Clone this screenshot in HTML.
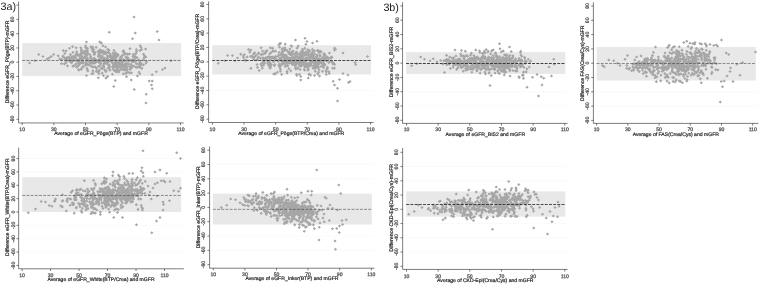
<!DOCTYPE html>
<html lang="en">
<head>
<meta charset="utf-8">
<title>Figure 3 - Bland-Altman plots</title>
<style>
html,body{margin:0;padding:0;background:#fff;}
body{width:760px;height:284px;overflow:hidden;font-family:"Liberation Sans",Arial,sans-serif;}
svg{display:block;}
text{text-rendering:geometricPrecision;}
.ax{stroke:#383838;stroke-width:0.65;fill:none;}
.band{fill:#e8e8e8;}
.grid{stroke:#f5f5f5;stroke-width:0.5;fill:none;}
.dash{stroke:#2c2c2c;stroke-dasharray:2.9 1.3;fill:none;}
.pts{fill:#a6a6a6;stroke:none;}
.tl{font-size:5.1px;fill:#505050;stroke:#505050;stroke-width:0.25;text-anchor:middle;font-family:"Liberation Sans",Arial,sans-serif;}
.tt{font-size:5.08px;fill:#2a2a2a;stroke:#2a2a2a;stroke-width:0.22;text-anchor:middle;font-family:"Liberation Sans",Arial,sans-serif;}
.lab{font-size:10.75px;fill:#1a1a1a;font-family:"Liberation Sans",Arial,sans-serif;}
</style>
</head>
<body>
<svg width="760" height="284" viewBox="0 0 760 284">
<rect x="0" y="0" width="760" height="284" fill="#ffffff"/>

<g id="panel1">
<rect class="band" x="22.2" y="43.05" width="159" height="33.05"/>
<path class="pts" d="M103.3 63.85l1.6 1.6-1.6 1.6-1.6-1.6zM75.89 62.46l1.6 1.6-1.6 1.6-1.6-1.6zM111.88 60.83l1.6 1.6-1.6 1.6-1.6-1.6zM95.7 65.74l1.6 1.6-1.6 1.6-1.6-1.6zM79.99 56.48l1.6 1.6-1.6 1.6-1.6-1.6zM81.22 61.07l1.6 1.6-1.6 1.6-1.6-1.6zM110.03 68.63l1.6 1.6-1.6 1.6-1.6-1.6zM128.84 57.85l1.6 1.6-1.6 1.6-1.6-1.6zM126.87 65.56l1.6 1.6-1.6 1.6-1.6-1.6zM116.32 70.41l1.6 1.6-1.6 1.6-1.6-1.6zM115.13 64.44l1.6 1.6-1.6 1.6-1.6-1.6zM103.88 52.36l1.6 1.6-1.6 1.6-1.6-1.6zM94.85 50.59l1.6 1.6-1.6 1.6-1.6-1.6zM126.97 68.18l1.6 1.6-1.6 1.6-1.6-1.6zM78.16 64.39l1.6 1.6-1.6 1.6-1.6-1.6zM98.23 54.7l1.6 1.6-1.6 1.6-1.6-1.6zM69.05 55.52l1.6 1.6-1.6 1.6-1.6-1.6zM65.62 58.72l1.6 1.6-1.6 1.6-1.6-1.6zM61.51 62.02l1.6 1.6-1.6 1.6-1.6-1.6zM144.17 56.23l1.6 1.6-1.6 1.6-1.6-1.6zM98.01 70.28l1.6 1.6-1.6 1.6-1.6-1.6zM118.83 65.52l1.6 1.6-1.6 1.6-1.6-1.6zM69.47 46.65l1.6 1.6-1.6 1.6-1.6-1.6zM116.11 68.6l1.6 1.6-1.6 1.6-1.6-1.6zM66.85 56.79l1.6 1.6-1.6 1.6-1.6-1.6zM125.86 52.32l1.6 1.6-1.6 1.6-1.6-1.6zM122.34 61.59l1.6 1.6-1.6 1.6-1.6-1.6zM103.88 62.26l1.6 1.6-1.6 1.6-1.6-1.6zM117.52 67.5l1.6 1.6-1.6 1.6-1.6-1.6zM137.6 65.51l1.6 1.6-1.6 1.6-1.6-1.6zM82.97 51.15l1.6 1.6-1.6 1.6-1.6-1.6zM139.07 70.57l1.6 1.6-1.6 1.6-1.6-1.6zM125.74 62.97l1.6 1.6-1.6 1.6-1.6-1.6zM79.54 58.11l1.6 1.6-1.6 1.6-1.6-1.6zM104.59 68.19l1.6 1.6-1.6 1.6-1.6-1.6zM90.81 45.18l1.6 1.6-1.6 1.6-1.6-1.6zM82.14 51.76l1.6 1.6-1.6 1.6-1.6-1.6zM139.9 49.01l1.6 1.6-1.6 1.6-1.6-1.6zM76.62 50.25l1.6 1.6-1.6 1.6-1.6-1.6zM122.78 64.97l1.6 1.6-1.6 1.6-1.6-1.6zM108.92 64.23l1.6 1.6-1.6 1.6-1.6-1.6zM87.85 69.32l1.6 1.6-1.6 1.6-1.6-1.6zM75.41 55.75l1.6 1.6-1.6 1.6-1.6-1.6zM96.76 58.78l1.6 1.6-1.6 1.6-1.6-1.6zM83.39 65.35l1.6 1.6-1.6 1.6-1.6-1.6zM133.13 52.77l1.6 1.6-1.6 1.6-1.6-1.6zM86.8 61.87l1.6 1.6-1.6 1.6-1.6-1.6zM75.77 52.98l1.6 1.6-1.6 1.6-1.6-1.6zM107.47 57.12l1.6 1.6-1.6 1.6-1.6-1.6zM86.24 57.35l1.6 1.6-1.6 1.6-1.6-1.6zM121.2 67.42l1.6 1.6-1.6 1.6-1.6-1.6zM89.6 62.44l1.6 1.6-1.6 1.6-1.6-1.6zM78.07 53.85l1.6 1.6-1.6 1.6-1.6-1.6zM116.83 65.8l1.6 1.6-1.6 1.6-1.6-1.6zM114.62 56.04l1.6 1.6-1.6 1.6-1.6-1.6zM110.68 58.08l1.6 1.6-1.6 1.6-1.6-1.6zM126.81 67.33l1.6 1.6-1.6 1.6-1.6-1.6zM71.6 61.22l1.6 1.6-1.6 1.6-1.6-1.6zM103.1 49.4l1.6 1.6-1.6 1.6-1.6-1.6zM106.18 59.83l1.6 1.6-1.6 1.6-1.6-1.6zM69.42 58.73l1.6 1.6-1.6 1.6-1.6-1.6zM67.83 58.79l1.6 1.6-1.6 1.6-1.6-1.6zM120.83 58.52l1.6 1.6-1.6 1.6-1.6-1.6zM132.04 59.77l1.6 1.6-1.6 1.6-1.6-1.6zM136.59 49.79l1.6 1.6-1.6 1.6-1.6-1.6zM108.69 49.13l1.6 1.6-1.6 1.6-1.6-1.6zM124.4 52.6l1.6 1.6-1.6 1.6-1.6-1.6zM98.47 58.28l1.6 1.6-1.6 1.6-1.6-1.6zM113.07 55.39l1.6 1.6-1.6 1.6-1.6-1.6zM81.73 54.53l1.6 1.6-1.6 1.6-1.6-1.6zM91.87 47.19l1.6 1.6-1.6 1.6-1.6-1.6zM124.85 63.45l1.6 1.6-1.6 1.6-1.6-1.6zM79.47 58.77l1.6 1.6-1.6 1.6-1.6-1.6zM139.59 63.99l1.6 1.6-1.6 1.6-1.6-1.6zM136.14 65.84l1.6 1.6-1.6 1.6-1.6-1.6zM115.05 55.25l1.6 1.6-1.6 1.6-1.6-1.6zM144.95 54.63l1.6 1.6-1.6 1.6-1.6-1.6zM92.24 58.35l1.6 1.6-1.6 1.6-1.6-1.6zM120.41 56.31l1.6 1.6-1.6 1.6-1.6-1.6zM111.26 54.72l1.6 1.6-1.6 1.6-1.6-1.6zM99.86 50.65l1.6 1.6-1.6 1.6-1.6-1.6zM98.96 60.92l1.6 1.6-1.6 1.6-1.6-1.6zM66.05 49.34l1.6 1.6-1.6 1.6-1.6-1.6zM87.53 46.79l1.6 1.6-1.6 1.6-1.6-1.6zM125.97 55.45l1.6 1.6-1.6 1.6-1.6-1.6zM109.6 66.56l1.6 1.6-1.6 1.6-1.6-1.6zM113.51 63.8l1.6 1.6-1.6 1.6-1.6-1.6zM139.7 65.79l1.6 1.6-1.6 1.6-1.6-1.6zM105.92 51.49l1.6 1.6-1.6 1.6-1.6-1.6zM122.63 59.42l1.6 1.6-1.6 1.6-1.6-1.6zM129.98 47.1l1.6 1.6-1.6 1.6-1.6-1.6zM129.77 67.77l1.6 1.6-1.6 1.6-1.6-1.6zM134.04 64.6l1.6 1.6-1.6 1.6-1.6-1.6zM86.26 52.07l1.6 1.6-1.6 1.6-1.6-1.6zM129.5 71.26l1.6 1.6-1.6 1.6-1.6-1.6zM107.48 54.19l1.6 1.6-1.6 1.6-1.6-1.6zM71.34 60.11l1.6 1.6-1.6 1.6-1.6-1.6zM118.11 53.19l1.6 1.6-1.6 1.6-1.6-1.6zM92.98 65.43l1.6 1.6-1.6 1.6-1.6-1.6zM130.32 67.57l1.6 1.6-1.6 1.6-1.6-1.6zM113.17 67.75l1.6 1.6-1.6 1.6-1.6-1.6zM94.66 56.79l1.6 1.6-1.6 1.6-1.6-1.6zM98.78 69.63l1.6 1.6-1.6 1.6-1.6-1.6zM99.75 48.28l1.6 1.6-1.6 1.6-1.6-1.6zM86.61 55.88l1.6 1.6-1.6 1.6-1.6-1.6zM114 63.8l1.6 1.6-1.6 1.6-1.6-1.6zM71.05 59.3l1.6 1.6-1.6 1.6-1.6-1.6zM77.72 58.22l1.6 1.6-1.6 1.6-1.6-1.6zM111.19 54.27l1.6 1.6-1.6 1.6-1.6-1.6zM75.82 62.75l1.6 1.6-1.6 1.6-1.6-1.6zM109.32 63.44l1.6 1.6-1.6 1.6-1.6-1.6zM120.44 57.32l1.6 1.6-1.6 1.6-1.6-1.6zM84.62 52.4l1.6 1.6-1.6 1.6-1.6-1.6zM96.75 67.12l1.6 1.6-1.6 1.6-1.6-1.6zM85.22 49.91l1.6 1.6-1.6 1.6-1.6-1.6zM78.84 68.43l1.6 1.6-1.6 1.6-1.6-1.6zM100.98 56.66l1.6 1.6-1.6 1.6-1.6-1.6zM128.63 58.14l1.6 1.6-1.6 1.6-1.6-1.6zM82.77 65.07l1.6 1.6-1.6 1.6-1.6-1.6zM82.78 61.41l1.6 1.6-1.6 1.6-1.6-1.6zM116.61 52.11l1.6 1.6-1.6 1.6-1.6-1.6zM58.13 54.22l1.6 1.6-1.6 1.6-1.6-1.6zM87.61 62.82l1.6 1.6-1.6 1.6-1.6-1.6zM103.93 60.08l1.6 1.6-1.6 1.6-1.6-1.6zM69.19 55.85l1.6 1.6-1.6 1.6-1.6-1.6zM140.83 62.19l1.6 1.6-1.6 1.6-1.6-1.6zM80.18 61.5l1.6 1.6-1.6 1.6-1.6-1.6zM124.74 58.97l1.6 1.6-1.6 1.6-1.6-1.6zM96.65 59.54l1.6 1.6-1.6 1.6-1.6-1.6zM70.69 60.45l1.6 1.6-1.6 1.6-1.6-1.6zM114.82 65.66l1.6 1.6-1.6 1.6-1.6-1.6zM123.27 72.26l1.6 1.6-1.6 1.6-1.6-1.6zM105.85 57.95l1.6 1.6-1.6 1.6-1.6-1.6zM105.9 70.04l1.6 1.6-1.6 1.6-1.6-1.6zM122.34 62.94l1.6 1.6-1.6 1.6-1.6-1.6zM127.68 52.85l1.6 1.6-1.6 1.6-1.6-1.6zM62.98 54.47l1.6 1.6-1.6 1.6-1.6-1.6zM143.47 52.38l1.6 1.6-1.6 1.6-1.6-1.6zM80.74 54.17l1.6 1.6-1.6 1.6-1.6-1.6zM135.49 59.76l1.6 1.6-1.6 1.6-1.6-1.6zM97.06 59.08l1.6 1.6-1.6 1.6-1.6-1.6zM101.37 41.45l1.6 1.6-1.6 1.6-1.6-1.6zM82.84 56.6l1.6 1.6-1.6 1.6-1.6-1.6zM129.54 52.33l1.6 1.6-1.6 1.6-1.6-1.6zM137.08 56.19l1.6 1.6-1.6 1.6-1.6-1.6zM132.54 58.92l1.6 1.6-1.6 1.6-1.6-1.6zM118.18 61.23l1.6 1.6-1.6 1.6-1.6-1.6zM119.36 68.99l1.6 1.6-1.6 1.6-1.6-1.6zM131.74 58.63l1.6 1.6-1.6 1.6-1.6-1.6zM123.68 58.16l1.6 1.6-1.6 1.6-1.6-1.6zM76.45 59.53l1.6 1.6-1.6 1.6-1.6-1.6zM91.84 72.14l1.6 1.6-1.6 1.6-1.6-1.6zM104.82 56.75l1.6 1.6-1.6 1.6-1.6-1.6zM116.44 60.25l1.6 1.6-1.6 1.6-1.6-1.6zM120.65 65.4l1.6 1.6-1.6 1.6-1.6-1.6zM85.64 49.83l1.6 1.6-1.6 1.6-1.6-1.6zM81.97 56.47l1.6 1.6-1.6 1.6-1.6-1.6zM108.48 58.77l1.6 1.6-1.6 1.6-1.6-1.6zM115.85 60.94l1.6 1.6-1.6 1.6-1.6-1.6zM133.72 60.03l1.6 1.6-1.6 1.6-1.6-1.6zM80.58 57.53l1.6 1.6-1.6 1.6-1.6-1.6zM114.5 61.7l1.6 1.6-1.6 1.6-1.6-1.6zM100.74 48.84l1.6 1.6-1.6 1.6-1.6-1.6zM106.47 60.42l1.6 1.6-1.6 1.6-1.6-1.6zM109.28 64.54l1.6 1.6-1.6 1.6-1.6-1.6zM73.18 58.32l1.6 1.6-1.6 1.6-1.6-1.6zM107.96 54.98l1.6 1.6-1.6 1.6-1.6-1.6zM125.4 61.95l1.6 1.6-1.6 1.6-1.6-1.6zM119.89 63.51l1.6 1.6-1.6 1.6-1.6-1.6zM108.18 66.58l1.6 1.6-1.6 1.6-1.6-1.6zM96.89 59.63l1.6 1.6-1.6 1.6-1.6-1.6zM59.82 57.23l1.6 1.6-1.6 1.6-1.6-1.6zM102.26 66.71l1.6 1.6-1.6 1.6-1.6-1.6zM64.73 51.78l1.6 1.6-1.6 1.6-1.6-1.6zM112.48 72.64l1.6 1.6-1.6 1.6-1.6-1.6zM118.4 62.5l1.6 1.6-1.6 1.6-1.6-1.6zM91.4 64.83l1.6 1.6-1.6 1.6-1.6-1.6zM88.31 58.05l1.6 1.6-1.6 1.6-1.6-1.6zM108.36 60.2l1.6 1.6-1.6 1.6-1.6-1.6zM127.58 70.29l1.6 1.6-1.6 1.6-1.6-1.6zM141.59 66.54l1.6 1.6-1.6 1.6-1.6-1.6zM66.98 55.78l1.6 1.6-1.6 1.6-1.6-1.6zM99.14 68.79l1.6 1.6-1.6 1.6-1.6-1.6zM98.75 50.16l1.6 1.6-1.6 1.6-1.6-1.6zM100.67 61.95l1.6 1.6-1.6 1.6-1.6-1.6zM64.3 62.32l1.6 1.6-1.6 1.6-1.6-1.6zM128.76 59.28l1.6 1.6-1.6 1.6-1.6-1.6zM134.42 57.08l1.6 1.6-1.6 1.6-1.6-1.6zM87.34 68.04l1.6 1.6-1.6 1.6-1.6-1.6zM101.82 66.84l1.6 1.6-1.6 1.6-1.6-1.6zM141.91 66.79l1.6 1.6-1.6 1.6-1.6-1.6zM115.15 53.85l1.6 1.6-1.6 1.6-1.6-1.6zM94.42 52.47l1.6 1.6-1.6 1.6-1.6-1.6zM81.63 50.47l1.6 1.6-1.6 1.6-1.6-1.6zM113.18 65.05l1.6 1.6-1.6 1.6-1.6-1.6zM120.46 56.1l1.6 1.6-1.6 1.6-1.6-1.6zM103.11 63.95l1.6 1.6-1.6 1.6-1.6-1.6zM53.58 52.88l1.6 1.6-1.6 1.6-1.6-1.6zM88.56 58.53l1.6 1.6-1.6 1.6-1.6-1.6zM109.92 53.84l1.6 1.6-1.6 1.6-1.6-1.6zM108.23 50.83l1.6 1.6-1.6 1.6-1.6-1.6zM130.84 58.47l1.6 1.6-1.6 1.6-1.6-1.6zM120 65.42l1.6 1.6-1.6 1.6-1.6-1.6zM67.53 64.3l1.6 1.6-1.6 1.6-1.6-1.6zM72.97 64.61l1.6 1.6-1.6 1.6-1.6-1.6zM103.58 50.06l1.6 1.6-1.6 1.6-1.6-1.6zM126.53 75.09l1.6 1.6-1.6 1.6-1.6-1.6zM138.94 58.45l1.6 1.6-1.6 1.6-1.6-1.6zM51.16 55.01l1.6 1.6-1.6 1.6-1.6-1.6zM107.61 74.84l1.6 1.6-1.6 1.6-1.6-1.6zM141.69 47.92l1.6 1.6-1.6 1.6-1.6-1.6zM94.89 52.24l1.6 1.6-1.6 1.6-1.6-1.6zM83.43 61.05l1.6 1.6-1.6 1.6-1.6-1.6zM132.17 64.18l1.6 1.6-1.6 1.6-1.6-1.6zM132.87 58.42l1.6 1.6-1.6 1.6-1.6-1.6zM126.87 56.96l1.6 1.6-1.6 1.6-1.6-1.6zM85.65 61.07l1.6 1.6-1.6 1.6-1.6-1.6zM123.43 49.07l1.6 1.6-1.6 1.6-1.6-1.6zM97.91 59.7l1.6 1.6-1.6 1.6-1.6-1.6zM70.17 59.99l1.6 1.6-1.6 1.6-1.6-1.6zM73.23 55.69l1.6 1.6-1.6 1.6-1.6-1.6zM139.79 72.13l1.6 1.6-1.6 1.6-1.6-1.6zM125.43 68.2l1.6 1.6-1.6 1.6-1.6-1.6zM85.54 50.31l1.6 1.6-1.6 1.6-1.6-1.6zM115.95 53.64l1.6 1.6-1.6 1.6-1.6-1.6zM124.46 51.06l1.6 1.6-1.6 1.6-1.6-1.6zM67.54 56.91l1.6 1.6-1.6 1.6-1.6-1.6zM113.69 52.11l1.6 1.6-1.6 1.6-1.6-1.6zM63.23 48.99l1.6 1.6-1.6 1.6-1.6-1.6zM122.4 53.8l1.6 1.6-1.6 1.6-1.6-1.6zM80.35 54.2l1.6 1.6-1.6 1.6-1.6-1.6zM121.62 56.57l1.6 1.6-1.6 1.6-1.6-1.6zM71.91 55.32l1.6 1.6-1.6 1.6-1.6-1.6zM87.11 53.41l1.6 1.6-1.6 1.6-1.6-1.6zM106.76 62.04l1.6 1.6-1.6 1.6-1.6-1.6zM113.76 56.86l1.6 1.6-1.6 1.6-1.6-1.6zM94.4 58.43l1.6 1.6-1.6 1.6-1.6-1.6zM125.74 71.73l1.6 1.6-1.6 1.6-1.6-1.6zM85.17 63.31l1.6 1.6-1.6 1.6-1.6-1.6zM116.01 68.77l1.6 1.6-1.6 1.6-1.6-1.6zM67.04 58.65l1.6 1.6-1.6 1.6-1.6-1.6zM94.96 65.14l1.6 1.6-1.6 1.6-1.6-1.6zM144.34 54.21l1.6 1.6-1.6 1.6-1.6-1.6zM106.29 61.31l1.6 1.6-1.6 1.6-1.6-1.6zM129.58 64.99l1.6 1.6-1.6 1.6-1.6-1.6zM83.94 56.11l1.6 1.6-1.6 1.6-1.6-1.6zM114.69 69.29l1.6 1.6-1.6 1.6-1.6-1.6zM115.35 56.87l1.6 1.6-1.6 1.6-1.6-1.6zM126.73 71.34l1.6 1.6-1.6 1.6-1.6-1.6zM120.6 55.56l1.6 1.6-1.6 1.6-1.6-1.6zM128.44 62.28l1.6 1.6-1.6 1.6-1.6-1.6zM80.22 52.84l1.6 1.6-1.6 1.6-1.6-1.6zM85.17 54.59l1.6 1.6-1.6 1.6-1.6-1.6zM145.85 55.42l1.6 1.6-1.6 1.6-1.6-1.6zM90.3 60.11l1.6 1.6-1.6 1.6-1.6-1.6zM112.28 65.14l1.6 1.6-1.6 1.6-1.6-1.6zM120.41 62.25l1.6 1.6-1.6 1.6-1.6-1.6zM79.78 57.49l1.6 1.6-1.6 1.6-1.6-1.6zM78.5 61.98l1.6 1.6-1.6 1.6-1.6-1.6zM107.25 59.86l1.6 1.6-1.6 1.6-1.6-1.6zM82.6 58.58l1.6 1.6-1.6 1.6-1.6-1.6zM75.73 54.4l1.6 1.6-1.6 1.6-1.6-1.6zM75.52 57.09l1.6 1.6-1.6 1.6-1.6-1.6zM110.69 59.64l1.6 1.6-1.6 1.6-1.6-1.6zM87.14 63.4l1.6 1.6-1.6 1.6-1.6-1.6zM94.03 61.54l1.6 1.6-1.6 1.6-1.6-1.6zM112.23 58.98l1.6 1.6-1.6 1.6-1.6-1.6zM111.09 54.78l1.6 1.6-1.6 1.6-1.6-1.6zM110.53 53.64l1.6 1.6-1.6 1.6-1.6-1.6zM90.84 56.66l1.6 1.6-1.6 1.6-1.6-1.6zM145.98 61.46l1.6 1.6-1.6 1.6-1.6-1.6zM121.68 59.55l1.6 1.6-1.6 1.6-1.6-1.6zM95.64 60.94l1.6 1.6-1.6 1.6-1.6-1.6zM98.45 59.49l1.6 1.6-1.6 1.6-1.6-1.6zM126.69 62.44l1.6 1.6-1.6 1.6-1.6-1.6zM115.19 51.32l1.6 1.6-1.6 1.6-1.6-1.6zM70.04 56.42l1.6 1.6-1.6 1.6-1.6-1.6zM146.61 59.88l1.6 1.6-1.6 1.6-1.6-1.6zM96.23 58.61l1.6 1.6-1.6 1.6-1.6-1.6zM113.81 53.74l1.6 1.6-1.6 1.6-1.6-1.6zM73.27 59.12l1.6 1.6-1.6 1.6-1.6-1.6zM138.43 62.34l1.6 1.6-1.6 1.6-1.6-1.6zM114.8 51.76l1.6 1.6-1.6 1.6-1.6-1.6zM113.41 65.8l1.6 1.6-1.6 1.6-1.6-1.6zM81.29 49.21l1.6 1.6-1.6 1.6-1.6-1.6zM100.16 63.59l1.6 1.6-1.6 1.6-1.6-1.6zM127.68 56.01l1.6 1.6-1.6 1.6-1.6-1.6zM110.93 55.58l1.6 1.6-1.6 1.6-1.6-1.6zM109.65 59.21l1.6 1.6-1.6 1.6-1.6-1.6zM112.89 56.63l1.6 1.6-1.6 1.6-1.6-1.6zM82.88 59.06l1.6 1.6-1.6 1.6-1.6-1.6zM85.5 45.86l1.6 1.6-1.6 1.6-1.6-1.6zM115.2 58.23l1.6 1.6-1.6 1.6-1.6-1.6zM118.06 63.78l1.6 1.6-1.6 1.6-1.6-1.6zM120.11 58.33l1.6 1.6-1.6 1.6-1.6-1.6zM96.14 45.76l1.6 1.6-1.6 1.6-1.6-1.6zM124.48 68.56l1.6 1.6-1.6 1.6-1.6-1.6zM98.97 71.98l1.6 1.6-1.6 1.6-1.6-1.6zM96.23 59.95l1.6 1.6-1.6 1.6-1.6-1.6zM105.79 52.09l1.6 1.6-1.6 1.6-1.6-1.6zM131.91 60.18l1.6 1.6-1.6 1.6-1.6-1.6zM93.61 47.8l1.6 1.6-1.6 1.6-1.6-1.6zM145.59 47.44l1.6 1.6-1.6 1.6-1.6-1.6zM135.96 51.81l1.6 1.6-1.6 1.6-1.6-1.6zM105.5 45.38l1.6 1.6-1.6 1.6-1.6-1.6zM80.44 57.08l1.6 1.6-1.6 1.6-1.6-1.6zM72.88 50.85l1.6 1.6-1.6 1.6-1.6-1.6zM126.33 59.06l1.6 1.6-1.6 1.6-1.6-1.6zM132.12 59.72l1.6 1.6-1.6 1.6-1.6-1.6zM102.12 71.45l1.6 1.6-1.6 1.6-1.6-1.6zM140.39 60.68l1.6 1.6-1.6 1.6-1.6-1.6zM124.01 67.09l1.6 1.6-1.6 1.6-1.6-1.6zM105.24 51.07l1.6 1.6-1.6 1.6-1.6-1.6zM135.47 55.08l1.6 1.6-1.6 1.6-1.6-1.6zM99.39 69.06l1.6 1.6-1.6 1.6-1.6-1.6zM78.49 67.96l1.6 1.6-1.6 1.6-1.6-1.6zM113.9 62.67l1.6 1.6-1.6 1.6-1.6-1.6zM92.35 59.97l1.6 1.6-1.6 1.6-1.6-1.6zM90.67 60.48l1.6 1.6-1.6 1.6-1.6-1.6zM65 56.69l1.6 1.6-1.6 1.6-1.6-1.6zM82.27 61.42l1.6 1.6-1.6 1.6-1.6-1.6zM112.92 61.6l1.6 1.6-1.6 1.6-1.6-1.6zM123.31 59.45l1.6 1.6-1.6 1.6-1.6-1.6zM90.7 54.87l1.6 1.6-1.6 1.6-1.6-1.6zM111.34 60.03l1.6 1.6-1.6 1.6-1.6-1.6zM115.58 65.09l1.6 1.6-1.6 1.6-1.6-1.6zM117.53 54.45l1.6 1.6-1.6 1.6-1.6-1.6zM118.83 58.87l1.6 1.6-1.6 1.6-1.6-1.6zM99.46 51.2l1.6 1.6-1.6 1.6-1.6-1.6zM98.55 53.06l1.6 1.6-1.6 1.6-1.6-1.6zM101.46 58.29l1.6 1.6-1.6 1.6-1.6-1.6zM79.76 61.56l1.6 1.6-1.6 1.6-1.6-1.6zM94.71 56.92l1.6 1.6-1.6 1.6-1.6-1.6zM92.75 45.41l1.6 1.6-1.6 1.6-1.6-1.6zM114.45 54.65l1.6 1.6-1.6 1.6-1.6-1.6zM113.74 54.82l1.6 1.6-1.6 1.6-1.6-1.6zM99.71 40.32l1.6 1.6-1.6 1.6-1.6-1.6zM72.53 44.95l1.6 1.6-1.6 1.6-1.6-1.6zM102.95 44.22l1.6 1.6-1.6 1.6-1.6-1.6zM73.3 54.74l1.6 1.6-1.6 1.6-1.6-1.6zM62.76 54.89l1.6 1.6-1.6 1.6-1.6-1.6zM100.96 54.75l1.6 1.6-1.6 1.6-1.6-1.6zM104.12 65.36l1.6 1.6-1.6 1.6-1.6-1.6zM124.8 65.6l1.6 1.6-1.6 1.6-1.6-1.6zM137.42 74.28l1.6 1.6-1.6 1.6-1.6-1.6zM96.28 69.75l1.6 1.6-1.6 1.6-1.6-1.6zM119.83 62.15l1.6 1.6-1.6 1.6-1.6-1.6zM101.03 66.58l1.6 1.6-1.6 1.6-1.6-1.6zM103.06 56.27l1.6 1.6-1.6 1.6-1.6-1.6zM85.6 44.21l1.6 1.6-1.6 1.6-1.6-1.6zM114.02 48.82l1.6 1.6-1.6 1.6-1.6-1.6zM99.63 57.39l1.6 1.6-1.6 1.6-1.6-1.6zM115.48 54.42l1.6 1.6-1.6 1.6-1.6-1.6zM134.25 58.15l1.6 1.6-1.6 1.6-1.6-1.6zM86.63 48.6l1.6 1.6-1.6 1.6-1.6-1.6zM140.81 61.89l1.6 1.6-1.6 1.6-1.6-1.6zM128.2 62.51l1.6 1.6-1.6 1.6-1.6-1.6zM116.26 63.03l1.6 1.6-1.6 1.6-1.6-1.6zM82.25 60.78l1.6 1.6-1.6 1.6-1.6-1.6zM102.21 54.6l1.6 1.6-1.6 1.6-1.6-1.6zM120.96 55.51l1.6 1.6-1.6 1.6-1.6-1.6zM105.86 58.49l1.6 1.6-1.6 1.6-1.6-1.6zM105.18 50.26l1.6 1.6-1.6 1.6-1.6-1.6zM116.96 70.22l1.6 1.6-1.6 1.6-1.6-1.6zM111.85 60.39l1.6 1.6-1.6 1.6-1.6-1.6zM126.53 64.67l1.6 1.6-1.6 1.6-1.6-1.6zM93.18 48.53l1.6 1.6-1.6 1.6-1.6-1.6zM89.17 63.54l1.6 1.6-1.6 1.6-1.6-1.6zM93.12 58.17l1.6 1.6-1.6 1.6-1.6-1.6zM99.94 53.62l1.6 1.6-1.6 1.6-1.6-1.6zM116.07 62.25l1.6 1.6-1.6 1.6-1.6-1.6zM132.52 58.95l1.6 1.6-1.6 1.6-1.6-1.6zM123.52 59.25l1.6 1.6-1.6 1.6-1.6-1.6zM121.09 62.25l1.6 1.6-1.6 1.6-1.6-1.6zM140.22 44.13l1.6 1.6-1.6 1.6-1.6-1.6zM78.44 60.09l1.6 1.6-1.6 1.6-1.6-1.6zM76.15 53.8l1.6 1.6-1.6 1.6-1.6-1.6zM116.02 56.08l1.6 1.6-1.6 1.6-1.6-1.6zM113.74 64.55l1.6 1.6-1.6 1.6-1.6-1.6zM86.8 58.87l1.6 1.6-1.6 1.6-1.6-1.6zM119.99 65.05l1.6 1.6-1.6 1.6-1.6-1.6zM92.64 60.84l1.6 1.6-1.6 1.6-1.6-1.6zM127.09 61.79l1.6 1.6-1.6 1.6-1.6-1.6zM110.3 55.83l1.6 1.6-1.6 1.6-1.6-1.6zM139.63 64.78l1.6 1.6-1.6 1.6-1.6-1.6zM93.16 71.63l1.6 1.6-1.6 1.6-1.6-1.6zM113.69 53.06l1.6 1.6-1.6 1.6-1.6-1.6zM104.56 61.85l1.6 1.6-1.6 1.6-1.6-1.6zM110.73 57.71l1.6 1.6-1.6 1.6-1.6-1.6zM113.48 62.99l1.6 1.6-1.6 1.6-1.6-1.6zM73.43 64.43l1.6 1.6-1.6 1.6-1.6-1.6zM89.92 53.07l1.6 1.6-1.6 1.6-1.6-1.6zM138.94 58.69l1.6 1.6-1.6 1.6-1.6-1.6zM114.79 57.25l1.6 1.6-1.6 1.6-1.6-1.6zM87.91 51.53l1.6 1.6-1.6 1.6-1.6-1.6zM109.9 52.27l1.6 1.6-1.6 1.6-1.6-1.6zM94.13 53.17l1.6 1.6-1.6 1.6-1.6-1.6zM133.75 54.09l1.6 1.6-1.6 1.6-1.6-1.6zM88.76 59.71l1.6 1.6-1.6 1.6-1.6-1.6zM115.82 58.76l1.6 1.6-1.6 1.6-1.6-1.6zM121.34 67.18l1.6 1.6-1.6 1.6-1.6-1.6zM101.52 51.08l1.6 1.6-1.6 1.6-1.6-1.6zM98.56 64.91l1.6 1.6-1.6 1.6-1.6-1.6zM140.85 62.98l1.6 1.6-1.6 1.6-1.6-1.6zM91.86 61.18l1.6 1.6-1.6 1.6-1.6-1.6zM131.4 71.23l1.6 1.6-1.6 1.6-1.6-1.6zM123.76 63.82l1.6 1.6-1.6 1.6-1.6-1.6zM141.67 62.65l1.6 1.6-1.6 1.6-1.6-1.6zM72.72 59.47l1.6 1.6-1.6 1.6-1.6-1.6zM139.99 61.54l1.6 1.6-1.6 1.6-1.6-1.6zM130.88 62.73l1.6 1.6-1.6 1.6-1.6-1.6zM84.69 55.46l1.6 1.6-1.6 1.6-1.6-1.6zM140.2 60.79l1.6 1.6-1.6 1.6-1.6-1.6zM107.77 47.77l1.6 1.6-1.6 1.6-1.6-1.6zM81.36 67.7l1.6 1.6-1.6 1.6-1.6-1.6zM131.75 66.06l1.6 1.6-1.6 1.6-1.6-1.6zM80.76 46.17l1.6 1.6-1.6 1.6-1.6-1.6zM132.91 55.12l1.6 1.6-1.6 1.6-1.6-1.6zM87.24 56.17l1.6 1.6-1.6 1.6-1.6-1.6zM66.93 56.75l1.6 1.6-1.6 1.6-1.6-1.6zM109.1 64.61l1.6 1.6-1.6 1.6-1.6-1.6zM86.02 57.3l1.6 1.6-1.6 1.6-1.6-1.6zM125.9 55.79l1.6 1.6-1.6 1.6-1.6-1.6zM107.26 62.13l1.6 1.6-1.6 1.6-1.6-1.6zM141.03 45.85l1.6 1.6-1.6 1.6-1.6-1.6zM107.33 61.5l1.6 1.6-1.6 1.6-1.6-1.6zM92.58 60.08l1.6 1.6-1.6 1.6-1.6-1.6zM97.82 50.08l1.6 1.6-1.6 1.6-1.6-1.6zM70.44 52.95l1.6 1.6-1.6 1.6-1.6-1.6zM99.07 54.55l1.6 1.6-1.6 1.6-1.6-1.6zM105.94 76.46l1.6 1.6-1.6 1.6-1.6-1.6zM136.41 48.04l1.6 1.6-1.6 1.6-1.6-1.6zM122.92 49.95l1.6 1.6-1.6 1.6-1.6-1.6zM101.84 49.11l1.6 1.6-1.6 1.6-1.6-1.6zM105.79 59.67l1.6 1.6-1.6 1.6-1.6-1.6zM79.51 54.14l1.6 1.6-1.6 1.6-1.6-1.6zM61.97 57.96l1.6 1.6-1.6 1.6-1.6-1.6zM143.43 63.22l1.6 1.6-1.6 1.6-1.6-1.6zM81.24 67.08l1.6 1.6-1.6 1.6-1.6-1.6zM107.42 55l1.6 1.6-1.6 1.6-1.6-1.6zM77.3 52.14l1.6 1.6-1.6 1.6-1.6-1.6zM103.52 73.97l1.6 1.6-1.6 1.6-1.6-1.6zM104.05 58.53l1.6 1.6-1.6 1.6-1.6-1.6zM87.6 49.21l1.6 1.6-1.6 1.6-1.6-1.6zM63.33 55.11l1.6 1.6-1.6 1.6-1.6-1.6zM81.45 51.36l1.6 1.6-1.6 1.6-1.6-1.6zM92.88 69.23l1.6 1.6-1.6 1.6-1.6-1.6zM117.95 53.72l1.6 1.6-1.6 1.6-1.6-1.6zM113.77 63.64l1.6 1.6-1.6 1.6-1.6-1.6zM86.94 66.63l1.6 1.6-1.6 1.6-1.6-1.6zM79.4 62.98l1.6 1.6-1.6 1.6-1.6-1.6zM93.85 56.72l1.6 1.6-1.6 1.6-1.6-1.6zM79.51 60.51l1.6 1.6-1.6 1.6-1.6-1.6zM76.1 46.24l1.6 1.6-1.6 1.6-1.6-1.6zM106.28 69.06l1.6 1.6-1.6 1.6-1.6-1.6zM72.04 57.77l1.6 1.6-1.6 1.6-1.6-1.6zM135.7 52.04l1.6 1.6-1.6 1.6-1.6-1.6zM94.95 61.1l1.6 1.6-1.6 1.6-1.6-1.6zM109.06 48.69l1.6 1.6-1.6 1.6-1.6-1.6zM99.23 60.37l1.6 1.6-1.6 1.6-1.6-1.6zM121.67 54.61l1.6 1.6-1.6 1.6-1.6-1.6zM112.97 51.51l1.6 1.6-1.6 1.6-1.6-1.6zM101.13 59.82l1.6 1.6-1.6 1.6-1.6-1.6zM65.95 61.22l1.6 1.6-1.6 1.6-1.6-1.6zM134.77 59.76l1.6 1.6-1.6 1.6-1.6-1.6zM118.97 60.41l1.6 1.6-1.6 1.6-1.6-1.6zM121.94 68.03l1.6 1.6-1.6 1.6-1.6-1.6zM90.45 55.47l1.6 1.6-1.6 1.6-1.6-1.6zM104.94 56.58l1.6 1.6-1.6 1.6-1.6-1.6zM73.9 64.19l1.6 1.6-1.6 1.6-1.6-1.6zM85.99 63.36l1.6 1.6-1.6 1.6-1.6-1.6zM72.81 56.03l1.6 1.6-1.6 1.6-1.6-1.6zM119 70.36l1.6 1.6-1.6 1.6-1.6-1.6zM121.71 64.33l1.6 1.6-1.6 1.6-1.6-1.6zM127.82 52.6l1.6 1.6-1.6 1.6-1.6-1.6zM111.81 57.03l1.6 1.6-1.6 1.6-1.6-1.6zM70.81 59.83l1.6 1.6-1.6 1.6-1.6-1.6zM114.92 59.16l1.6 1.6-1.6 1.6-1.6-1.6zM136.34 62.22l1.6 1.6-1.6 1.6-1.6-1.6zM84.26 49.67l1.6 1.6-1.6 1.6-1.6-1.6zM82.42 58.28l1.6 1.6-1.6 1.6-1.6-1.6zM112.61 57.61l1.6 1.6-1.6 1.6-1.6-1.6zM113.27 65.55l1.6 1.6-1.6 1.6-1.6-1.6zM92.46 61.97l1.6 1.6-1.6 1.6-1.6-1.6zM143.13 58.43l1.6 1.6-1.6 1.6-1.6-1.6zM81.52 48.03l1.6 1.6-1.6 1.6-1.6-1.6zM76.53 65.45l1.6 1.6-1.6 1.6-1.6-1.6zM92.69 49.59l1.6 1.6-1.6 1.6-1.6-1.6zM105.55 50.14l1.6 1.6-1.6 1.6-1.6-1.6zM93.64 50.87l1.6 1.6-1.6 1.6-1.6-1.6zM134 15.4l1.6 1.6-1.6 1.6-1.6-1.6zM109.25 30.65l1.6 1.6-1.6 1.6-1.6-1.6zM135.25 31.4l1.6 1.6-1.6 1.6-1.6-1.6zM157.25 29.9l1.6 1.6-1.6 1.6-1.6-1.6zM132.5 37.15l1.6 1.6-1.6 1.6-1.6-1.6zM159 38.4l1.6 1.6-1.6 1.6-1.6-1.6zM86.5 40.4l1.6 1.6-1.6 1.6-1.6-1.6zM29.5 61.4l1.6 1.6-1.6 1.6-1.6-1.6zM35 59.15l1.6 1.6-1.6 1.6-1.6-1.6zM38.75 52.9l1.6 1.6-1.6 1.6-1.6-1.6zM43 54.9l1.6 1.6-1.6 1.6-1.6-1.6zM47 57.4l1.6 1.6-1.6 1.6-1.6-1.6zM49 56.4l1.6 1.6-1.6 1.6-1.6-1.6zM171 59.15l1.6 1.6-1.6 1.6-1.6-1.6zM165 66.4l1.6 1.6-1.6 1.6-1.6-1.6zM162.5 67.9l1.6 1.6-1.6 1.6-1.6-1.6zM86.5 73.9l1.6 1.6-1.6 1.6-1.6-1.6zM98.25 76.15l1.6 1.6-1.6 1.6-1.6-1.6zM115.25 78.9l1.6 1.6-1.6 1.6-1.6-1.6zM113.75 84.9l1.6 1.6-1.6 1.6-1.6-1.6zM131.25 78.4l1.6 1.6-1.6 1.6-1.6-1.6zM134.25 87.9l1.6 1.6-1.6 1.6-1.6-1.6zM146.25 92.65l1.6 1.6-1.6 1.6-1.6-1.6zM146 101.4l1.6 1.6-1.6 1.6-1.6-1.6zM149.25 79.4l1.6 1.6-1.6 1.6-1.6-1.6zM152.25 79.4l1.6 1.6-1.6 1.6-1.6-1.6zM151.5 83.4l1.6 1.6-1.6 1.6-1.6-1.6zM152.25 87.15l1.6 1.6-1.6 1.6-1.6-1.6zM152.25 73.15l1.6 1.6-1.6 1.6-1.6-1.6zM156.25 70.15l1.6 1.6-1.6 1.6-1.6-1.6z"/>
<line class="dash" stroke-width="0.58" x1="22.2" y1="60.45" x2="181.2" y2="60.45"/>
<path class="ax" d="M18.6 1.5V122.95"/>
<path class="ax" d="M18.6 122.95H183.7"/>
<path class="ax" d="M18.6 119.28h-2.2M18.6 105.01h-2.2M18.6 90.74h-2.2M18.6 76.47h-2.2M18.6 62.2h-2.2M18.6 47.93h-2.2M18.6 33.66h-2.2M18.6 19.39h-2.2M18.6 5.12h-2.2M22.2 122.95v2.2M53.86 122.95v2.2M85.52 122.95v2.2M117.18 122.95v2.2M148.84 122.95v2.2M180.5 122.95v2.2"/>
<text class="tl" transform="translate(14.2 119.28) rotate(-90)">-80</text>
<text class="tl" transform="translate(14.2 105.01) rotate(-90)">-60</text>
<text class="tl" transform="translate(14.2 90.74) rotate(-90)">-40</text>
<text class="tl" transform="translate(14.2 76.47) rotate(-90)">-20</text>
<text class="tl" transform="translate(14.2 62.2) rotate(-90)">0</text>
<text class="tl" transform="translate(14.2 47.93) rotate(-90)">20</text>
<text class="tl" transform="translate(14.2 33.66) rotate(-90)">40</text>
<text class="tl" transform="translate(14.2 19.39) rotate(-90)">60</text>
<text class="tl" x="22.2" y="130.7">10</text>
<text class="tl" x="53.86" y="130.7">30</text>
<text class="tl" x="85.52" y="130.7">50</text>
<text class="tl" x="117.18" y="130.7">70</text>
<text class="tl" x="148.84" y="130.7">90</text>
<text class="tl" x="180.5" y="130.7">110</text>
<text class="tt" transform="translate(9 61.9) rotate(-90)">Difference eGFR_Pöge(BTP)-mGFR</text>
<text class="tt" x="101" y="135.3">Average of eGFR_Pöge(BTP) and mGFR</text>
</g>
<g id="panel2">
<path class="grid" d="M208.6 90.46H373.7"/>
<rect class="band" x="212.2" y="45.25" width="158.9" height="29.25"/>
<path class="pts" d="M282.73 62.66l1.6 1.6-1.6 1.6-1.6-1.6zM305.17 59.06l1.6 1.6-1.6 1.6-1.6-1.6zM297.19 66.9l1.6 1.6-1.6 1.6-1.6-1.6zM308.38 61.92l1.6 1.6-1.6 1.6-1.6-1.6zM262.31 66.56l1.6 1.6-1.6 1.6-1.6-1.6zM301.99 57.37l1.6 1.6-1.6 1.6-1.6-1.6zM281.1 53.03l1.6 1.6-1.6 1.6-1.6-1.6zM250.57 54.78l1.6 1.6-1.6 1.6-1.6-1.6zM324.21 51.9l1.6 1.6-1.6 1.6-1.6-1.6zM293.23 62.67l1.6 1.6-1.6 1.6-1.6-1.6zM316.82 62.2l1.6 1.6-1.6 1.6-1.6-1.6zM274.33 63.94l1.6 1.6-1.6 1.6-1.6-1.6zM279.49 45.48l1.6 1.6-1.6 1.6-1.6-1.6zM291.62 59.55l1.6 1.6-1.6 1.6-1.6-1.6zM258.57 51.95l1.6 1.6-1.6 1.6-1.6-1.6zM299.53 72.67l1.6 1.6-1.6 1.6-1.6-1.6zM295.04 56.01l1.6 1.6-1.6 1.6-1.6-1.6zM318.5 70.76l1.6 1.6-1.6 1.6-1.6-1.6zM322.87 55.69l1.6 1.6-1.6 1.6-1.6-1.6zM304.84 61.69l1.6 1.6-1.6 1.6-1.6-1.6zM315.95 58.2l1.6 1.6-1.6 1.6-1.6-1.6zM284.75 46.18l1.6 1.6-1.6 1.6-1.6-1.6zM302.94 53.64l1.6 1.6-1.6 1.6-1.6-1.6zM296.57 61.67l1.6 1.6-1.6 1.6-1.6-1.6zM317 55.39l1.6 1.6-1.6 1.6-1.6-1.6zM257.52 65.88l1.6 1.6-1.6 1.6-1.6-1.6zM258.46 55.41l1.6 1.6-1.6 1.6-1.6-1.6zM331.55 55.24l1.6 1.6-1.6 1.6-1.6-1.6zM296.38 50.39l1.6 1.6-1.6 1.6-1.6-1.6zM295.03 58.06l1.6 1.6-1.6 1.6-1.6-1.6zM263.64 52.33l1.6 1.6-1.6 1.6-1.6-1.6zM305.44 51.87l1.6 1.6-1.6 1.6-1.6-1.6zM305.68 59.43l1.6 1.6-1.6 1.6-1.6-1.6zM271.35 62.94l1.6 1.6-1.6 1.6-1.6-1.6zM314.54 65.59l1.6 1.6-1.6 1.6-1.6-1.6zM304.73 52.68l1.6 1.6-1.6 1.6-1.6-1.6zM307.68 64.56l1.6 1.6-1.6 1.6-1.6-1.6zM298.81 57.16l1.6 1.6-1.6 1.6-1.6-1.6zM325.05 63.32l1.6 1.6-1.6 1.6-1.6-1.6zM262.99 57.72l1.6 1.6-1.6 1.6-1.6-1.6zM307.49 53.17l1.6 1.6-1.6 1.6-1.6-1.6zM301.36 57.1l1.6 1.6-1.6 1.6-1.6-1.6zM305.41 56.86l1.6 1.6-1.6 1.6-1.6-1.6zM281.91 50.59l1.6 1.6-1.6 1.6-1.6-1.6zM284.19 59.24l1.6 1.6-1.6 1.6-1.6-1.6zM285.04 53.8l1.6 1.6-1.6 1.6-1.6-1.6zM314.91 52.63l1.6 1.6-1.6 1.6-1.6-1.6zM301.79 58.88l1.6 1.6-1.6 1.6-1.6-1.6zM310.57 52.55l1.6 1.6-1.6 1.6-1.6-1.6zM265.66 50.82l1.6 1.6-1.6 1.6-1.6-1.6zM261.09 52.63l1.6 1.6-1.6 1.6-1.6-1.6zM311.86 59.22l1.6 1.6-1.6 1.6-1.6-1.6zM287.06 69.82l1.6 1.6-1.6 1.6-1.6-1.6zM269.91 61.67l1.6 1.6-1.6 1.6-1.6-1.6zM284.4 60.21l1.6 1.6-1.6 1.6-1.6-1.6zM294.54 62.65l1.6 1.6-1.6 1.6-1.6-1.6zM292.1 55.93l1.6 1.6-1.6 1.6-1.6-1.6zM252.72 55.03l1.6 1.6-1.6 1.6-1.6-1.6zM289.07 58.61l1.6 1.6-1.6 1.6-1.6-1.6zM302.11 61.68l1.6 1.6-1.6 1.6-1.6-1.6zM278.88 58.41l1.6 1.6-1.6 1.6-1.6-1.6zM287.35 64.07l1.6 1.6-1.6 1.6-1.6-1.6zM257.02 62.96l1.6 1.6-1.6 1.6-1.6-1.6zM319.71 57.48l1.6 1.6-1.6 1.6-1.6-1.6zM294.62 59.67l1.6 1.6-1.6 1.6-1.6-1.6zM282.18 61.75l1.6 1.6-1.6 1.6-1.6-1.6zM316.58 61.67l1.6 1.6-1.6 1.6-1.6-1.6zM315.75 58.01l1.6 1.6-1.6 1.6-1.6-1.6zM290.81 69.24l1.6 1.6-1.6 1.6-1.6-1.6zM331.65 56.01l1.6 1.6-1.6 1.6-1.6-1.6zM294.74 62.09l1.6 1.6-1.6 1.6-1.6-1.6zM303.03 60.14l1.6 1.6-1.6 1.6-1.6-1.6zM288.9 67.11l1.6 1.6-1.6 1.6-1.6-1.6zM312.9 60.6l1.6 1.6-1.6 1.6-1.6-1.6zM299.94 59.34l1.6 1.6-1.6 1.6-1.6-1.6zM254.1 57.97l1.6 1.6-1.6 1.6-1.6-1.6zM270.63 65.36l1.6 1.6-1.6 1.6-1.6-1.6zM290.98 58.94l1.6 1.6-1.6 1.6-1.6-1.6zM287.82 58.84l1.6 1.6-1.6 1.6-1.6-1.6zM295.8 64.51l1.6 1.6-1.6 1.6-1.6-1.6zM320.11 54.58l1.6 1.6-1.6 1.6-1.6-1.6zM317.85 60.63l1.6 1.6-1.6 1.6-1.6-1.6zM279.71 56.87l1.6 1.6-1.6 1.6-1.6-1.6zM302.36 55.75l1.6 1.6-1.6 1.6-1.6-1.6zM313.95 60.12l1.6 1.6-1.6 1.6-1.6-1.6zM284.58 56.92l1.6 1.6-1.6 1.6-1.6-1.6zM278.02 59.14l1.6 1.6-1.6 1.6-1.6-1.6zM299.38 63.23l1.6 1.6-1.6 1.6-1.6-1.6zM268.8 54.88l1.6 1.6-1.6 1.6-1.6-1.6zM313.57 57.92l1.6 1.6-1.6 1.6-1.6-1.6zM261.44 53.47l1.6 1.6-1.6 1.6-1.6-1.6zM316.36 57.8l1.6 1.6-1.6 1.6-1.6-1.6zM296.32 61.96l1.6 1.6-1.6 1.6-1.6-1.6zM317.89 65.02l1.6 1.6-1.6 1.6-1.6-1.6zM274.71 58.78l1.6 1.6-1.6 1.6-1.6-1.6zM264.4 58.56l1.6 1.6-1.6 1.6-1.6-1.6zM267.38 59.55l1.6 1.6-1.6 1.6-1.6-1.6zM332.85 62.24l1.6 1.6-1.6 1.6-1.6-1.6zM288.47 57.29l1.6 1.6-1.6 1.6-1.6-1.6zM296.54 72.69l1.6 1.6-1.6 1.6-1.6-1.6zM296.83 73.87l1.6 1.6-1.6 1.6-1.6-1.6zM265.62 49.65l1.6 1.6-1.6 1.6-1.6-1.6zM268.87 64.06l1.6 1.6-1.6 1.6-1.6-1.6zM324.85 56.51l1.6 1.6-1.6 1.6-1.6-1.6zM275.74 54.86l1.6 1.6-1.6 1.6-1.6-1.6zM269.72 60.77l1.6 1.6-1.6 1.6-1.6-1.6zM323.75 59.55l1.6 1.6-1.6 1.6-1.6-1.6zM296.71 58.17l1.6 1.6-1.6 1.6-1.6-1.6zM308.42 53.4l1.6 1.6-1.6 1.6-1.6-1.6zM325.75 58.21l1.6 1.6-1.6 1.6-1.6-1.6zM313.14 53.7l1.6 1.6-1.6 1.6-1.6-1.6zM254.91 55.11l1.6 1.6-1.6 1.6-1.6-1.6zM313.45 59.08l1.6 1.6-1.6 1.6-1.6-1.6zM271.18 56.09l1.6 1.6-1.6 1.6-1.6-1.6zM321.19 50.36l1.6 1.6-1.6 1.6-1.6-1.6zM301.25 52.11l1.6 1.6-1.6 1.6-1.6-1.6zM303.43 53.76l1.6 1.6-1.6 1.6-1.6-1.6zM302.98 50.38l1.6 1.6-1.6 1.6-1.6-1.6zM266.5 56.22l1.6 1.6-1.6 1.6-1.6-1.6zM284.48 61.17l1.6 1.6-1.6 1.6-1.6-1.6zM315.75 65.64l1.6 1.6-1.6 1.6-1.6-1.6zM294.62 57.81l1.6 1.6-1.6 1.6-1.6-1.6zM302.41 57.87l1.6 1.6-1.6 1.6-1.6-1.6zM314.43 65.12l1.6 1.6-1.6 1.6-1.6-1.6zM246 58.7l1.6 1.6-1.6 1.6-1.6-1.6zM292.83 55.44l1.6 1.6-1.6 1.6-1.6-1.6zM316.52 55.68l1.6 1.6-1.6 1.6-1.6-1.6zM275.15 58.13l1.6 1.6-1.6 1.6-1.6-1.6zM270.77 51.29l1.6 1.6-1.6 1.6-1.6-1.6zM252.94 56.35l1.6 1.6-1.6 1.6-1.6-1.6zM310.13 57.1l1.6 1.6-1.6 1.6-1.6-1.6zM293.58 57.11l1.6 1.6-1.6 1.6-1.6-1.6zM293.13 60.78l1.6 1.6-1.6 1.6-1.6-1.6zM302.14 62.38l1.6 1.6-1.6 1.6-1.6-1.6zM307.52 48.26l1.6 1.6-1.6 1.6-1.6-1.6zM279.72 42.03l1.6 1.6-1.6 1.6-1.6-1.6zM279.13 64.13l1.6 1.6-1.6 1.6-1.6-1.6zM278.09 54.75l1.6 1.6-1.6 1.6-1.6-1.6zM284.27 53.8l1.6 1.6-1.6 1.6-1.6-1.6zM270.48 55.41l1.6 1.6-1.6 1.6-1.6-1.6zM307.51 65.91l1.6 1.6-1.6 1.6-1.6-1.6zM309.23 48.68l1.6 1.6-1.6 1.6-1.6-1.6zM302.21 51.28l1.6 1.6-1.6 1.6-1.6-1.6zM299.84 58.08l1.6 1.6-1.6 1.6-1.6-1.6zM318.68 62.77l1.6 1.6-1.6 1.6-1.6-1.6zM300.8 53.47l1.6 1.6-1.6 1.6-1.6-1.6zM301.79 55.05l1.6 1.6-1.6 1.6-1.6-1.6zM285.82 53.51l1.6 1.6-1.6 1.6-1.6-1.6zM267.7 61.98l1.6 1.6-1.6 1.6-1.6-1.6zM324.44 62.56l1.6 1.6-1.6 1.6-1.6-1.6zM309.84 55.66l1.6 1.6-1.6 1.6-1.6-1.6zM322.76 64.11l1.6 1.6-1.6 1.6-1.6-1.6zM294.79 62.08l1.6 1.6-1.6 1.6-1.6-1.6zM314.98 63.14l1.6 1.6-1.6 1.6-1.6-1.6zM258.66 51.37l1.6 1.6-1.6 1.6-1.6-1.6zM326.2 68.48l1.6 1.6-1.6 1.6-1.6-1.6zM326.67 59.27l1.6 1.6-1.6 1.6-1.6-1.6zM320.67 60.06l1.6 1.6-1.6 1.6-1.6-1.6zM287.54 58.14l1.6 1.6-1.6 1.6-1.6-1.6zM243.66 56.04l1.6 1.6-1.6 1.6-1.6-1.6zM303.79 57.44l1.6 1.6-1.6 1.6-1.6-1.6zM284.77 58.34l1.6 1.6-1.6 1.6-1.6-1.6zM298.88 61.35l1.6 1.6-1.6 1.6-1.6-1.6zM281.84 51.77l1.6 1.6-1.6 1.6-1.6-1.6zM308.97 54.3l1.6 1.6-1.6 1.6-1.6-1.6zM247.1 55.36l1.6 1.6-1.6 1.6-1.6-1.6zM288.75 51.74l1.6 1.6-1.6 1.6-1.6-1.6zM312.12 52.1l1.6 1.6-1.6 1.6-1.6-1.6zM270.62 56.03l1.6 1.6-1.6 1.6-1.6-1.6zM334.43 48.5l1.6 1.6-1.6 1.6-1.6-1.6zM271.8 55.75l1.6 1.6-1.6 1.6-1.6-1.6zM316.83 65.96l1.6 1.6-1.6 1.6-1.6-1.6zM283.17 59.17l1.6 1.6-1.6 1.6-1.6-1.6zM330.7 56.46l1.6 1.6-1.6 1.6-1.6-1.6zM328.84 70.24l1.6 1.6-1.6 1.6-1.6-1.6zM326.15 70.2l1.6 1.6-1.6 1.6-1.6-1.6zM305.54 54.01l1.6 1.6-1.6 1.6-1.6-1.6zM287.43 55.28l1.6 1.6-1.6 1.6-1.6-1.6zM297.09 61.84l1.6 1.6-1.6 1.6-1.6-1.6zM317.5 63.56l1.6 1.6-1.6 1.6-1.6-1.6zM285.2 54.03l1.6 1.6-1.6 1.6-1.6-1.6zM308.61 57.95l1.6 1.6-1.6 1.6-1.6-1.6zM301.04 61.43l1.6 1.6-1.6 1.6-1.6-1.6zM312.09 55.49l1.6 1.6-1.6 1.6-1.6-1.6zM312.95 66.47l1.6 1.6-1.6 1.6-1.6-1.6zM323.4 58.8l1.6 1.6-1.6 1.6-1.6-1.6zM308.43 57.66l1.6 1.6-1.6 1.6-1.6-1.6zM304.72 65.16l1.6 1.6-1.6 1.6-1.6-1.6zM286.31 55.84l1.6 1.6-1.6 1.6-1.6-1.6zM310.98 61.61l1.6 1.6-1.6 1.6-1.6-1.6zM313.04 57.84l1.6 1.6-1.6 1.6-1.6-1.6zM279.56 62.49l1.6 1.6-1.6 1.6-1.6-1.6zM272.65 46.68l1.6 1.6-1.6 1.6-1.6-1.6zM275.59 56.2l1.6 1.6-1.6 1.6-1.6-1.6zM287.56 61.66l1.6 1.6-1.6 1.6-1.6-1.6zM280.36 69.66l1.6 1.6-1.6 1.6-1.6-1.6zM302.72 49.05l1.6 1.6-1.6 1.6-1.6-1.6zM290.95 61.14l1.6 1.6-1.6 1.6-1.6-1.6zM332.69 66.6l1.6 1.6-1.6 1.6-1.6-1.6zM319.48 74.33l1.6 1.6-1.6 1.6-1.6-1.6zM263.63 56.88l1.6 1.6-1.6 1.6-1.6-1.6zM321.68 57.29l1.6 1.6-1.6 1.6-1.6-1.6zM295.68 52.33l1.6 1.6-1.6 1.6-1.6-1.6zM318.33 48.98l1.6 1.6-1.6 1.6-1.6-1.6zM254.8 51.2l1.6 1.6-1.6 1.6-1.6-1.6zM327.42 65.72l1.6 1.6-1.6 1.6-1.6-1.6zM312.38 50.56l1.6 1.6-1.6 1.6-1.6-1.6zM320.9 64.9l1.6 1.6-1.6 1.6-1.6-1.6zM283.23 52.67l1.6 1.6-1.6 1.6-1.6-1.6zM310.01 64.25l1.6 1.6-1.6 1.6-1.6-1.6zM295.06 63.07l1.6 1.6-1.6 1.6-1.6-1.6zM273.07 55.27l1.6 1.6-1.6 1.6-1.6-1.6zM329.42 51.49l1.6 1.6-1.6 1.6-1.6-1.6zM308.84 72.91l1.6 1.6-1.6 1.6-1.6-1.6zM263.72 59.58l1.6 1.6-1.6 1.6-1.6-1.6zM308.53 64.88l1.6 1.6-1.6 1.6-1.6-1.6zM301.23 64.66l1.6 1.6-1.6 1.6-1.6-1.6zM285.2 42.43l1.6 1.6-1.6 1.6-1.6-1.6zM286.18 55.46l1.6 1.6-1.6 1.6-1.6-1.6zM249.73 50.59l1.6 1.6-1.6 1.6-1.6-1.6zM311.27 55.07l1.6 1.6-1.6 1.6-1.6-1.6zM281.62 56.25l1.6 1.6-1.6 1.6-1.6-1.6zM273.41 60.07l1.6 1.6-1.6 1.6-1.6-1.6zM263.14 56.18l1.6 1.6-1.6 1.6-1.6-1.6zM309.49 49.74l1.6 1.6-1.6 1.6-1.6-1.6zM315.97 64.58l1.6 1.6-1.6 1.6-1.6-1.6zM319.02 61.24l1.6 1.6-1.6 1.6-1.6-1.6zM290.14 53.01l1.6 1.6-1.6 1.6-1.6-1.6zM312.89 57.32l1.6 1.6-1.6 1.6-1.6-1.6zM282.52 46.95l1.6 1.6-1.6 1.6-1.6-1.6zM285.57 56.41l1.6 1.6-1.6 1.6-1.6-1.6zM283.61 54.22l1.6 1.6-1.6 1.6-1.6-1.6zM329.18 60.4l1.6 1.6-1.6 1.6-1.6-1.6zM321.6 58.34l1.6 1.6-1.6 1.6-1.6-1.6zM291.41 50.87l1.6 1.6-1.6 1.6-1.6-1.6zM319.79 59.29l1.6 1.6-1.6 1.6-1.6-1.6zM313.96 61.1l1.6 1.6-1.6 1.6-1.6-1.6zM292.23 50.01l1.6 1.6-1.6 1.6-1.6-1.6zM289.91 47.47l1.6 1.6-1.6 1.6-1.6-1.6zM287.52 64.14l1.6 1.6-1.6 1.6-1.6-1.6zM285.95 57.97l1.6 1.6-1.6 1.6-1.6-1.6zM302.39 47.75l1.6 1.6-1.6 1.6-1.6-1.6zM282.52 49.72l1.6 1.6-1.6 1.6-1.6-1.6zM297.07 46.45l1.6 1.6-1.6 1.6-1.6-1.6zM324.83 54.14l1.6 1.6-1.6 1.6-1.6-1.6zM250.91 66.73l1.6 1.6-1.6 1.6-1.6-1.6zM307.29 58.28l1.6 1.6-1.6 1.6-1.6-1.6zM265.49 56.34l1.6 1.6-1.6 1.6-1.6-1.6zM264.05 57.87l1.6 1.6-1.6 1.6-1.6-1.6zM305.44 62.98l1.6 1.6-1.6 1.6-1.6-1.6zM272.23 56.58l1.6 1.6-1.6 1.6-1.6-1.6zM323.95 63.42l1.6 1.6-1.6 1.6-1.6-1.6zM268.97 55.89l1.6 1.6-1.6 1.6-1.6-1.6zM305.85 42.73l1.6 1.6-1.6 1.6-1.6-1.6zM304.76 46.7l1.6 1.6-1.6 1.6-1.6-1.6zM280.47 67.7l1.6 1.6-1.6 1.6-1.6-1.6zM313.01 54.11l1.6 1.6-1.6 1.6-1.6-1.6zM274.74 62.94l1.6 1.6-1.6 1.6-1.6-1.6zM286.97 55.02l1.6 1.6-1.6 1.6-1.6-1.6zM318.79 59.17l1.6 1.6-1.6 1.6-1.6-1.6zM283.6 59.39l1.6 1.6-1.6 1.6-1.6-1.6zM312.23 59.68l1.6 1.6-1.6 1.6-1.6-1.6zM279.65 65.55l1.6 1.6-1.6 1.6-1.6-1.6zM334.63 62.74l1.6 1.6-1.6 1.6-1.6-1.6zM314.9 64.36l1.6 1.6-1.6 1.6-1.6-1.6zM292.75 55.38l1.6 1.6-1.6 1.6-1.6-1.6zM320.1 53.48l1.6 1.6-1.6 1.6-1.6-1.6zM294.2 56.79l1.6 1.6-1.6 1.6-1.6-1.6zM296.03 51.03l1.6 1.6-1.6 1.6-1.6-1.6zM317.42 49.01l1.6 1.6-1.6 1.6-1.6-1.6zM320.02 58.71l1.6 1.6-1.6 1.6-1.6-1.6zM299.02 61.99l1.6 1.6-1.6 1.6-1.6-1.6zM295.75 60.2l1.6 1.6-1.6 1.6-1.6-1.6zM284.7 61.69l1.6 1.6-1.6 1.6-1.6-1.6zM328.82 60.99l1.6 1.6-1.6 1.6-1.6-1.6zM273.86 49.63l1.6 1.6-1.6 1.6-1.6-1.6zM263.57 63.49l1.6 1.6-1.6 1.6-1.6-1.6zM282.52 59.38l1.6 1.6-1.6 1.6-1.6-1.6zM286.79 61.11l1.6 1.6-1.6 1.6-1.6-1.6zM316.63 62.49l1.6 1.6-1.6 1.6-1.6-1.6zM282.76 62.12l1.6 1.6-1.6 1.6-1.6-1.6zM310.45 60.51l1.6 1.6-1.6 1.6-1.6-1.6zM297.77 57.06l1.6 1.6-1.6 1.6-1.6-1.6zM312.42 47.83l1.6 1.6-1.6 1.6-1.6-1.6zM307.74 51.01l1.6 1.6-1.6 1.6-1.6-1.6zM282.55 50.1l1.6 1.6-1.6 1.6-1.6-1.6zM294.33 57.12l1.6 1.6-1.6 1.6-1.6-1.6zM318.97 50.94l1.6 1.6-1.6 1.6-1.6-1.6zM324.85 53.04l1.6 1.6-1.6 1.6-1.6-1.6zM309.83 62.17l1.6 1.6-1.6 1.6-1.6-1.6zM293.96 52.46l1.6 1.6-1.6 1.6-1.6-1.6zM275.5 49.56l1.6 1.6-1.6 1.6-1.6-1.6zM295.39 58.12l1.6 1.6-1.6 1.6-1.6-1.6zM315.27 69.75l1.6 1.6-1.6 1.6-1.6-1.6zM317.54 56.56l1.6 1.6-1.6 1.6-1.6-1.6zM294.08 61.47l1.6 1.6-1.6 1.6-1.6-1.6zM307.39 56.13l1.6 1.6-1.6 1.6-1.6-1.6zM331.76 56.08l1.6 1.6-1.6 1.6-1.6-1.6zM321.77 61.9l1.6 1.6-1.6 1.6-1.6-1.6zM323.63 65.95l1.6 1.6-1.6 1.6-1.6-1.6zM297.45 54.51l1.6 1.6-1.6 1.6-1.6-1.6zM332.43 60.53l1.6 1.6-1.6 1.6-1.6-1.6zM297.94 66.52l1.6 1.6-1.6 1.6-1.6-1.6zM285.74 57.73l1.6 1.6-1.6 1.6-1.6-1.6zM299.26 57.65l1.6 1.6-1.6 1.6-1.6-1.6zM298.82 61l1.6 1.6-1.6 1.6-1.6-1.6zM287.86 64.06l1.6 1.6-1.6 1.6-1.6-1.6zM306.36 65.06l1.6 1.6-1.6 1.6-1.6-1.6zM284.77 47.38l1.6 1.6-1.6 1.6-1.6-1.6zM296.66 59.18l1.6 1.6-1.6 1.6-1.6-1.6zM316.76 63.36l1.6 1.6-1.6 1.6-1.6-1.6zM304.68 52.34l1.6 1.6-1.6 1.6-1.6-1.6zM257.6 58.09l1.6 1.6-1.6 1.6-1.6-1.6zM313.61 55.86l1.6 1.6-1.6 1.6-1.6-1.6zM269.64 52.14l1.6 1.6-1.6 1.6-1.6-1.6zM305.57 50.49l1.6 1.6-1.6 1.6-1.6-1.6zM284.11 49.19l1.6 1.6-1.6 1.6-1.6-1.6zM298.01 58.83l1.6 1.6-1.6 1.6-1.6-1.6zM281.72 59.52l1.6 1.6-1.6 1.6-1.6-1.6zM305.8 50.44l1.6 1.6-1.6 1.6-1.6-1.6zM270.38 46.19l1.6 1.6-1.6 1.6-1.6-1.6zM317.15 58.21l1.6 1.6-1.6 1.6-1.6-1.6zM300.86 60.13l1.6 1.6-1.6 1.6-1.6-1.6zM290.52 59.52l1.6 1.6-1.6 1.6-1.6-1.6zM295.06 63.45l1.6 1.6-1.6 1.6-1.6-1.6zM300.05 68.02l1.6 1.6-1.6 1.6-1.6-1.6zM297.17 51.79l1.6 1.6-1.6 1.6-1.6-1.6zM299.71 63.72l1.6 1.6-1.6 1.6-1.6-1.6zM291.75 61.81l1.6 1.6-1.6 1.6-1.6-1.6zM334.43 66.53l1.6 1.6-1.6 1.6-1.6-1.6zM297.02 57.85l1.6 1.6-1.6 1.6-1.6-1.6zM267.39 55.66l1.6 1.6-1.6 1.6-1.6-1.6zM313.48 64.26l1.6 1.6-1.6 1.6-1.6-1.6zM287.99 59.42l1.6 1.6-1.6 1.6-1.6-1.6zM300.16 55.66l1.6 1.6-1.6 1.6-1.6-1.6zM291.94 54.11l1.6 1.6-1.6 1.6-1.6-1.6zM280.43 53.43l1.6 1.6-1.6 1.6-1.6-1.6zM295.83 67.34l1.6 1.6-1.6 1.6-1.6-1.6zM313.09 58.54l1.6 1.6-1.6 1.6-1.6-1.6zM278.92 42.95l1.6 1.6-1.6 1.6-1.6-1.6zM314.05 49.92l1.6 1.6-1.6 1.6-1.6-1.6zM323.79 53.2l1.6 1.6-1.6 1.6-1.6-1.6zM312.81 51.07l1.6 1.6-1.6 1.6-1.6-1.6zM300.62 56.45l1.6 1.6-1.6 1.6-1.6-1.6zM307.04 65.58l1.6 1.6-1.6 1.6-1.6-1.6zM282.24 55.42l1.6 1.6-1.6 1.6-1.6-1.6zM323.08 58.19l1.6 1.6-1.6 1.6-1.6-1.6zM262.58 49.46l1.6 1.6-1.6 1.6-1.6-1.6zM291.2 57.79l1.6 1.6-1.6 1.6-1.6-1.6zM281.62 72.75l1.6 1.6-1.6 1.6-1.6-1.6zM302.36 54.41l1.6 1.6-1.6 1.6-1.6-1.6zM298.9 59.96l1.6 1.6-1.6 1.6-1.6-1.6zM306.52 56.95l1.6 1.6-1.6 1.6-1.6-1.6zM304.84 51.45l1.6 1.6-1.6 1.6-1.6-1.6zM285.87 63.97l1.6 1.6-1.6 1.6-1.6-1.6zM328.51 57.19l1.6 1.6-1.6 1.6-1.6-1.6zM262.53 61.09l1.6 1.6-1.6 1.6-1.6-1.6zM297.74 55.91l1.6 1.6-1.6 1.6-1.6-1.6zM307.33 63.07l1.6 1.6-1.6 1.6-1.6-1.6zM290.5 57.44l1.6 1.6-1.6 1.6-1.6-1.6zM283.54 55.79l1.6 1.6-1.6 1.6-1.6-1.6zM269.06 63.97l1.6 1.6-1.6 1.6-1.6-1.6zM316.17 55.51l1.6 1.6-1.6 1.6-1.6-1.6zM278.76 63.71l1.6 1.6-1.6 1.6-1.6-1.6zM264.67 61.36l1.6 1.6-1.6 1.6-1.6-1.6zM320.59 59.75l1.6 1.6-1.6 1.6-1.6-1.6zM279.02 50.81l1.6 1.6-1.6 1.6-1.6-1.6zM245.06 58.51l1.6 1.6-1.6 1.6-1.6-1.6zM295.42 58.09l1.6 1.6-1.6 1.6-1.6-1.6zM260.42 56.64l1.6 1.6-1.6 1.6-1.6-1.6zM244.33 52.89l1.6 1.6-1.6 1.6-1.6-1.6zM272.86 56.48l1.6 1.6-1.6 1.6-1.6-1.6zM295.41 54.57l1.6 1.6-1.6 1.6-1.6-1.6zM316.48 58.29l1.6 1.6-1.6 1.6-1.6-1.6zM314.44 49.33l1.6 1.6-1.6 1.6-1.6-1.6zM253.38 52.3l1.6 1.6-1.6 1.6-1.6-1.6zM248.51 47.92l1.6 1.6-1.6 1.6-1.6-1.6zM240.71 52.61l1.6 1.6-1.6 1.6-1.6-1.6zM264.19 58.26l1.6 1.6-1.6 1.6-1.6-1.6zM300.24 54.55l1.6 1.6-1.6 1.6-1.6-1.6zM311.09 59.94l1.6 1.6-1.6 1.6-1.6-1.6zM311.42 63.61l1.6 1.6-1.6 1.6-1.6-1.6zM291.12 52.52l1.6 1.6-1.6 1.6-1.6-1.6zM333.55 61.48l1.6 1.6-1.6 1.6-1.6-1.6zM295.79 54.5l1.6 1.6-1.6 1.6-1.6-1.6zM301.02 50.2l1.6 1.6-1.6 1.6-1.6-1.6zM327.39 67.06l1.6 1.6-1.6 1.6-1.6-1.6zM269.95 66.53l1.6 1.6-1.6 1.6-1.6-1.6zM295.39 66.68l1.6 1.6-1.6 1.6-1.6-1.6zM302.85 59.82l1.6 1.6-1.6 1.6-1.6-1.6zM298.18 44.44l1.6 1.6-1.6 1.6-1.6-1.6zM313.32 57.21l1.6 1.6-1.6 1.6-1.6-1.6zM259.23 68.89l1.6 1.6-1.6 1.6-1.6-1.6zM308.42 67.86l1.6 1.6-1.6 1.6-1.6-1.6zM291.78 44.67l1.6 1.6-1.6 1.6-1.6-1.6zM269.2 61.54l1.6 1.6-1.6 1.6-1.6-1.6zM267.14 49.08l1.6 1.6-1.6 1.6-1.6-1.6zM280.56 41.81l1.6 1.6-1.6 1.6-1.6-1.6zM314.52 67.11l1.6 1.6-1.6 1.6-1.6-1.6zM268.54 59.6l1.6 1.6-1.6 1.6-1.6-1.6zM285.72 59.02l1.6 1.6-1.6 1.6-1.6-1.6zM266.25 56.82l1.6 1.6-1.6 1.6-1.6-1.6zM318.37 66.15l1.6 1.6-1.6 1.6-1.6-1.6zM281.01 57.86l1.6 1.6-1.6 1.6-1.6-1.6zM258.21 55.53l1.6 1.6-1.6 1.6-1.6-1.6zM265.28 51.73l1.6 1.6-1.6 1.6-1.6-1.6zM300.18 57.24l1.6 1.6-1.6 1.6-1.6-1.6zM281.06 59.01l1.6 1.6-1.6 1.6-1.6-1.6zM270.12 62.81l1.6 1.6-1.6 1.6-1.6-1.6zM260.82 62.42l1.6 1.6-1.6 1.6-1.6-1.6zM314.26 55.97l1.6 1.6-1.6 1.6-1.6-1.6zM278.55 53.55l1.6 1.6-1.6 1.6-1.6-1.6zM316.17 59.73l1.6 1.6-1.6 1.6-1.6-1.6zM302.45 55.98l1.6 1.6-1.6 1.6-1.6-1.6zM287.12 49.09l1.6 1.6-1.6 1.6-1.6-1.6zM312.16 52.95l1.6 1.6-1.6 1.6-1.6-1.6zM323.47 61.26l1.6 1.6-1.6 1.6-1.6-1.6zM252.13 54.67l1.6 1.6-1.6 1.6-1.6-1.6zM306.82 62.11l1.6 1.6-1.6 1.6-1.6-1.6zM304.67 68.52l1.6 1.6-1.6 1.6-1.6-1.6zM288.85 59.26l1.6 1.6-1.6 1.6-1.6-1.6zM291.09 44.23l1.6 1.6-1.6 1.6-1.6-1.6zM256.37 53.4l1.6 1.6-1.6 1.6-1.6-1.6zM280.64 64.04l1.6 1.6-1.6 1.6-1.6-1.6zM292.14 56.68l1.6 1.6-1.6 1.6-1.6-1.6zM319.94 60.55l1.6 1.6-1.6 1.6-1.6-1.6zM313.21 56.26l1.6 1.6-1.6 1.6-1.6-1.6zM314.54 64.86l1.6 1.6-1.6 1.6-1.6-1.6zM309.55 63.48l1.6 1.6-1.6 1.6-1.6-1.6zM295.48 64.72l1.6 1.6-1.6 1.6-1.6-1.6zM276.6 58.34l1.6 1.6-1.6 1.6-1.6-1.6zM314.82 64.95l1.6 1.6-1.6 1.6-1.6-1.6zM287.11 71.5l1.6 1.6-1.6 1.6-1.6-1.6zM293.14 49.54l1.6 1.6-1.6 1.6-1.6-1.6zM278.12 59.79l1.6 1.6-1.6 1.6-1.6-1.6zM289.66 61.6l1.6 1.6-1.6 1.6-1.6-1.6zM272.58 49.48l1.6 1.6-1.6 1.6-1.6-1.6zM326.09 56.34l1.6 1.6-1.6 1.6-1.6-1.6zM297.09 61.5l1.6 1.6-1.6 1.6-1.6-1.6zM277.38 70.65l1.6 1.6-1.6 1.6-1.6-1.6zM310.38 54.85l1.6 1.6-1.6 1.6-1.6-1.6zM311.56 52.54l1.6 1.6-1.6 1.6-1.6-1.6zM280.69 56.91l1.6 1.6-1.6 1.6-1.6-1.6zM257.14 57.67l1.6 1.6-1.6 1.6-1.6-1.6zM310.62 73.44l1.6 1.6-1.6 1.6-1.6-1.6zM284.4 59.38l1.6 1.6-1.6 1.6-1.6-1.6zM316.71 61.22l1.6 1.6-1.6 1.6-1.6-1.6zM270.22 57.74l1.6 1.6-1.6 1.6-1.6-1.6zM310.55 54.94l1.6 1.6-1.6 1.6-1.6-1.6zM315.88 58.61l1.6 1.6-1.6 1.6-1.6-1.6zM331.57 60.17l1.6 1.6-1.6 1.6-1.6-1.6zM309.46 72.44l1.6 1.6-1.6 1.6-1.6-1.6zM307.83 68.66l1.6 1.6-1.6 1.6-1.6-1.6zM295.92 60.81l1.6 1.6-1.6 1.6-1.6-1.6zM281.92 55.88l1.6 1.6-1.6 1.6-1.6-1.6zM267.5 58.66l1.6 1.6-1.6 1.6-1.6-1.6zM303.94 53.73l1.6 1.6-1.6 1.6-1.6-1.6zM285.27 64.9l1.6 1.6-1.6 1.6-1.6-1.6zM299.24 52.37l1.6 1.6-1.6 1.6-1.6-1.6zM292.61 63.06l1.6 1.6-1.6 1.6-1.6-1.6zM304.28 67.55l1.6 1.6-1.6 1.6-1.6-1.6zM274.02 56.46l1.6 1.6-1.6 1.6-1.6-1.6zM285.96 48.3l1.6 1.6-1.6 1.6-1.6-1.6zM314.35 65.75l1.6 1.6-1.6 1.6-1.6-1.6zM250.8 48.44l1.6 1.6-1.6 1.6-1.6-1.6zM328.36 56.19l1.6 1.6-1.6 1.6-1.6-1.6zM299.67 64.4l1.6 1.6-1.6 1.6-1.6-1.6zM288.6 50.65l1.6 1.6-1.6 1.6-1.6-1.6zM289.94 56.4l1.6 1.6-1.6 1.6-1.6-1.6zM300.41 55.88l1.6 1.6-1.6 1.6-1.6-1.6zM281.9 47.74l1.6 1.6-1.6 1.6-1.6-1.6zM286.98 55.49l1.6 1.6-1.6 1.6-1.6-1.6zM334.64 46.62l1.6 1.6-1.6 1.6-1.6-1.6zM322.53 69.69l1.6 1.6-1.6 1.6-1.6-1.6zM261.15 46.18l1.6 1.6-1.6 1.6-1.6-1.6zM275.33 72.38l1.6 1.6-1.6 1.6-1.6-1.6zM302.43 61.27l1.6 1.6-1.6 1.6-1.6-1.6zM303.79 63.37l1.6 1.6-1.6 1.6-1.6-1.6zM261.6 64.24l1.6 1.6-1.6 1.6-1.6-1.6zM320.49 49.73l1.6 1.6-1.6 1.6-1.6-1.6zM291.94 51.99l1.6 1.6-1.6 1.6-1.6-1.6zM319.02 68.31l1.6 1.6-1.6 1.6-1.6-1.6zM306.34 64.5l1.6 1.6-1.6 1.6-1.6-1.6zM289.44 59.83l1.6 1.6-1.6 1.6-1.6-1.6zM323.92 61.76l1.6 1.6-1.6 1.6-1.6-1.6zM317.21 53.61l1.6 1.6-1.6 1.6-1.6-1.6zM308.38 52.78l1.6 1.6-1.6 1.6-1.6-1.6zM327.17 55.46l1.6 1.6-1.6 1.6-1.6-1.6zM325.24 53.69l1.6 1.6-1.6 1.6-1.6-1.6zM289.36 50.46l1.6 1.6-1.6 1.6-1.6-1.6zM218.25 61.65l1.6 1.6-1.6 1.6-1.6-1.6zM227.5 53.9l1.6 1.6-1.6 1.6-1.6-1.6zM232.5 53.9l1.6 1.6-1.6 1.6-1.6-1.6zM225 59.15l1.6 1.6-1.6 1.6-1.6-1.6zM235 59.15l1.6 1.6-1.6 1.6-1.6-1.6zM237.5 56.4l1.6 1.6-1.6 1.6-1.6-1.6zM243.25 54.4l1.6 1.6-1.6 1.6-1.6-1.6zM343 51.4l1.6 1.6-1.6 1.6-1.6-1.6zM367.5 54.9l1.6 1.6-1.6 1.6-1.6-1.6zM355 60.9l1.6 1.6-1.6 1.6-1.6-1.6zM355.75 62.9l1.6 1.6-1.6 1.6-1.6-1.6zM335.5 47.65l1.6 1.6-1.6 1.6-1.6-1.6zM295.5 38.4l1.6 1.6-1.6 1.6-1.6-1.6zM305 36.65l1.6 1.6-1.6 1.6-1.6-1.6zM307 39.9l1.6 1.6-1.6 1.6-1.6-1.6zM317 39.65l1.6 1.6-1.6 1.6-1.6-1.6zM312.5 41.4l1.6 1.6-1.6 1.6-1.6-1.6zM275 71.9l1.6 1.6-1.6 1.6-1.6-1.6zM273.75 72.4l1.6 1.6-1.6 1.6-1.6-1.6zM300.75 74.9l1.6 1.6-1.6 1.6-1.6-1.6zM300.75 78.4l1.6 1.6-1.6 1.6-1.6-1.6zM308.25 76.4l1.6 1.6-1.6 1.6-1.6-1.6zM314.5 73.9l1.6 1.6-1.6 1.6-1.6-1.6zM317.5 72.4l1.6 1.6-1.6 1.6-1.6-1.6zM326.25 72.9l1.6 1.6-1.6 1.6-1.6-1.6zM329.25 71.9l1.6 1.6-1.6 1.6-1.6-1.6zM333.25 79.65l1.6 1.6-1.6 1.6-1.6-1.6zM334.5 83.4l1.6 1.6-1.6 1.6-1.6-1.6zM337.5 86.65l1.6 1.6-1.6 1.6-1.6-1.6zM337.5 99.4l1.6 1.6-1.6 1.6-1.6-1.6zM339.5 77.9l1.6 1.6-1.6 1.6-1.6-1.6zM343 71.9l1.6 1.6-1.6 1.6-1.6-1.6zM348 73.4l1.6 1.6-1.6 1.6-1.6-1.6zM348.5 80.9l1.6 1.6-1.6 1.6-1.6-1.6zM350 79.9l1.6 1.6-1.6 1.6-1.6-1.6z"/>
<line class="dash" stroke-width="0.85" x1="212.2" y1="60.5" x2="371.1" y2="60.5"/>
<path class="ax" d="M208.6 1.3V122.5"/>
<path class="ax" d="M208.6 122.5H373.7"/>
<path class="ax" d="M208.6 119.12h-2.2M208.6 104.79h-2.2M208.6 90.46h-2.2M208.6 76.13h-2.2M208.6 61.8h-2.2M208.6 47.47h-2.2M208.6 33.14h-2.2M208.6 18.81h-2.2M208.6 4.48h-2.2M212.4 122.5v2.2M244.03 122.5v2.2M275.66 122.5v2.2M307.29 122.5v2.2M338.92 122.5v2.2M370.55 122.5v2.2"/>
<text class="tl" transform="translate(204.1 119.12) rotate(-90)">-80</text>
<text class="tl" transform="translate(204.1 104.79) rotate(-90)">-60</text>
<text class="tl" transform="translate(204.1 90.46) rotate(-90)">-40</text>
<text class="tl" transform="translate(204.1 76.13) rotate(-90)">-20</text>
<text class="tl" transform="translate(204.1 61.8) rotate(-90)">0</text>
<text class="tl" transform="translate(204.1 47.47) rotate(-90)">20</text>
<text class="tl" transform="translate(204.1 33.14) rotate(-90)">40</text>
<text class="tl" transform="translate(204.1 18.81) rotate(-90)">60</text>
<text class="tl" transform="translate(204.1 4.48) rotate(-90)">80</text>
<text class="tl" x="212.4" y="130.7">10</text>
<text class="tl" x="244.03" y="130.7">30</text>
<text class="tl" x="275.66" y="130.7">50</text>
<text class="tl" x="307.29" y="130.7">70</text>
<text class="tl" x="338.92" y="130.7">90</text>
<text class="tl" x="370.55" y="130.7">110</text>
<text class="tt" transform="translate(198.5 61.4) rotate(-90)">Difference eGFR_Pöge(BTP/Crea)-mGFR</text>
<text class="tt" x="291.2" y="135.3">Average of eGFR_Pöge(BTP/Crea) and mGFR</text>
</g>
<g id="panel3">
<path class="grid" d="M402.55 77.4H567.6M402.55 91.7H567.6M402.55 106H567.6"/>
<rect class="band" x="406.1" y="52.1" width="159.2" height="21.9"/>
<path class="pts" d="M463.73 61.82l1.6 1.6-1.6 1.6-1.6-1.6zM500.36 65.07l1.6 1.6-1.6 1.6-1.6-1.6zM454.61 62.99l1.6 1.6-1.6 1.6-1.6-1.6zM489.96 62.36l1.6 1.6-1.6 1.6-1.6-1.6zM475.59 57.02l1.6 1.6-1.6 1.6-1.6-1.6zM510.52 59.36l1.6 1.6-1.6 1.6-1.6-1.6zM512.86 60.16l1.6 1.6-1.6 1.6-1.6-1.6zM491.41 62.79l1.6 1.6-1.6 1.6-1.6-1.6zM482.38 62.9l1.6 1.6-1.6 1.6-1.6-1.6zM501.23 69.24l1.6 1.6-1.6 1.6-1.6-1.6zM440.64 58.91l1.6 1.6-1.6 1.6-1.6-1.6zM496.69 58.53l1.6 1.6-1.6 1.6-1.6-1.6zM509.23 57.5l1.6 1.6-1.6 1.6-1.6-1.6zM509.38 57.48l1.6 1.6-1.6 1.6-1.6-1.6zM500.64 57.13l1.6 1.6-1.6 1.6-1.6-1.6zM497.09 60.2l1.6 1.6-1.6 1.6-1.6-1.6zM465.87 64.31l1.6 1.6-1.6 1.6-1.6-1.6zM486.59 61.91l1.6 1.6-1.6 1.6-1.6-1.6zM469.6 61.11l1.6 1.6-1.6 1.6-1.6-1.6zM486.63 68.08l1.6 1.6-1.6 1.6-1.6-1.6zM496.96 58.18l1.6 1.6-1.6 1.6-1.6-1.6zM481.67 62.4l1.6 1.6-1.6 1.6-1.6-1.6zM456.68 67.72l1.6 1.6-1.6 1.6-1.6-1.6zM504.46 53.19l1.6 1.6-1.6 1.6-1.6-1.6zM496.15 64.84l1.6 1.6-1.6 1.6-1.6-1.6zM466.75 66.91l1.6 1.6-1.6 1.6-1.6-1.6zM448.23 57.89l1.6 1.6-1.6 1.6-1.6-1.6zM477.23 69.15l1.6 1.6-1.6 1.6-1.6-1.6zM480.11 61.37l1.6 1.6-1.6 1.6-1.6-1.6zM477.24 60.94l1.6 1.6-1.6 1.6-1.6-1.6zM451.96 60.38l1.6 1.6-1.6 1.6-1.6-1.6zM489.47 59.01l1.6 1.6-1.6 1.6-1.6-1.6zM482.33 60.32l1.6 1.6-1.6 1.6-1.6-1.6zM464.09 64.07l1.6 1.6-1.6 1.6-1.6-1.6zM503.77 58.99l1.6 1.6-1.6 1.6-1.6-1.6zM455.34 60.59l1.6 1.6-1.6 1.6-1.6-1.6zM495.12 67.3l1.6 1.6-1.6 1.6-1.6-1.6zM519.25 76.02l1.6 1.6-1.6 1.6-1.6-1.6zM486.82 58.36l1.6 1.6-1.6 1.6-1.6-1.6zM459.92 57.57l1.6 1.6-1.6 1.6-1.6-1.6zM507.52 57.87l1.6 1.6-1.6 1.6-1.6-1.6zM480.65 59.73l1.6 1.6-1.6 1.6-1.6-1.6zM464.89 54.74l1.6 1.6-1.6 1.6-1.6-1.6zM481.45 64.1l1.6 1.6-1.6 1.6-1.6-1.6zM498.73 63.58l1.6 1.6-1.6 1.6-1.6-1.6zM501.15 62.82l1.6 1.6-1.6 1.6-1.6-1.6zM460.54 64.31l1.6 1.6-1.6 1.6-1.6-1.6zM453.94 61.09l1.6 1.6-1.6 1.6-1.6-1.6zM500.3 59.58l1.6 1.6-1.6 1.6-1.6-1.6zM503.23 67.46l1.6 1.6-1.6 1.6-1.6-1.6zM516.93 66.44l1.6 1.6-1.6 1.6-1.6-1.6zM481.35 59.85l1.6 1.6-1.6 1.6-1.6-1.6zM506.82 57.03l1.6 1.6-1.6 1.6-1.6-1.6zM445.4 58.72l1.6 1.6-1.6 1.6-1.6-1.6zM510.59 63.72l1.6 1.6-1.6 1.6-1.6-1.6zM465.29 49.55l1.6 1.6-1.6 1.6-1.6-1.6zM493.2 48.3l1.6 1.6-1.6 1.6-1.6-1.6zM525.5 60.73l1.6 1.6-1.6 1.6-1.6-1.6zM466.49 64.33l1.6 1.6-1.6 1.6-1.6-1.6zM500.51 59.99l1.6 1.6-1.6 1.6-1.6-1.6zM509.16 55.52l1.6 1.6-1.6 1.6-1.6-1.6zM520.56 62.46l1.6 1.6-1.6 1.6-1.6-1.6zM471.64 56.49l1.6 1.6-1.6 1.6-1.6-1.6zM467.78 59.14l1.6 1.6-1.6 1.6-1.6-1.6zM478.38 62.36l1.6 1.6-1.6 1.6-1.6-1.6zM499.54 54.9l1.6 1.6-1.6 1.6-1.6-1.6zM518.66 58.51l1.6 1.6-1.6 1.6-1.6-1.6zM478.54 64.66l1.6 1.6-1.6 1.6-1.6-1.6zM479.9 57.88l1.6 1.6-1.6 1.6-1.6-1.6zM478.7 56.77l1.6 1.6-1.6 1.6-1.6-1.6zM503.27 57.95l1.6 1.6-1.6 1.6-1.6-1.6zM485.45 72.37l1.6 1.6-1.6 1.6-1.6-1.6zM503.77 63.37l1.6 1.6-1.6 1.6-1.6-1.6zM464.48 59.6l1.6 1.6-1.6 1.6-1.6-1.6zM515.62 57.34l1.6 1.6-1.6 1.6-1.6-1.6zM481.5 57.67l1.6 1.6-1.6 1.6-1.6-1.6zM512.97 55.71l1.6 1.6-1.6 1.6-1.6-1.6zM530.59 59.42l1.6 1.6-1.6 1.6-1.6-1.6zM499.13 58.2l1.6 1.6-1.6 1.6-1.6-1.6zM493.24 57.17l1.6 1.6-1.6 1.6-1.6-1.6zM493.16 53.98l1.6 1.6-1.6 1.6-1.6-1.6zM506.71 53.29l1.6 1.6-1.6 1.6-1.6-1.6zM502.76 69.77l1.6 1.6-1.6 1.6-1.6-1.6zM486.55 59.92l1.6 1.6-1.6 1.6-1.6-1.6zM466.11 67.73l1.6 1.6-1.6 1.6-1.6-1.6zM479.48 58.7l1.6 1.6-1.6 1.6-1.6-1.6zM464.73 61.45l1.6 1.6-1.6 1.6-1.6-1.6zM450.97 60.01l1.6 1.6-1.6 1.6-1.6-1.6zM506.62 54.18l1.6 1.6-1.6 1.6-1.6-1.6zM513.34 59.78l1.6 1.6-1.6 1.6-1.6-1.6zM446.5 59.76l1.6 1.6-1.6 1.6-1.6-1.6zM522.54 63.26l1.6 1.6-1.6 1.6-1.6-1.6zM481.44 63.48l1.6 1.6-1.6 1.6-1.6-1.6zM516.42 65.15l1.6 1.6-1.6 1.6-1.6-1.6zM459.58 62.06l1.6 1.6-1.6 1.6-1.6-1.6zM477.16 56.86l1.6 1.6-1.6 1.6-1.6-1.6zM502.75 63.97l1.6 1.6-1.6 1.6-1.6-1.6zM509.72 53.7l1.6 1.6-1.6 1.6-1.6-1.6zM489.37 68.25l1.6 1.6-1.6 1.6-1.6-1.6zM472.5 63.79l1.6 1.6-1.6 1.6-1.6-1.6zM493.45 67.3l1.6 1.6-1.6 1.6-1.6-1.6zM511.16 58.13l1.6 1.6-1.6 1.6-1.6-1.6zM503.38 69.68l1.6 1.6-1.6 1.6-1.6-1.6zM508.24 61.6l1.6 1.6-1.6 1.6-1.6-1.6zM499.91 61.63l1.6 1.6-1.6 1.6-1.6-1.6zM492.39 62.2l1.6 1.6-1.6 1.6-1.6-1.6zM453.7 59.41l1.6 1.6-1.6 1.6-1.6-1.6zM483.43 56.28l1.6 1.6-1.6 1.6-1.6-1.6zM511.92 65.42l1.6 1.6-1.6 1.6-1.6-1.6zM475.92 62.93l1.6 1.6-1.6 1.6-1.6-1.6zM457.75 63.44l1.6 1.6-1.6 1.6-1.6-1.6zM502.78 58.5l1.6 1.6-1.6 1.6-1.6-1.6zM463.47 64.62l1.6 1.6-1.6 1.6-1.6-1.6zM491.13 56.1l1.6 1.6-1.6 1.6-1.6-1.6zM454.39 60.47l1.6 1.6-1.6 1.6-1.6-1.6zM496.19 55.03l1.6 1.6-1.6 1.6-1.6-1.6zM518.77 63.29l1.6 1.6-1.6 1.6-1.6-1.6zM510.42 62.51l1.6 1.6-1.6 1.6-1.6-1.6zM502.27 68.56l1.6 1.6-1.6 1.6-1.6-1.6zM501.23 64.74l1.6 1.6-1.6 1.6-1.6-1.6zM494.82 67.94l1.6 1.6-1.6 1.6-1.6-1.6zM510.04 61.45l1.6 1.6-1.6 1.6-1.6-1.6zM503.83 67.46l1.6 1.6-1.6 1.6-1.6-1.6zM467.39 63.62l1.6 1.6-1.6 1.6-1.6-1.6zM510.66 61.55l1.6 1.6-1.6 1.6-1.6-1.6zM491.15 58.84l1.6 1.6-1.6 1.6-1.6-1.6zM505.15 67.18l1.6 1.6-1.6 1.6-1.6-1.6zM503.92 61.27l1.6 1.6-1.6 1.6-1.6-1.6zM499.78 63.88l1.6 1.6-1.6 1.6-1.6-1.6zM505.53 69.93l1.6 1.6-1.6 1.6-1.6-1.6zM491.7 57.88l1.6 1.6-1.6 1.6-1.6-1.6zM461.08 54.38l1.6 1.6-1.6 1.6-1.6-1.6zM524.83 56.46l1.6 1.6-1.6 1.6-1.6-1.6zM497.71 63.48l1.6 1.6-1.6 1.6-1.6-1.6zM473.2 58.36l1.6 1.6-1.6 1.6-1.6-1.6zM449.77 55.5l1.6 1.6-1.6 1.6-1.6-1.6zM476.33 56.04l1.6 1.6-1.6 1.6-1.6-1.6zM475.78 48.48l1.6 1.6-1.6 1.6-1.6-1.6zM484.3 49.56l1.6 1.6-1.6 1.6-1.6-1.6zM454.81 60.42l1.6 1.6-1.6 1.6-1.6-1.6zM472.67 61.16l1.6 1.6-1.6 1.6-1.6-1.6zM472.83 67.68l1.6 1.6-1.6 1.6-1.6-1.6zM458.07 65.96l1.6 1.6-1.6 1.6-1.6-1.6zM501.55 63.76l1.6 1.6-1.6 1.6-1.6-1.6zM475.42 63.49l1.6 1.6-1.6 1.6-1.6-1.6zM497.67 69.33l1.6 1.6-1.6 1.6-1.6-1.6zM489.25 70.97l1.6 1.6-1.6 1.6-1.6-1.6zM477.26 55.42l1.6 1.6-1.6 1.6-1.6-1.6zM523.28 73.57l1.6 1.6-1.6 1.6-1.6-1.6zM467.99 64.82l1.6 1.6-1.6 1.6-1.6-1.6zM497.18 61.37l1.6 1.6-1.6 1.6-1.6-1.6zM488.22 66.3l1.6 1.6-1.6 1.6-1.6-1.6zM521.65 64.6l1.6 1.6-1.6 1.6-1.6-1.6zM503.47 61.94l1.6 1.6-1.6 1.6-1.6-1.6zM488.63 55.41l1.6 1.6-1.6 1.6-1.6-1.6zM484.1 63.61l1.6 1.6-1.6 1.6-1.6-1.6zM481.89 60.56l1.6 1.6-1.6 1.6-1.6-1.6zM494.45 59.31l1.6 1.6-1.6 1.6-1.6-1.6zM488.55 62.25l1.6 1.6-1.6 1.6-1.6-1.6zM514.91 65.15l1.6 1.6-1.6 1.6-1.6-1.6zM476.8 57.73l1.6 1.6-1.6 1.6-1.6-1.6zM452.97 59.23l1.6 1.6-1.6 1.6-1.6-1.6zM500.65 64.54l1.6 1.6-1.6 1.6-1.6-1.6zM458.94 59.52l1.6 1.6-1.6 1.6-1.6-1.6zM474.21 65.97l1.6 1.6-1.6 1.6-1.6-1.6zM476.02 61.16l1.6 1.6-1.6 1.6-1.6-1.6zM501.33 50.24l1.6 1.6-1.6 1.6-1.6-1.6zM512.53 55.79l1.6 1.6-1.6 1.6-1.6-1.6zM512.1 56.94l1.6 1.6-1.6 1.6-1.6-1.6zM463.81 56.52l1.6 1.6-1.6 1.6-1.6-1.6zM468.29 58.05l1.6 1.6-1.6 1.6-1.6-1.6zM507.13 65.91l1.6 1.6-1.6 1.6-1.6-1.6zM487.6 60.76l1.6 1.6-1.6 1.6-1.6-1.6zM469.7 60.45l1.6 1.6-1.6 1.6-1.6-1.6zM491.06 67.48l1.6 1.6-1.6 1.6-1.6-1.6zM499.55 63.82l1.6 1.6-1.6 1.6-1.6-1.6zM471.14 64.12l1.6 1.6-1.6 1.6-1.6-1.6zM482.44 51.82l1.6 1.6-1.6 1.6-1.6-1.6zM447.09 59.61l1.6 1.6-1.6 1.6-1.6-1.6zM497.18 62.52l1.6 1.6-1.6 1.6-1.6-1.6zM472.75 63.89l1.6 1.6-1.6 1.6-1.6-1.6zM495.48 51.13l1.6 1.6-1.6 1.6-1.6-1.6zM468.05 59.64l1.6 1.6-1.6 1.6-1.6-1.6zM523.52 70.5l1.6 1.6-1.6 1.6-1.6-1.6zM493.85 61.37l1.6 1.6-1.6 1.6-1.6-1.6zM471.4 51.58l1.6 1.6-1.6 1.6-1.6-1.6zM491.61 49.33l1.6 1.6-1.6 1.6-1.6-1.6zM470.38 53.55l1.6 1.6-1.6 1.6-1.6-1.6zM498.46 62.08l1.6 1.6-1.6 1.6-1.6-1.6zM483.47 51.63l1.6 1.6-1.6 1.6-1.6-1.6zM481.06 59.79l1.6 1.6-1.6 1.6-1.6-1.6zM470.49 59.49l1.6 1.6-1.6 1.6-1.6-1.6zM446.91 59.46l1.6 1.6-1.6 1.6-1.6-1.6zM466.25 59.42l1.6 1.6-1.6 1.6-1.6-1.6zM493.23 65l1.6 1.6-1.6 1.6-1.6-1.6zM455.94 54.48l1.6 1.6-1.6 1.6-1.6-1.6zM501.25 64.36l1.6 1.6-1.6 1.6-1.6-1.6zM458.47 57.2l1.6 1.6-1.6 1.6-1.6-1.6zM482.95 60.08l1.6 1.6-1.6 1.6-1.6-1.6zM506.5 62.81l1.6 1.6-1.6 1.6-1.6-1.6zM475.77 64.82l1.6 1.6-1.6 1.6-1.6-1.6zM483.14 61.66l1.6 1.6-1.6 1.6-1.6-1.6zM496.42 53.78l1.6 1.6-1.6 1.6-1.6-1.6zM457.13 61.65l1.6 1.6-1.6 1.6-1.6-1.6zM505.78 70.56l1.6 1.6-1.6 1.6-1.6-1.6zM472.64 66.89l1.6 1.6-1.6 1.6-1.6-1.6zM508.59 65.08l1.6 1.6-1.6 1.6-1.6-1.6zM453.41 63.67l1.6 1.6-1.6 1.6-1.6-1.6zM497.99 65.76l1.6 1.6-1.6 1.6-1.6-1.6zM499.54 71.77l1.6 1.6-1.6 1.6-1.6-1.6zM463.38 69.54l1.6 1.6-1.6 1.6-1.6-1.6zM477.68 55.72l1.6 1.6-1.6 1.6-1.6-1.6zM506.47 55.89l1.6 1.6-1.6 1.6-1.6-1.6zM506.27 59.79l1.6 1.6-1.6 1.6-1.6-1.6zM506.18 59.11l1.6 1.6-1.6 1.6-1.6-1.6zM504.05 62.26l1.6 1.6-1.6 1.6-1.6-1.6zM453.23 57.05l1.6 1.6-1.6 1.6-1.6-1.6zM460.38 64.31l1.6 1.6-1.6 1.6-1.6-1.6zM476.46 63.99l1.6 1.6-1.6 1.6-1.6-1.6zM468.46 57.98l1.6 1.6-1.6 1.6-1.6-1.6zM512.7 60.15l1.6 1.6-1.6 1.6-1.6-1.6zM507.31 59.34l1.6 1.6-1.6 1.6-1.6-1.6zM472.82 62.22l1.6 1.6-1.6 1.6-1.6-1.6zM459.57 61.44l1.6 1.6-1.6 1.6-1.6-1.6zM487.81 63.19l1.6 1.6-1.6 1.6-1.6-1.6zM455.3 58.81l1.6 1.6-1.6 1.6-1.6-1.6zM480.85 56.89l1.6 1.6-1.6 1.6-1.6-1.6zM520.61 59.89l1.6 1.6-1.6 1.6-1.6-1.6zM521 53.55l1.6 1.6-1.6 1.6-1.6-1.6zM491.87 59.47l1.6 1.6-1.6 1.6-1.6-1.6zM509.78 69.24l1.6 1.6-1.6 1.6-1.6-1.6zM516.96 69.48l1.6 1.6-1.6 1.6-1.6-1.6zM446.55 53.68l1.6 1.6-1.6 1.6-1.6-1.6zM514.28 59l1.6 1.6-1.6 1.6-1.6-1.6zM484.14 66.4l1.6 1.6-1.6 1.6-1.6-1.6zM504.68 63.94l1.6 1.6-1.6 1.6-1.6-1.6zM480.6 60.52l1.6 1.6-1.6 1.6-1.6-1.6zM467.34 61.32l1.6 1.6-1.6 1.6-1.6-1.6zM481.76 67.34l1.6 1.6-1.6 1.6-1.6-1.6zM506.98 60.43l1.6 1.6-1.6 1.6-1.6-1.6zM498.36 68.66l1.6 1.6-1.6 1.6-1.6-1.6zM481.06 58.24l1.6 1.6-1.6 1.6-1.6-1.6zM487.9 61.95l1.6 1.6-1.6 1.6-1.6-1.6zM459.84 63l1.6 1.6-1.6 1.6-1.6-1.6zM453.7 56.29l1.6 1.6-1.6 1.6-1.6-1.6zM476.03 65.65l1.6 1.6-1.6 1.6-1.6-1.6zM485.24 55.47l1.6 1.6-1.6 1.6-1.6-1.6zM483.08 63.02l1.6 1.6-1.6 1.6-1.6-1.6zM501.6 62.65l1.6 1.6-1.6 1.6-1.6-1.6zM505.09 61.28l1.6 1.6-1.6 1.6-1.6-1.6zM512.72 64.02l1.6 1.6-1.6 1.6-1.6-1.6zM501.47 62.05l1.6 1.6-1.6 1.6-1.6-1.6zM478.2 65.83l1.6 1.6-1.6 1.6-1.6-1.6zM488.19 49.73l1.6 1.6-1.6 1.6-1.6-1.6zM449.15 62.77l1.6 1.6-1.6 1.6-1.6-1.6zM451.7 61.02l1.6 1.6-1.6 1.6-1.6-1.6zM502.64 62.42l1.6 1.6-1.6 1.6-1.6-1.6zM521.52 58.8l1.6 1.6-1.6 1.6-1.6-1.6zM471.32 67.17l1.6 1.6-1.6 1.6-1.6-1.6zM479.87 50.8l1.6 1.6-1.6 1.6-1.6-1.6zM509.59 65.09l1.6 1.6-1.6 1.6-1.6-1.6zM492.15 63.76l1.6 1.6-1.6 1.6-1.6-1.6zM457.61 60.8l1.6 1.6-1.6 1.6-1.6-1.6zM491.67 61.21l1.6 1.6-1.6 1.6-1.6-1.6zM485.24 67.07l1.6 1.6-1.6 1.6-1.6-1.6zM500.45 61.7l1.6 1.6-1.6 1.6-1.6-1.6zM510.12 59.43l1.6 1.6-1.6 1.6-1.6-1.6zM520.18 65.32l1.6 1.6-1.6 1.6-1.6-1.6zM475.76 60.12l1.6 1.6-1.6 1.6-1.6-1.6zM486.43 58.09l1.6 1.6-1.6 1.6-1.6-1.6zM493.09 64.13l1.6 1.6-1.6 1.6-1.6-1.6zM491.9 64.44l1.6 1.6-1.6 1.6-1.6-1.6zM481.81 55.56l1.6 1.6-1.6 1.6-1.6-1.6zM514.97 63.74l1.6 1.6-1.6 1.6-1.6-1.6zM458.11 63.45l1.6 1.6-1.6 1.6-1.6-1.6zM503.31 49.31l1.6 1.6-1.6 1.6-1.6-1.6zM449.01 61.59l1.6 1.6-1.6 1.6-1.6-1.6zM468.26 67.78l1.6 1.6-1.6 1.6-1.6-1.6zM449.27 58.99l1.6 1.6-1.6 1.6-1.6-1.6zM526.18 70.34l1.6 1.6-1.6 1.6-1.6-1.6zM480.59 61.51l1.6 1.6-1.6 1.6-1.6-1.6zM501.8 59.58l1.6 1.6-1.6 1.6-1.6-1.6zM503.61 68.2l1.6 1.6-1.6 1.6-1.6-1.6zM470.22 65.84l1.6 1.6-1.6 1.6-1.6-1.6zM464.82 59.42l1.6 1.6-1.6 1.6-1.6-1.6zM480.59 61.46l1.6 1.6-1.6 1.6-1.6-1.6zM486.14 60.33l1.6 1.6-1.6 1.6-1.6-1.6zM463.71 63.49l1.6 1.6-1.6 1.6-1.6-1.6zM505.24 53.41l1.6 1.6-1.6 1.6-1.6-1.6zM510.63 63.37l1.6 1.6-1.6 1.6-1.6-1.6zM460.35 61.47l1.6 1.6-1.6 1.6-1.6-1.6zM508.92 58.23l1.6 1.6-1.6 1.6-1.6-1.6zM524.49 55.73l1.6 1.6-1.6 1.6-1.6-1.6zM491.27 59.55l1.6 1.6-1.6 1.6-1.6-1.6zM471.64 66.74l1.6 1.6-1.6 1.6-1.6-1.6zM491.1 62.66l1.6 1.6-1.6 1.6-1.6-1.6zM486.76 61.62l1.6 1.6-1.6 1.6-1.6-1.6zM458.65 62.47l1.6 1.6-1.6 1.6-1.6-1.6zM490.61 52.25l1.6 1.6-1.6 1.6-1.6-1.6zM449.95 60.97l1.6 1.6-1.6 1.6-1.6-1.6zM501.82 61.49l1.6 1.6-1.6 1.6-1.6-1.6zM507.27 59.19l1.6 1.6-1.6 1.6-1.6-1.6zM480.06 66.95l1.6 1.6-1.6 1.6-1.6-1.6zM505.36 57.36l1.6 1.6-1.6 1.6-1.6-1.6zM471.87 70.66l1.6 1.6-1.6 1.6-1.6-1.6zM500.74 60.41l1.6 1.6-1.6 1.6-1.6-1.6zM508.55 66.82l1.6 1.6-1.6 1.6-1.6-1.6zM484.93 51.3l1.6 1.6-1.6 1.6-1.6-1.6zM460.4 58.58l1.6 1.6-1.6 1.6-1.6-1.6zM453.15 65.6l1.6 1.6-1.6 1.6-1.6-1.6zM443.83 59.18l1.6 1.6-1.6 1.6-1.6-1.6zM511.48 62.98l1.6 1.6-1.6 1.6-1.6-1.6zM488.96 71.67l1.6 1.6-1.6 1.6-1.6-1.6zM526.94 67.37l1.6 1.6-1.6 1.6-1.6-1.6zM494.81 64.96l1.6 1.6-1.6 1.6-1.6-1.6zM487.72 50.31l1.6 1.6-1.6 1.6-1.6-1.6zM488 61.53l1.6 1.6-1.6 1.6-1.6-1.6zM522.35 73.62l1.6 1.6-1.6 1.6-1.6-1.6zM523.43 76.87l1.6 1.6-1.6 1.6-1.6-1.6zM512.92 68.92l1.6 1.6-1.6 1.6-1.6-1.6zM495.62 63.34l1.6 1.6-1.6 1.6-1.6-1.6zM472.71 56.65l1.6 1.6-1.6 1.6-1.6-1.6zM486.81 64.42l1.6 1.6-1.6 1.6-1.6-1.6zM450.35 66.85l1.6 1.6-1.6 1.6-1.6-1.6zM458.46 58.59l1.6 1.6-1.6 1.6-1.6-1.6zM491.13 63.9l1.6 1.6-1.6 1.6-1.6-1.6zM500.01 66.96l1.6 1.6-1.6 1.6-1.6-1.6zM487.88 64.85l1.6 1.6-1.6 1.6-1.6-1.6zM477.51 64.55l1.6 1.6-1.6 1.6-1.6-1.6zM506.29 58.97l1.6 1.6-1.6 1.6-1.6-1.6zM465.62 66.93l1.6 1.6-1.6 1.6-1.6-1.6zM485.46 61.92l1.6 1.6-1.6 1.6-1.6-1.6zM469.85 57.44l1.6 1.6-1.6 1.6-1.6-1.6zM504.07 64l1.6 1.6-1.6 1.6-1.6-1.6zM466.77 63.65l1.6 1.6-1.6 1.6-1.6-1.6zM521.66 54.57l1.6 1.6-1.6 1.6-1.6-1.6zM436.91 60.32l1.6 1.6-1.6 1.6-1.6-1.6zM450.22 60.22l1.6 1.6-1.6 1.6-1.6-1.6zM498.45 60.04l1.6 1.6-1.6 1.6-1.6-1.6zM498.39 58.24l1.6 1.6-1.6 1.6-1.6-1.6zM502.01 56.53l1.6 1.6-1.6 1.6-1.6-1.6zM452.2 56.44l1.6 1.6-1.6 1.6-1.6-1.6zM473.86 53.89l1.6 1.6-1.6 1.6-1.6-1.6zM520.42 50.74l1.6 1.6-1.6 1.6-1.6-1.6zM455.88 60.08l1.6 1.6-1.6 1.6-1.6-1.6zM490.53 62.08l1.6 1.6-1.6 1.6-1.6-1.6zM522.25 59.69l1.6 1.6-1.6 1.6-1.6-1.6zM483.53 59.86l1.6 1.6-1.6 1.6-1.6-1.6zM504.15 68.04l1.6 1.6-1.6 1.6-1.6-1.6zM498.71 71.6l1.6 1.6-1.6 1.6-1.6-1.6zM510.56 57.51l1.6 1.6-1.6 1.6-1.6-1.6zM496.44 62.55l1.6 1.6-1.6 1.6-1.6-1.6zM489.09 67.68l1.6 1.6-1.6 1.6-1.6-1.6zM504.68 70.46l1.6 1.6-1.6 1.6-1.6-1.6zM492.66 62.7l1.6 1.6-1.6 1.6-1.6-1.6zM508.47 61.71l1.6 1.6-1.6 1.6-1.6-1.6zM501.53 64.07l1.6 1.6-1.6 1.6-1.6-1.6zM462.73 59.68l1.6 1.6-1.6 1.6-1.6-1.6zM504.02 64.82l1.6 1.6-1.6 1.6-1.6-1.6zM474.34 58.04l1.6 1.6-1.6 1.6-1.6-1.6zM470.76 60.7l1.6 1.6-1.6 1.6-1.6-1.6zM506.56 63.57l1.6 1.6-1.6 1.6-1.6-1.6zM526.42 59.98l1.6 1.6-1.6 1.6-1.6-1.6zM500.21 58.84l1.6 1.6-1.6 1.6-1.6-1.6zM476.79 69.26l1.6 1.6-1.6 1.6-1.6-1.6zM476.03 62.76l1.6 1.6-1.6 1.6-1.6-1.6zM504.88 65.95l1.6 1.6-1.6 1.6-1.6-1.6zM493.99 58.66l1.6 1.6-1.6 1.6-1.6-1.6zM469.18 61.3l1.6 1.6-1.6 1.6-1.6-1.6zM460.68 52.4l1.6 1.6-1.6 1.6-1.6-1.6zM492.11 64.42l1.6 1.6-1.6 1.6-1.6-1.6zM456.35 60.16l1.6 1.6-1.6 1.6-1.6-1.6zM495.04 71.43l1.6 1.6-1.6 1.6-1.6-1.6zM515.81 61.35l1.6 1.6-1.6 1.6-1.6-1.6zM483.19 56.65l1.6 1.6-1.6 1.6-1.6-1.6zM466.17 68.54l1.6 1.6-1.6 1.6-1.6-1.6zM516.05 64.02l1.6 1.6-1.6 1.6-1.6-1.6zM500.87 59.8l1.6 1.6-1.6 1.6-1.6-1.6zM515.54 69.37l1.6 1.6-1.6 1.6-1.6-1.6zM498.92 60.01l1.6 1.6-1.6 1.6-1.6-1.6zM520.61 58.61l1.6 1.6-1.6 1.6-1.6-1.6zM483.92 65.27l1.6 1.6-1.6 1.6-1.6-1.6zM494.72 60.31l1.6 1.6-1.6 1.6-1.6-1.6zM466.77 53.8l1.6 1.6-1.6 1.6-1.6-1.6zM464.24 57.31l1.6 1.6-1.6 1.6-1.6-1.6zM479.57 49.29l1.6 1.6-1.6 1.6-1.6-1.6zM458.24 61.8l1.6 1.6-1.6 1.6-1.6-1.6zM506.53 60.86l1.6 1.6-1.6 1.6-1.6-1.6zM492.25 58.75l1.6 1.6-1.6 1.6-1.6-1.6zM477.13 63.25l1.6 1.6-1.6 1.6-1.6-1.6zM493.62 56.05l1.6 1.6-1.6 1.6-1.6-1.6zM461.25 61.94l1.6 1.6-1.6 1.6-1.6-1.6zM515.9 59.89l1.6 1.6-1.6 1.6-1.6-1.6zM509.82 67.97l1.6 1.6-1.6 1.6-1.6-1.6zM497.9 55.78l1.6 1.6-1.6 1.6-1.6-1.6zM461.45 66.24l1.6 1.6-1.6 1.6-1.6-1.6zM446.71 57.72l1.6 1.6-1.6 1.6-1.6-1.6zM505.43 57.76l1.6 1.6-1.6 1.6-1.6-1.6zM474.38 59.64l1.6 1.6-1.6 1.6-1.6-1.6zM507.23 62.17l1.6 1.6-1.6 1.6-1.6-1.6zM499.7 63.62l1.6 1.6-1.6 1.6-1.6-1.6zM456.12 59.33l1.6 1.6-1.6 1.6-1.6-1.6zM470.55 66.42l1.6 1.6-1.6 1.6-1.6-1.6zM456.05 61.19l1.6 1.6-1.6 1.6-1.6-1.6zM446.93 62.13l1.6 1.6-1.6 1.6-1.6-1.6zM455.81 62.87l1.6 1.6-1.6 1.6-1.6-1.6zM512.85 54.2l1.6 1.6-1.6 1.6-1.6-1.6zM465.58 63.31l1.6 1.6-1.6 1.6-1.6-1.6zM517.27 59.77l1.6 1.6-1.6 1.6-1.6-1.6zM471.01 66.62l1.6 1.6-1.6 1.6-1.6-1.6zM452.75 60.18l1.6 1.6-1.6 1.6-1.6-1.6zM495.56 52.03l1.6 1.6-1.6 1.6-1.6-1.6zM477.07 62.93l1.6 1.6-1.6 1.6-1.6-1.6zM493.36 56.66l1.6 1.6-1.6 1.6-1.6-1.6zM513.84 60.86l1.6 1.6-1.6 1.6-1.6-1.6zM484.96 70.48l1.6 1.6-1.6 1.6-1.6-1.6zM470.72 67.58l1.6 1.6-1.6 1.6-1.6-1.6zM475.47 60.17l1.6 1.6-1.6 1.6-1.6-1.6zM496.07 58.36l1.6 1.6-1.6 1.6-1.6-1.6zM442.93 62.34l1.6 1.6-1.6 1.6-1.6-1.6zM484.71 56.99l1.6 1.6-1.6 1.6-1.6-1.6zM488.44 61.76l1.6 1.6-1.6 1.6-1.6-1.6zM482.38 65.07l1.6 1.6-1.6 1.6-1.6-1.6zM521.75 64.6l1.6 1.6-1.6 1.6-1.6-1.6zM484.72 65.54l1.6 1.6-1.6 1.6-1.6-1.6zM488.58 57.34l1.6 1.6-1.6 1.6-1.6-1.6zM525.39 61.73l1.6 1.6-1.6 1.6-1.6-1.6zM446.71 63.14l1.6 1.6-1.6 1.6-1.6-1.6zM488.61 56.34l1.6 1.6-1.6 1.6-1.6-1.6zM485.52 63l1.6 1.6-1.6 1.6-1.6-1.6zM524.04 65.72l1.6 1.6-1.6 1.6-1.6-1.6zM519.1 56.83l1.6 1.6-1.6 1.6-1.6-1.6zM517 67.22l1.6 1.6-1.6 1.6-1.6-1.6zM465.99 59.13l1.6 1.6-1.6 1.6-1.6-1.6zM450.01 59.37l1.6 1.6-1.6 1.6-1.6-1.6zM520.08 62.16l1.6 1.6-1.6 1.6-1.6-1.6zM474.33 55.81l1.6 1.6-1.6 1.6-1.6-1.6zM475.45 61.23l1.6 1.6-1.6 1.6-1.6-1.6zM497.42 57.25l1.6 1.6-1.6 1.6-1.6-1.6zM505.97 63.05l1.6 1.6-1.6 1.6-1.6-1.6zM481.33 57.14l1.6 1.6-1.6 1.6-1.6-1.6zM474.86 55.75l1.6 1.6-1.6 1.6-1.6-1.6zM495.55 62.15l1.6 1.6-1.6 1.6-1.6-1.6zM480.12 71.57l1.6 1.6-1.6 1.6-1.6-1.6zM487.47 58.85l1.6 1.6-1.6 1.6-1.6-1.6zM458.1 58.49l1.6 1.6-1.6 1.6-1.6-1.6zM507.72 64.62l1.6 1.6-1.6 1.6-1.6-1.6zM496.67 63.54l1.6 1.6-1.6 1.6-1.6-1.6zM511.27 49.98l1.6 1.6-1.6 1.6-1.6-1.6zM492.59 59.74l1.6 1.6-1.6 1.6-1.6-1.6zM494.85 67.36l1.6 1.6-1.6 1.6-1.6-1.6zM522.1 64.31l1.6 1.6-1.6 1.6-1.6-1.6zM507.76 64.03l1.6 1.6-1.6 1.6-1.6-1.6zM525.08 59.19l1.6 1.6-1.6 1.6-1.6-1.6zM505.78 66.01l1.6 1.6-1.6 1.6-1.6-1.6zM469.61 56.92l1.6 1.6-1.6 1.6-1.6-1.6zM498.42 62.77l1.6 1.6-1.6 1.6-1.6-1.6zM467.48 54.72l1.6 1.6-1.6 1.6-1.6-1.6zM460.31 60.41l1.6 1.6-1.6 1.6-1.6-1.6zM521.55 58.18l1.6 1.6-1.6 1.6-1.6-1.6zM516.32 59.87l1.6 1.6-1.6 1.6-1.6-1.6zM488.41 55.53l1.6 1.6-1.6 1.6-1.6-1.6zM480.8 68.02l1.6 1.6-1.6 1.6-1.6-1.6zM513.66 60.65l1.6 1.6-1.6 1.6-1.6-1.6zM481.57 60.25l1.6 1.6-1.6 1.6-1.6-1.6zM462.96 54.21l1.6 1.6-1.6 1.6-1.6-1.6zM472.2 57.91l1.6 1.6-1.6 1.6-1.6-1.6zM505.22 64.11l1.6 1.6-1.6 1.6-1.6-1.6zM493.45 61.45l1.6 1.6-1.6 1.6-1.6-1.6zM456.44 58.75l1.6 1.6-1.6 1.6-1.6-1.6zM502.68 55.95l1.6 1.6-1.6 1.6-1.6-1.6zM498.68 64.82l1.6 1.6-1.6 1.6-1.6-1.6zM499.72 62.81l1.6 1.6-1.6 1.6-1.6-1.6zM475.07 61.67l1.6 1.6-1.6 1.6-1.6-1.6zM461.95 65.85l1.6 1.6-1.6 1.6-1.6-1.6zM485.99 62.05l1.6 1.6-1.6 1.6-1.6-1.6zM502.71 65.92l1.6 1.6-1.6 1.6-1.6-1.6zM479.06 64.07l1.6 1.6-1.6 1.6-1.6-1.6zM507.04 63.26l1.6 1.6-1.6 1.6-1.6-1.6zM500.74 66.06l1.6 1.6-1.6 1.6-1.6-1.6zM458.34 61.11l1.6 1.6-1.6 1.6-1.6-1.6zM454 61l1.6 1.6-1.6 1.6-1.6-1.6zM459.3 60.82l1.6 1.6-1.6 1.6-1.6-1.6zM476.57 63.62l1.6 1.6-1.6 1.6-1.6-1.6zM476.84 68.02l1.6 1.6-1.6 1.6-1.6-1.6zM503.75 56.5l1.6 1.6-1.6 1.6-1.6-1.6zM449.65 59.76l1.6 1.6-1.6 1.6-1.6-1.6zM493.43 56.09l1.6 1.6-1.6 1.6-1.6-1.6zM512.61 61.46l1.6 1.6-1.6 1.6-1.6-1.6zM483.25 54.26l1.6 1.6-1.6 1.6-1.6-1.6zM411.75 64.15l1.6 1.6-1.6 1.6-1.6-1.6zM416.75 62.15l1.6 1.6-1.6 1.6-1.6-1.6zM420.75 55.4l1.6 1.6-1.6 1.6-1.6-1.6zM424.5 57.65l1.6 1.6-1.6 1.6-1.6-1.6zM430 59.15l1.6 1.6-1.6 1.6-1.6-1.6zM433.25 57.15l1.6 1.6-1.6 1.6-1.6-1.6zM499.5 42.15l1.6 1.6-1.6 1.6-1.6-1.6zM509.5 45.4l1.6 1.6-1.6 1.6-1.6-1.6zM500 47.15l1.6 1.6-1.6 1.6-1.6-1.6zM455 48.4l1.6 1.6-1.6 1.6-1.6-1.6zM461.5 48.9l1.6 1.6-1.6 1.6-1.6-1.6zM486.25 47.9l1.6 1.6-1.6 1.6-1.6-1.6zM520.75 49.65l1.6 1.6-1.6 1.6-1.6-1.6zM528.25 57.65l1.6 1.6-1.6 1.6-1.6-1.6zM530 60.15l1.6 1.6-1.6 1.6-1.6-1.6zM529.25 65.4l1.6 1.6-1.6 1.6-1.6-1.6zM553.75 57.65l1.6 1.6-1.6 1.6-1.6-1.6zM554.25 62.65l1.6 1.6-1.6 1.6-1.6-1.6zM549 65.4l1.6 1.6-1.6 1.6-1.6-1.6zM444.5 70.9l1.6 1.6-1.6 1.6-1.6-1.6zM490 83.9l1.6 1.6-1.6 1.6-1.6-1.6zM491.25 73.9l1.6 1.6-1.6 1.6-1.6-1.6zM504.25 73.4l1.6 1.6-1.6 1.6-1.6-1.6zM510 74.4l1.6 1.6-1.6 1.6-1.6-1.6zM519 75.15l1.6 1.6-1.6 1.6-1.6-1.6zM527 85.65l1.6 1.6-1.6 1.6-1.6-1.6zM532.5 75.65l1.6 1.6-1.6 1.6-1.6-1.6zM537 72.9l1.6 1.6-1.6 1.6-1.6-1.6zM541.25 75.15l1.6 1.6-1.6 1.6-1.6-1.6zM543.75 76.65l1.6 1.6-1.6 1.6-1.6-1.6zM542 83.4l1.6 1.6-1.6 1.6-1.6-1.6zM538.5 94.4l1.6 1.6-1.6 1.6-1.6-1.6zM551.5 74.4l1.6 1.6-1.6 1.6-1.6-1.6z"/>
<line class="dash" stroke-width="0.9" x1="406.1" y1="63.5" x2="565.3" y2="63.5"/>
<path class="ax" d="M402.55 2.3V123.4"/>
<path class="ax" d="M402.55 123.4H567.6"/>
<path class="ax" d="M402.55 120.3h-2.2M402.55 106h-2.2M402.55 91.7h-2.2M402.55 77.4h-2.2M402.55 63.1h-2.2M402.55 48.8h-2.2M402.55 34.5h-2.2M402.55 20.2h-2.2M402.55 5.9h-2.2M406.5 123.4v2.2M438.16 123.4v2.2M469.82 123.4v2.2M501.48 123.4v2.2M533.14 123.4v2.2M564.8 123.4v2.2"/>
<text class="tl" transform="translate(398.7 120.3) rotate(-90)">-80</text>
<text class="tl" transform="translate(398.7 106) rotate(-90)">-60</text>
<text class="tl" transform="translate(398.7 91.7) rotate(-90)">-40</text>
<text class="tl" transform="translate(398.7 77.4) rotate(-90)">-20</text>
<text class="tl" transform="translate(398.7 63.1) rotate(-90)">0</text>
<text class="tl" transform="translate(398.7 48.8) rotate(-90)">20</text>
<text class="tl" transform="translate(398.7 34.5) rotate(-90)">40</text>
<text class="tl" transform="translate(398.7 20.2) rotate(-90)">60</text>
<text class="tl" x="406.5" y="131.45">10</text>
<text class="tl" x="438.16" y="131.45">30</text>
<text class="tl" x="469.82" y="131.45">50</text>
<text class="tl" x="501.48" y="131.45">70</text>
<text class="tl" x="533.14" y="131.45">90</text>
<text class="tl" x="564.8" y="131.45">110</text>
<text class="tt" style="font-size:5.24px" transform="translate(393 61.9) rotate(-90)">Difference eGFR_BIS2-mGFR</text>
<text class="tt" x="485.3" y="136.1">Average of eGFR_BIS2 and mGFR</text>
</g>
<g id="panel4">
<path class="grid" d="M593.4 91.8H758.4M593.4 106.1H758.4"/>
<rect class="band" x="596.6" y="47" width="159.3" height="33.5"/>
<path class="pts" d="M643.14 63.64l1.6 1.6-1.6 1.6-1.6-1.6zM673.35 70.69l1.6 1.6-1.6 1.6-1.6-1.6zM665.51 58.95l1.6 1.6-1.6 1.6-1.6-1.6zM675.84 59.6l1.6 1.6-1.6 1.6-1.6-1.6zM642.63 63.63l1.6 1.6-1.6 1.6-1.6-1.6zM707.31 54.29l1.6 1.6-1.6 1.6-1.6-1.6zM676.5 57l1.6 1.6-1.6 1.6-1.6-1.6zM696.06 60.23l1.6 1.6-1.6 1.6-1.6-1.6zM678.68 50.12l1.6 1.6-1.6 1.6-1.6-1.6zM701.51 58.28l1.6 1.6-1.6 1.6-1.6-1.6zM715.06 56.19l1.6 1.6-1.6 1.6-1.6-1.6zM691.05 47.1l1.6 1.6-1.6 1.6-1.6-1.6zM657.9 63.62l1.6 1.6-1.6 1.6-1.6-1.6zM660.96 73.54l1.6 1.6-1.6 1.6-1.6-1.6zM707.71 61.63l1.6 1.6-1.6 1.6-1.6-1.6zM657.08 67.52l1.6 1.6-1.6 1.6-1.6-1.6zM687.19 78.25l1.6 1.6-1.6 1.6-1.6-1.6zM667.35 59.32l1.6 1.6-1.6 1.6-1.6-1.6zM663.62 63.06l1.6 1.6-1.6 1.6-1.6-1.6zM698.91 65.05l1.6 1.6-1.6 1.6-1.6-1.6zM685.22 58.43l1.6 1.6-1.6 1.6-1.6-1.6zM679.23 63.26l1.6 1.6-1.6 1.6-1.6-1.6zM691.79 56.37l1.6 1.6-1.6 1.6-1.6-1.6zM673.08 50.78l1.6 1.6-1.6 1.6-1.6-1.6zM673.81 76.01l1.6 1.6-1.6 1.6-1.6-1.6zM709.31 58.08l1.6 1.6-1.6 1.6-1.6-1.6zM690.39 60.2l1.6 1.6-1.6 1.6-1.6-1.6zM637.13 61.21l1.6 1.6-1.6 1.6-1.6-1.6zM638.19 68.81l1.6 1.6-1.6 1.6-1.6-1.6zM680.75 72.3l1.6 1.6-1.6 1.6-1.6-1.6zM682.48 66.48l1.6 1.6-1.6 1.6-1.6-1.6zM696.99 60.9l1.6 1.6-1.6 1.6-1.6-1.6zM705.99 67.65l1.6 1.6-1.6 1.6-1.6-1.6zM688.14 60.43l1.6 1.6-1.6 1.6-1.6-1.6zM647.16 58.13l1.6 1.6-1.6 1.6-1.6-1.6zM683.81 63.86l1.6 1.6-1.6 1.6-1.6-1.6zM703 51.29l1.6 1.6-1.6 1.6-1.6-1.6zM683.21 66.39l1.6 1.6-1.6 1.6-1.6-1.6zM700.34 77.2l1.6 1.6-1.6 1.6-1.6-1.6zM667.18 56.96l1.6 1.6-1.6 1.6-1.6-1.6zM657.32 67.86l1.6 1.6-1.6 1.6-1.6-1.6zM645.38 70.76l1.6 1.6-1.6 1.6-1.6-1.6zM697.86 74.06l1.6 1.6-1.6 1.6-1.6-1.6zM712.1 62.23l1.6 1.6-1.6 1.6-1.6-1.6zM645.2 61.5l1.6 1.6-1.6 1.6-1.6-1.6zM646.48 70.8l1.6 1.6-1.6 1.6-1.6-1.6zM680.68 66.54l1.6 1.6-1.6 1.6-1.6-1.6zM656.33 80.12l1.6 1.6-1.6 1.6-1.6-1.6zM645.14 63.12l1.6 1.6-1.6 1.6-1.6-1.6zM681.12 67.82l1.6 1.6-1.6 1.6-1.6-1.6zM683.82 59.95l1.6 1.6-1.6 1.6-1.6-1.6zM681.65 62.77l1.6 1.6-1.6 1.6-1.6-1.6zM698.44 67.28l1.6 1.6-1.6 1.6-1.6-1.6zM677.59 62.31l1.6 1.6-1.6 1.6-1.6-1.6zM688.28 60.21l1.6 1.6-1.6 1.6-1.6-1.6zM665.33 75.96l1.6 1.6-1.6 1.6-1.6-1.6zM699.3 49.95l1.6 1.6-1.6 1.6-1.6-1.6zM682.98 61.79l1.6 1.6-1.6 1.6-1.6-1.6zM665.32 61.39l1.6 1.6-1.6 1.6-1.6-1.6zM676.26 59.53l1.6 1.6-1.6 1.6-1.6-1.6zM664.56 54.81l1.6 1.6-1.6 1.6-1.6-1.6zM694.72 42.48l1.6 1.6-1.6 1.6-1.6-1.6zM654.96 65.49l1.6 1.6-1.6 1.6-1.6-1.6zM701.67 70.32l1.6 1.6-1.6 1.6-1.6-1.6zM716.29 62.12l1.6 1.6-1.6 1.6-1.6-1.6zM639.97 65.68l1.6 1.6-1.6 1.6-1.6-1.6zM656.24 62.18l1.6 1.6-1.6 1.6-1.6-1.6zM704.76 58.1l1.6 1.6-1.6 1.6-1.6-1.6zM692.76 59.29l1.6 1.6-1.6 1.6-1.6-1.6zM702.71 71.3l1.6 1.6-1.6 1.6-1.6-1.6zM682.77 52.77l1.6 1.6-1.6 1.6-1.6-1.6zM647.48 64.45l1.6 1.6-1.6 1.6-1.6-1.6zM644.25 59.64l1.6 1.6-1.6 1.6-1.6-1.6zM667.93 66.33l1.6 1.6-1.6 1.6-1.6-1.6zM641.81 62.82l1.6 1.6-1.6 1.6-1.6-1.6zM649.76 67.43l1.6 1.6-1.6 1.6-1.6-1.6zM652.43 53.94l1.6 1.6-1.6 1.6-1.6-1.6zM697.93 51.4l1.6 1.6-1.6 1.6-1.6-1.6zM661.11 66.19l1.6 1.6-1.6 1.6-1.6-1.6zM659.38 60.89l1.6 1.6-1.6 1.6-1.6-1.6zM691.47 64.62l1.6 1.6-1.6 1.6-1.6-1.6zM676.87 53.7l1.6 1.6-1.6 1.6-1.6-1.6zM695.83 58.79l1.6 1.6-1.6 1.6-1.6-1.6zM701.44 53.97l1.6 1.6-1.6 1.6-1.6-1.6zM697.56 62.3l1.6 1.6-1.6 1.6-1.6-1.6zM680.15 59.2l1.6 1.6-1.6 1.6-1.6-1.6zM629.62 66.53l1.6 1.6-1.6 1.6-1.6-1.6zM670.33 60.77l1.6 1.6-1.6 1.6-1.6-1.6zM693 56.51l1.6 1.6-1.6 1.6-1.6-1.6zM701.44 47.37l1.6 1.6-1.6 1.6-1.6-1.6zM633.8 66.25l1.6 1.6-1.6 1.6-1.6-1.6zM670 58.17l1.6 1.6-1.6 1.6-1.6-1.6zM687.53 74.8l1.6 1.6-1.6 1.6-1.6-1.6zM701.69 56.39l1.6 1.6-1.6 1.6-1.6-1.6zM668.11 54.17l1.6 1.6-1.6 1.6-1.6-1.6zM701.15 69l1.6 1.6-1.6 1.6-1.6-1.6zM706.49 53.05l1.6 1.6-1.6 1.6-1.6-1.6zM685.88 69.72l1.6 1.6-1.6 1.6-1.6-1.6zM675.53 62.63l1.6 1.6-1.6 1.6-1.6-1.6zM701.62 64.04l1.6 1.6-1.6 1.6-1.6-1.6zM687.95 60.04l1.6 1.6-1.6 1.6-1.6-1.6zM645.42 66.43l1.6 1.6-1.6 1.6-1.6-1.6zM639.21 59.88l1.6 1.6-1.6 1.6-1.6-1.6zM678.22 55.57l1.6 1.6-1.6 1.6-1.6-1.6zM691.92 56.94l1.6 1.6-1.6 1.6-1.6-1.6zM701.92 57.76l1.6 1.6-1.6 1.6-1.6-1.6zM682.55 65.41l1.6 1.6-1.6 1.6-1.6-1.6zM671.49 60.04l1.6 1.6-1.6 1.6-1.6-1.6zM645.74 57.24l1.6 1.6-1.6 1.6-1.6-1.6zM703.14 60.95l1.6 1.6-1.6 1.6-1.6-1.6zM705.03 59.29l1.6 1.6-1.6 1.6-1.6-1.6zM673.47 58.65l1.6 1.6-1.6 1.6-1.6-1.6zM687.03 68.72l1.6 1.6-1.6 1.6-1.6-1.6zM675.63 61.69l1.6 1.6-1.6 1.6-1.6-1.6zM672.46 62.13l1.6 1.6-1.6 1.6-1.6-1.6zM688.16 44.83l1.6 1.6-1.6 1.6-1.6-1.6zM658.58 57.97l1.6 1.6-1.6 1.6-1.6-1.6zM655.76 58.86l1.6 1.6-1.6 1.6-1.6-1.6zM694.69 69.92l1.6 1.6-1.6 1.6-1.6-1.6zM642.88 60.41l1.6 1.6-1.6 1.6-1.6-1.6zM666.87 67.94l1.6 1.6-1.6 1.6-1.6-1.6zM641.05 54.33l1.6 1.6-1.6 1.6-1.6-1.6zM673.09 79.85l1.6 1.6-1.6 1.6-1.6-1.6zM705.53 62.46l1.6 1.6-1.6 1.6-1.6-1.6zM663.28 66.49l1.6 1.6-1.6 1.6-1.6-1.6zM682.89 53.89l1.6 1.6-1.6 1.6-1.6-1.6zM636.89 61.75l1.6 1.6-1.6 1.6-1.6-1.6zM691.43 52.72l1.6 1.6-1.6 1.6-1.6-1.6zM714.18 61l1.6 1.6-1.6 1.6-1.6-1.6zM666.06 74.75l1.6 1.6-1.6 1.6-1.6-1.6zM685.38 69.44l1.6 1.6-1.6 1.6-1.6-1.6zM637.93 66.4l1.6 1.6-1.6 1.6-1.6-1.6zM648.68 63.79l1.6 1.6-1.6 1.6-1.6-1.6zM691.48 56.3l1.6 1.6-1.6 1.6-1.6-1.6zM673.07 63.42l1.6 1.6-1.6 1.6-1.6-1.6zM695.21 58.19l1.6 1.6-1.6 1.6-1.6-1.6zM703.53 73.16l1.6 1.6-1.6 1.6-1.6-1.6zM702.32 47.79l1.6 1.6-1.6 1.6-1.6-1.6zM685.2 64.58l1.6 1.6-1.6 1.6-1.6-1.6zM671.85 52.2l1.6 1.6-1.6 1.6-1.6-1.6zM710.2 58.92l1.6 1.6-1.6 1.6-1.6-1.6zM664.64 55.48l1.6 1.6-1.6 1.6-1.6-1.6zM676.64 49.1l1.6 1.6-1.6 1.6-1.6-1.6zM683.7 60.9l1.6 1.6-1.6 1.6-1.6-1.6zM699.04 61.17l1.6 1.6-1.6 1.6-1.6-1.6zM671.65 64.86l1.6 1.6-1.6 1.6-1.6-1.6zM692.41 71.69l1.6 1.6-1.6 1.6-1.6-1.6zM691.67 45.68l1.6 1.6-1.6 1.6-1.6-1.6zM659.04 65.91l1.6 1.6-1.6 1.6-1.6-1.6zM654.28 60.29l1.6 1.6-1.6 1.6-1.6-1.6zM650.69 63.94l1.6 1.6-1.6 1.6-1.6-1.6zM705.36 54.65l1.6 1.6-1.6 1.6-1.6-1.6zM683.58 66.8l1.6 1.6-1.6 1.6-1.6-1.6zM705.2 56.46l1.6 1.6-1.6 1.6-1.6-1.6zM689.82 64.9l1.6 1.6-1.6 1.6-1.6-1.6zM694.85 66.21l1.6 1.6-1.6 1.6-1.6-1.6zM715.73 68.05l1.6 1.6-1.6 1.6-1.6-1.6zM665.13 51.39l1.6 1.6-1.6 1.6-1.6-1.6zM647.86 67.16l1.6 1.6-1.6 1.6-1.6-1.6zM692.93 42.02l1.6 1.6-1.6 1.6-1.6-1.6zM681.84 68.98l1.6 1.6-1.6 1.6-1.6-1.6zM671.62 48.07l1.6 1.6-1.6 1.6-1.6-1.6zM671.16 63.47l1.6 1.6-1.6 1.6-1.6-1.6zM664.72 65.44l1.6 1.6-1.6 1.6-1.6-1.6zM694.34 60.53l1.6 1.6-1.6 1.6-1.6-1.6zM678.2 67.6l1.6 1.6-1.6 1.6-1.6-1.6zM695.2 64.15l1.6 1.6-1.6 1.6-1.6-1.6zM652.47 59.01l1.6 1.6-1.6 1.6-1.6-1.6zM691.37 60.99l1.6 1.6-1.6 1.6-1.6-1.6zM665.27 61.53l1.6 1.6-1.6 1.6-1.6-1.6zM682.75 57.64l1.6 1.6-1.6 1.6-1.6-1.6zM631.58 69.14l1.6 1.6-1.6 1.6-1.6-1.6zM686.8 68.57l1.6 1.6-1.6 1.6-1.6-1.6zM709.65 61.34l1.6 1.6-1.6 1.6-1.6-1.6zM656.77 61.78l1.6 1.6-1.6 1.6-1.6-1.6zM692.91 55.63l1.6 1.6-1.6 1.6-1.6-1.6zM646.99 65.28l1.6 1.6-1.6 1.6-1.6-1.6zM675.09 56.85l1.6 1.6-1.6 1.6-1.6-1.6zM674.5 44.88l1.6 1.6-1.6 1.6-1.6-1.6zM677.01 64.09l1.6 1.6-1.6 1.6-1.6-1.6zM626.75 66.73l1.6 1.6-1.6 1.6-1.6-1.6zM689.39 55.74l1.6 1.6-1.6 1.6-1.6-1.6zM648.3 62.74l1.6 1.6-1.6 1.6-1.6-1.6zM651.49 56.35l1.6 1.6-1.6 1.6-1.6-1.6zM676.1 58.17l1.6 1.6-1.6 1.6-1.6-1.6zM709.75 50.05l1.6 1.6-1.6 1.6-1.6-1.6zM667.02 68.02l1.6 1.6-1.6 1.6-1.6-1.6zM679.55 64.92l1.6 1.6-1.6 1.6-1.6-1.6zM698.78 73.68l1.6 1.6-1.6 1.6-1.6-1.6zM676.09 72.72l1.6 1.6-1.6 1.6-1.6-1.6zM678.71 69.49l1.6 1.6-1.6 1.6-1.6-1.6zM678.89 53.44l1.6 1.6-1.6 1.6-1.6-1.6zM712 70.58l1.6 1.6-1.6 1.6-1.6-1.6zM686.8 64.09l1.6 1.6-1.6 1.6-1.6-1.6zM693.01 62.14l1.6 1.6-1.6 1.6-1.6-1.6zM674.53 65.41l1.6 1.6-1.6 1.6-1.6-1.6zM685.6 59.38l1.6 1.6-1.6 1.6-1.6-1.6zM688.12 68.22l1.6 1.6-1.6 1.6-1.6-1.6zM699.06 54.62l1.6 1.6-1.6 1.6-1.6-1.6zM673.62 62.64l1.6 1.6-1.6 1.6-1.6-1.6zM689.54 64.36l1.6 1.6-1.6 1.6-1.6-1.6zM671.78 56.32l1.6 1.6-1.6 1.6-1.6-1.6zM667.33 73.48l1.6 1.6-1.6 1.6-1.6-1.6zM686.69 66.48l1.6 1.6-1.6 1.6-1.6-1.6zM685 70.21l1.6 1.6-1.6 1.6-1.6-1.6zM692.53 57.86l1.6 1.6-1.6 1.6-1.6-1.6zM670.28 71.89l1.6 1.6-1.6 1.6-1.6-1.6zM662.81 69.37l1.6 1.6-1.6 1.6-1.6-1.6zM654.83 58.47l1.6 1.6-1.6 1.6-1.6-1.6zM657.18 64.15l1.6 1.6-1.6 1.6-1.6-1.6zM644.7 61.7l1.6 1.6-1.6 1.6-1.6-1.6zM709.55 51.14l1.6 1.6-1.6 1.6-1.6-1.6zM677.65 63.9l1.6 1.6-1.6 1.6-1.6-1.6zM679.34 53.72l1.6 1.6-1.6 1.6-1.6-1.6zM678.03 50.08l1.6 1.6-1.6 1.6-1.6-1.6zM706.48 44.45l1.6 1.6-1.6 1.6-1.6-1.6zM654.17 59.62l1.6 1.6-1.6 1.6-1.6-1.6zM628.88 67.47l1.6 1.6-1.6 1.6-1.6-1.6zM674.51 62.69l1.6 1.6-1.6 1.6-1.6-1.6zM691.16 73.64l1.6 1.6-1.6 1.6-1.6-1.6zM680.04 59.4l1.6 1.6-1.6 1.6-1.6-1.6zM661.7 66.48l1.6 1.6-1.6 1.6-1.6-1.6zM711.36 65.39l1.6 1.6-1.6 1.6-1.6-1.6zM699.8 50.3l1.6 1.6-1.6 1.6-1.6-1.6zM676.41 63.47l1.6 1.6-1.6 1.6-1.6-1.6zM689.6 63.71l1.6 1.6-1.6 1.6-1.6-1.6zM686.69 79.51l1.6 1.6-1.6 1.6-1.6-1.6zM695.58 49.63l1.6 1.6-1.6 1.6-1.6-1.6zM703.24 62.71l1.6 1.6-1.6 1.6-1.6-1.6zM666.15 56.24l1.6 1.6-1.6 1.6-1.6-1.6zM690.9 51.17l1.6 1.6-1.6 1.6-1.6-1.6zM676.05 64.97l1.6 1.6-1.6 1.6-1.6-1.6zM661.84 67.11l1.6 1.6-1.6 1.6-1.6-1.6zM691.08 51.64l1.6 1.6-1.6 1.6-1.6-1.6zM696.78 54.42l1.6 1.6-1.6 1.6-1.6-1.6zM639.44 63.55l1.6 1.6-1.6 1.6-1.6-1.6zM640.22 64.76l1.6 1.6-1.6 1.6-1.6-1.6zM650.39 69.57l1.6 1.6-1.6 1.6-1.6-1.6zM702.76 72.38l1.6 1.6-1.6 1.6-1.6-1.6zM689.63 60.74l1.6 1.6-1.6 1.6-1.6-1.6zM679.3 58.46l1.6 1.6-1.6 1.6-1.6-1.6zM675.2 71.48l1.6 1.6-1.6 1.6-1.6-1.6zM684.26 55.72l1.6 1.6-1.6 1.6-1.6-1.6zM708.94 52.63l1.6 1.6-1.6 1.6-1.6-1.6zM700.87 52.24l1.6 1.6-1.6 1.6-1.6-1.6zM693.8 55.91l1.6 1.6-1.6 1.6-1.6-1.6zM680.44 54.37l1.6 1.6-1.6 1.6-1.6-1.6zM680.49 79.83l1.6 1.6-1.6 1.6-1.6-1.6zM652.56 63.66l1.6 1.6-1.6 1.6-1.6-1.6zM684.7 64.95l1.6 1.6-1.6 1.6-1.6-1.6zM679.53 51.61l1.6 1.6-1.6 1.6-1.6-1.6zM646.6 60.82l1.6 1.6-1.6 1.6-1.6-1.6zM647.42 62.83l1.6 1.6-1.6 1.6-1.6-1.6zM644.55 57.66l1.6 1.6-1.6 1.6-1.6-1.6zM693.06 67.87l1.6 1.6-1.6 1.6-1.6-1.6zM676.72 66.76l1.6 1.6-1.6 1.6-1.6-1.6zM668.41 62.38l1.6 1.6-1.6 1.6-1.6-1.6zM698.11 68.87l1.6 1.6-1.6 1.6-1.6-1.6zM690.12 61.74l1.6 1.6-1.6 1.6-1.6-1.6zM692.23 63.9l1.6 1.6-1.6 1.6-1.6-1.6zM690.28 59.36l1.6 1.6-1.6 1.6-1.6-1.6zM652.99 61.12l1.6 1.6-1.6 1.6-1.6-1.6zM679.24 66l1.6 1.6-1.6 1.6-1.6-1.6zM712.04 65.83l1.6 1.6-1.6 1.6-1.6-1.6zM667.87 56.47l1.6 1.6-1.6 1.6-1.6-1.6zM679.95 65.2l1.6 1.6-1.6 1.6-1.6-1.6zM653.45 50.78l1.6 1.6-1.6 1.6-1.6-1.6zM700.18 71.08l1.6 1.6-1.6 1.6-1.6-1.6zM700.18 53.35l1.6 1.6-1.6 1.6-1.6-1.6zM678.91 72.26l1.6 1.6-1.6 1.6-1.6-1.6zM650.99 71.06l1.6 1.6-1.6 1.6-1.6-1.6zM634.73 58.51l1.6 1.6-1.6 1.6-1.6-1.6zM691.5 67.97l1.6 1.6-1.6 1.6-1.6-1.6zM666 65.24l1.6 1.6-1.6 1.6-1.6-1.6zM694.28 60.64l1.6 1.6-1.6 1.6-1.6-1.6zM667.02 79.5l1.6 1.6-1.6 1.6-1.6-1.6zM686.94 49.85l1.6 1.6-1.6 1.6-1.6-1.6zM714.1 56.52l1.6 1.6-1.6 1.6-1.6-1.6zM642.19 66.74l1.6 1.6-1.6 1.6-1.6-1.6zM675.2 80.21l1.6 1.6-1.6 1.6-1.6-1.6zM696.18 71.29l1.6 1.6-1.6 1.6-1.6-1.6zM673.02 45.77l1.6 1.6-1.6 1.6-1.6-1.6zM669.62 57.3l1.6 1.6-1.6 1.6-1.6-1.6zM665.56 66.74l1.6 1.6-1.6 1.6-1.6-1.6zM666.89 73.43l1.6 1.6-1.6 1.6-1.6-1.6zM668.09 55.27l1.6 1.6-1.6 1.6-1.6-1.6zM679.66 61.61l1.6 1.6-1.6 1.6-1.6-1.6zM694.11 63.61l1.6 1.6-1.6 1.6-1.6-1.6zM638.8 61.24l1.6 1.6-1.6 1.6-1.6-1.6zM682.11 64.99l1.6 1.6-1.6 1.6-1.6-1.6zM697.35 70.32l1.6 1.6-1.6 1.6-1.6-1.6zM704.36 51.74l1.6 1.6-1.6 1.6-1.6-1.6zM670.51 58.86l1.6 1.6-1.6 1.6-1.6-1.6zM675.37 71.81l1.6 1.6-1.6 1.6-1.6-1.6zM672.49 66.5l1.6 1.6-1.6 1.6-1.6-1.6zM688.52 61.57l1.6 1.6-1.6 1.6-1.6-1.6zM680.54 59.25l1.6 1.6-1.6 1.6-1.6-1.6zM698.12 57.79l1.6 1.6-1.6 1.6-1.6-1.6zM674.63 63.63l1.6 1.6-1.6 1.6-1.6-1.6zM656.98 64.8l1.6 1.6-1.6 1.6-1.6-1.6zM686.93 61.99l1.6 1.6-1.6 1.6-1.6-1.6zM662.66 64.77l1.6 1.6-1.6 1.6-1.6-1.6zM687.59 54.97l1.6 1.6-1.6 1.6-1.6-1.6zM683.54 69.09l1.6 1.6-1.6 1.6-1.6-1.6zM717.88 68.37l1.6 1.6-1.6 1.6-1.6-1.6zM672.2 68.1l1.6 1.6-1.6 1.6-1.6-1.6zM689.82 51.11l1.6 1.6-1.6 1.6-1.6-1.6zM705.24 42.26l1.6 1.6-1.6 1.6-1.6-1.6zM660.4 61.59l1.6 1.6-1.6 1.6-1.6-1.6zM688.73 71.54l1.6 1.6-1.6 1.6-1.6-1.6zM670.44 57.13l1.6 1.6-1.6 1.6-1.6-1.6zM664.26 68.18l1.6 1.6-1.6 1.6-1.6-1.6zM652.82 60.88l1.6 1.6-1.6 1.6-1.6-1.6zM653.42 58.72l1.6 1.6-1.6 1.6-1.6-1.6zM637.47 62.33l1.6 1.6-1.6 1.6-1.6-1.6zM649.6 69.15l1.6 1.6-1.6 1.6-1.6-1.6zM685.91 60.12l1.6 1.6-1.6 1.6-1.6-1.6zM683.92 64.63l1.6 1.6-1.6 1.6-1.6-1.6zM668.15 63.68l1.6 1.6-1.6 1.6-1.6-1.6zM639.26 69.93l1.6 1.6-1.6 1.6-1.6-1.6zM684.92 76.91l1.6 1.6-1.6 1.6-1.6-1.6zM699.53 61.15l1.6 1.6-1.6 1.6-1.6-1.6zM669.79 51.1l1.6 1.6-1.6 1.6-1.6-1.6zM649.55 68.38l1.6 1.6-1.6 1.6-1.6-1.6zM667.91 45.61l1.6 1.6-1.6 1.6-1.6-1.6zM664.35 54.93l1.6 1.6-1.6 1.6-1.6-1.6zM698.01 74.63l1.6 1.6-1.6 1.6-1.6-1.6zM714.62 58.19l1.6 1.6-1.6 1.6-1.6-1.6zM635.71 65.45l1.6 1.6-1.6 1.6-1.6-1.6zM694.56 55.86l1.6 1.6-1.6 1.6-1.6-1.6zM694.13 72.93l1.6 1.6-1.6 1.6-1.6-1.6zM703.71 64l1.6 1.6-1.6 1.6-1.6-1.6zM680.24 58.8l1.6 1.6-1.6 1.6-1.6-1.6zM704.95 63.57l1.6 1.6-1.6 1.6-1.6-1.6zM673.57 61.15l1.6 1.6-1.6 1.6-1.6-1.6zM672.07 60.63l1.6 1.6-1.6 1.6-1.6-1.6zM658.06 59.89l1.6 1.6-1.6 1.6-1.6-1.6zM652.04 59.21l1.6 1.6-1.6 1.6-1.6-1.6zM662.33 69.77l1.6 1.6-1.6 1.6-1.6-1.6zM693.07 56.78l1.6 1.6-1.6 1.6-1.6-1.6zM707.35 57.83l1.6 1.6-1.6 1.6-1.6-1.6zM687.06 65.6l1.6 1.6-1.6 1.6-1.6-1.6zM670.72 60.46l1.6 1.6-1.6 1.6-1.6-1.6zM656.92 75.37l1.6 1.6-1.6 1.6-1.6-1.6zM633.05 68.39l1.6 1.6-1.6 1.6-1.6-1.6zM645.18 70.1l1.6 1.6-1.6 1.6-1.6-1.6zM669.31 43.73l1.6 1.6-1.6 1.6-1.6-1.6zM707.45 76.77l1.6 1.6-1.6 1.6-1.6-1.6zM658.31 55.43l1.6 1.6-1.6 1.6-1.6-1.6zM687.35 61.99l1.6 1.6-1.6 1.6-1.6-1.6zM641.45 61.45l1.6 1.6-1.6 1.6-1.6-1.6zM678.18 61.21l1.6 1.6-1.6 1.6-1.6-1.6zM633.72 68.5l1.6 1.6-1.6 1.6-1.6-1.6zM653.08 69.43l1.6 1.6-1.6 1.6-1.6-1.6zM647.4 56.78l1.6 1.6-1.6 1.6-1.6-1.6zM688.41 57.77l1.6 1.6-1.6 1.6-1.6-1.6zM694.57 52.16l1.6 1.6-1.6 1.6-1.6-1.6zM654.3 69.08l1.6 1.6-1.6 1.6-1.6-1.6zM704.33 55.32l1.6 1.6-1.6 1.6-1.6-1.6zM646.46 74.56l1.6 1.6-1.6 1.6-1.6-1.6zM692.31 60.08l1.6 1.6-1.6 1.6-1.6-1.6zM677.48 58.61l1.6 1.6-1.6 1.6-1.6-1.6zM649.94 67.34l1.6 1.6-1.6 1.6-1.6-1.6zM652.97 59.17l1.6 1.6-1.6 1.6-1.6-1.6zM632.8 65.26l1.6 1.6-1.6 1.6-1.6-1.6zM677.36 69.98l1.6 1.6-1.6 1.6-1.6-1.6zM651.83 62.91l1.6 1.6-1.6 1.6-1.6-1.6zM695.23 63.9l1.6 1.6-1.6 1.6-1.6-1.6zM677.66 67.91l1.6 1.6-1.6 1.6-1.6-1.6zM647.32 66.19l1.6 1.6-1.6 1.6-1.6-1.6zM643.98 64.38l1.6 1.6-1.6 1.6-1.6-1.6zM693.49 68.27l1.6 1.6-1.6 1.6-1.6-1.6zM658.05 66.88l1.6 1.6-1.6 1.6-1.6-1.6zM660.7 79.27l1.6 1.6-1.6 1.6-1.6-1.6zM653.81 68.85l1.6 1.6-1.6 1.6-1.6-1.6zM637.15 66.93l1.6 1.6-1.6 1.6-1.6-1.6zM686.5 68.72l1.6 1.6-1.6 1.6-1.6-1.6zM643.16 71.98l1.6 1.6-1.6 1.6-1.6-1.6zM684.32 68.03l1.6 1.6-1.6 1.6-1.6-1.6zM668.51 59.33l1.6 1.6-1.6 1.6-1.6-1.6zM688.72 66.7l1.6 1.6-1.6 1.6-1.6-1.6zM677.98 49.97l1.6 1.6-1.6 1.6-1.6-1.6zM664.13 54.56l1.6 1.6-1.6 1.6-1.6-1.6zM679.17 68.61l1.6 1.6-1.6 1.6-1.6-1.6zM693.22 61.2l1.6 1.6-1.6 1.6-1.6-1.6zM696.38 54.96l1.6 1.6-1.6 1.6-1.6-1.6zM663.52 65.63l1.6 1.6-1.6 1.6-1.6-1.6zM643.73 65.19l1.6 1.6-1.6 1.6-1.6-1.6zM674.91 50.89l1.6 1.6-1.6 1.6-1.6-1.6zM662.02 62.05l1.6 1.6-1.6 1.6-1.6-1.6zM676.25 78.32l1.6 1.6-1.6 1.6-1.6-1.6zM645.92 62.29l1.6 1.6-1.6 1.6-1.6-1.6zM696.1 51.2l1.6 1.6-1.6 1.6-1.6-1.6zM701.02 55.23l1.6 1.6-1.6 1.6-1.6-1.6zM677.8 59.64l1.6 1.6-1.6 1.6-1.6-1.6zM708.67 55.09l1.6 1.6-1.6 1.6-1.6-1.6zM684.59 65.19l1.6 1.6-1.6 1.6-1.6-1.6zM645.12 63.26l1.6 1.6-1.6 1.6-1.6-1.6zM675.62 55.54l1.6 1.6-1.6 1.6-1.6-1.6zM652.89 73.09l1.6 1.6-1.6 1.6-1.6-1.6zM705.63 64.3l1.6 1.6-1.6 1.6-1.6-1.6zM701.5 42.53l1.6 1.6-1.6 1.6-1.6-1.6zM694.28 66.53l1.6 1.6-1.6 1.6-1.6-1.6zM672.61 75.9l1.6 1.6-1.6 1.6-1.6-1.6zM687.39 60.73l1.6 1.6-1.6 1.6-1.6-1.6zM714.07 56.32l1.6 1.6-1.6 1.6-1.6-1.6zM640.14 65.46l1.6 1.6-1.6 1.6-1.6-1.6zM696.38 46.78l1.6 1.6-1.6 1.6-1.6-1.6zM665.65 61.3l1.6 1.6-1.6 1.6-1.6-1.6zM711.6 72.15l1.6 1.6-1.6 1.6-1.6-1.6zM694.59 56.35l1.6 1.6-1.6 1.6-1.6-1.6zM683.34 72.93l1.6 1.6-1.6 1.6-1.6-1.6zM707.87 53.56l1.6 1.6-1.6 1.6-1.6-1.6zM693.86 68.13l1.6 1.6-1.6 1.6-1.6-1.6zM705.57 57.56l1.6 1.6-1.6 1.6-1.6-1.6zM646.17 60.44l1.6 1.6-1.6 1.6-1.6-1.6zM666.99 57.98l1.6 1.6-1.6 1.6-1.6-1.6zM681.96 48.57l1.6 1.6-1.6 1.6-1.6-1.6zM674.49 63.22l1.6 1.6-1.6 1.6-1.6-1.6zM650.52 58.25l1.6 1.6-1.6 1.6-1.6-1.6zM655 73.79l1.6 1.6-1.6 1.6-1.6-1.6zM706.21 48.64l1.6 1.6-1.6 1.6-1.6-1.6zM676.15 51.77l1.6 1.6-1.6 1.6-1.6-1.6zM645.98 62.42l1.6 1.6-1.6 1.6-1.6-1.6zM698.54 48.49l1.6 1.6-1.6 1.6-1.6-1.6zM658.9 69.93l1.6 1.6-1.6 1.6-1.6-1.6zM666.33 65.43l1.6 1.6-1.6 1.6-1.6-1.6zM695.15 58.92l1.6 1.6-1.6 1.6-1.6-1.6zM683.84 68.03l1.6 1.6-1.6 1.6-1.6-1.6zM657.77 71.83l1.6 1.6-1.6 1.6-1.6-1.6zM642.56 68.67l1.6 1.6-1.6 1.6-1.6-1.6zM705.82 55.38l1.6 1.6-1.6 1.6-1.6-1.6zM669.23 81.29l1.6 1.6-1.6 1.6-1.6-1.6zM652.4 62.35l1.6 1.6-1.6 1.6-1.6-1.6zM682.83 56.6l1.6 1.6-1.6 1.6-1.6-1.6zM669.45 62.57l1.6 1.6-1.6 1.6-1.6-1.6zM632.99 62.6l1.6 1.6-1.6 1.6-1.6-1.6zM682.01 52l1.6 1.6-1.6 1.6-1.6-1.6zM668.57 66.28l1.6 1.6-1.6 1.6-1.6-1.6zM653.36 65.75l1.6 1.6-1.6 1.6-1.6-1.6zM636.12 63.37l1.6 1.6-1.6 1.6-1.6-1.6zM680.61 57.55l1.6 1.6-1.6 1.6-1.6-1.6zM674.01 61.04l1.6 1.6-1.6 1.6-1.6-1.6zM641.79 62.9l1.6 1.6-1.6 1.6-1.6-1.6zM669.32 65.12l1.6 1.6-1.6 1.6-1.6-1.6zM695.18 54.13l1.6 1.6-1.6 1.6-1.6-1.6zM636.53 55.41l1.6 1.6-1.6 1.6-1.6-1.6zM678.39 52.26l1.6 1.6-1.6 1.6-1.6-1.6zM686.17 57.54l1.6 1.6-1.6 1.6-1.6-1.6zM661.09 59.27l1.6 1.6-1.6 1.6-1.6-1.6zM676.25 63.16l1.6 1.6-1.6 1.6-1.6-1.6zM664.8 71.93l1.6 1.6-1.6 1.6-1.6-1.6zM668.3 75.7l1.6 1.6-1.6 1.6-1.6-1.6zM692.14 54.8l1.6 1.6-1.6 1.6-1.6-1.6zM675.92 65.48l1.6 1.6-1.6 1.6-1.6-1.6zM645.79 59.7l1.6 1.6-1.6 1.6-1.6-1.6zM681.44 64.4l1.6 1.6-1.6 1.6-1.6-1.6zM639.08 66.01l1.6 1.6-1.6 1.6-1.6-1.6zM678.73 73.37l1.6 1.6-1.6 1.6-1.6-1.6zM684.07 58.33l1.6 1.6-1.6 1.6-1.6-1.6zM684.43 64.37l1.6 1.6-1.6 1.6-1.6-1.6zM626.83 63.84l1.6 1.6-1.6 1.6-1.6-1.6zM648.01 58.19l1.6 1.6-1.6 1.6-1.6-1.6zM707.48 58.97l1.6 1.6-1.6 1.6-1.6-1.6zM710.15 60.16l1.6 1.6-1.6 1.6-1.6-1.6zM678.86 57.14l1.6 1.6-1.6 1.6-1.6-1.6zM633.86 62.19l1.6 1.6-1.6 1.6-1.6-1.6zM652.96 71.08l1.6 1.6-1.6 1.6-1.6-1.6zM697.13 64.9l1.6 1.6-1.6 1.6-1.6-1.6zM688.93 61.94l1.6 1.6-1.6 1.6-1.6-1.6zM670.05 61.4l1.6 1.6-1.6 1.6-1.6-1.6zM650.47 61.18l1.6 1.6-1.6 1.6-1.6-1.6zM695.38 65.4l1.6 1.6-1.6 1.6-1.6-1.6zM696.16 56.03l1.6 1.6-1.6 1.6-1.6-1.6zM637.17 63.66l1.6 1.6-1.6 1.6-1.6-1.6zM685.43 72.56l1.6 1.6-1.6 1.6-1.6-1.6zM698.66 49.36l1.6 1.6-1.6 1.6-1.6-1.6zM717.6 44.64l1.6 1.6-1.6 1.6-1.6-1.6zM644.14 65.87l1.6 1.6-1.6 1.6-1.6-1.6zM677.54 62.06l1.6 1.6-1.6 1.6-1.6-1.6zM704.3 53.35l1.6 1.6-1.6 1.6-1.6-1.6zM672.9 70.3l1.6 1.6-1.6 1.6-1.6-1.6zM657.82 59.47l1.6 1.6-1.6 1.6-1.6-1.6zM693.04 65.63l1.6 1.6-1.6 1.6-1.6-1.6zM672.04 69.8l1.6 1.6-1.6 1.6-1.6-1.6zM676.75 63.04l1.6 1.6-1.6 1.6-1.6-1.6zM647.2 59.9l1.6 1.6-1.6 1.6-1.6-1.6zM663.25 60.54l1.6 1.6-1.6 1.6-1.6-1.6zM686.3 52.62l1.6 1.6-1.6 1.6-1.6-1.6zM683.55 74.49l1.6 1.6-1.6 1.6-1.6-1.6zM602.5 63.9l1.6 1.6-1.6 1.6-1.6-1.6zM604.25 65.15l1.6 1.6-1.6 1.6-1.6-1.6zM608.75 58.4l1.6 1.6-1.6 1.6-1.6-1.6zM613.75 59.15l1.6 1.6-1.6 1.6-1.6-1.6zM617.5 61.65l1.6 1.6-1.6 1.6-1.6-1.6zM620 63.9l1.6 1.6-1.6 1.6-1.6-1.6zM625 57.65l1.6 1.6-1.6 1.6-1.6-1.6zM627.5 53.9l1.6 1.6-1.6 1.6-1.6-1.6zM721.5 38.4l1.6 1.6-1.6 1.6-1.6-1.6zM683.75 40.9l1.6 1.6-1.6 1.6-1.6-1.6zM686.75 39.65l1.6 1.6-1.6 1.6-1.6-1.6zM690 41.65l1.6 1.6-1.6 1.6-1.6-1.6zM695 40.9l1.6 1.6-1.6 1.6-1.6-1.6zM700 41.9l1.6 1.6-1.6 1.6-1.6-1.6zM655.5 45.4l1.6 1.6-1.6 1.6-1.6-1.6zM667.5 45.9l1.6 1.6-1.6 1.6-1.6-1.6zM679.25 45.15l1.6 1.6-1.6 1.6-1.6-1.6zM706.25 43.4l1.6 1.6-1.6 1.6-1.6-1.6zM710 42.9l1.6 1.6-1.6 1.6-1.6-1.6zM713.75 43.9l1.6 1.6-1.6 1.6-1.6-1.6zM716.25 43.4l1.6 1.6-1.6 1.6-1.6-1.6zM726.25 51.4l1.6 1.6-1.6 1.6-1.6-1.6zM728.75 52.9l1.6 1.6-1.6 1.6-1.6-1.6zM755.5 50.4l1.6 1.6-1.6 1.6-1.6-1.6zM742.5 60.9l1.6 1.6-1.6 1.6-1.6-1.6zM737 62.65l1.6 1.6-1.6 1.6-1.6-1.6zM730.5 66.4l1.6 1.6-1.6 1.6-1.6-1.6zM682.5 81.15l1.6 1.6-1.6 1.6-1.6-1.6zM679.25 79.4l1.6 1.6-1.6 1.6-1.6-1.6zM701.25 81.15l1.6 1.6-1.6 1.6-1.6-1.6zM721.25 79.9l1.6 1.6-1.6 1.6-1.6-1.6zM724.25 79.4l1.6 1.6-1.6 1.6-1.6-1.6zM722.5 85.15l1.6 1.6-1.6 1.6-1.6-1.6zM720.25 100.4l1.6 1.6-1.6 1.6-1.6-1.6zM733 79.9l1.6 1.6-1.6 1.6-1.6-1.6zM727 74.4l1.6 1.6-1.6 1.6-1.6-1.6zM740 73.65l1.6 1.6-1.6 1.6-1.6-1.6zM730 69.9l1.6 1.6-1.6 1.6-1.6-1.6zM655 76.15l1.6 1.6-1.6 1.6-1.6-1.6z"/>
<line class="dash" stroke-width="0.5" x1="596.6" y1="63.5" x2="755.9" y2="63.5"/>
<path class="ax" d="M593.4 2.3V123.4"/>
<path class="ax" d="M593.4 123.4H758.4"/>
<path class="ax" d="M593.4 120.4h-2.2M593.4 106.1h-2.2M593.4 91.8h-2.2M593.4 77.5h-2.2M593.4 63.2h-2.2M593.4 48.9h-2.2M593.4 34.6h-2.2M593.4 20.3h-2.2M593.4 6h-2.2M596.6 123.4v2.2M627.82 123.4v2.2M659.04 123.4v2.2M690.26 123.4v2.2M721.48 123.4v2.2M752.7 123.4v2.2"/>
<text class="tl" transform="translate(588.8 120.4) rotate(-90)">-80</text>
<text class="tl" transform="translate(588.8 106.1) rotate(-90)">-60</text>
<text class="tl" transform="translate(588.8 91.8) rotate(-90)">-40</text>
<text class="tl" transform="translate(588.8 77.5) rotate(-90)">-20</text>
<text class="tl" transform="translate(588.8 63.2) rotate(-90)">0</text>
<text class="tl" transform="translate(588.8 48.9) rotate(-90)">20</text>
<text class="tl" transform="translate(588.8 34.6) rotate(-90)">40</text>
<text class="tl" transform="translate(588.8 20.3) rotate(-90)">60</text>
<text class="tl" transform="translate(588.8 6) rotate(-90)">80</text>
<text class="tl" x="596.6" y="131.45">10</text>
<text class="tl" x="627.82" y="131.45">30</text>
<text class="tl" x="659.04" y="131.45">50</text>
<text class="tl" x="690.26" y="131.45">70</text>
<text class="tl" x="721.48" y="131.45">90</text>
<text class="tl" x="752.7" y="131.45">110</text>
<text class="tt" transform="translate(583.5 63.25) rotate(-90)">Difference FAS(Crea/Cys)-mGFR</text>
<text class="tt" x="675.8" y="136.1">Average of FAS(Crea/Cys) and mGFR</text>
</g>
<g id="panel5">
<path class="grid" d="M18.65 158.56H183.9M18.65 171.92H183.9M18.65 225.36H183.9M18.65 238.72H183.9M18.65 252.08H183.9"/>
<rect class="band" x="22.2" y="177.2" width="159" height="34.8"/>
<path class="pts" d="M93.99 197.06l1.6 1.6-1.6 1.6-1.6-1.6zM116.27 202.97l1.6 1.6-1.6 1.6-1.6-1.6zM101.1 189.54l1.6 1.6-1.6 1.6-1.6-1.6zM127.4 187.3l1.6 1.6-1.6 1.6-1.6-1.6zM127.14 193.98l1.6 1.6-1.6 1.6-1.6-1.6zM62.24 199.66l1.6 1.6-1.6 1.6-1.6-1.6zM123.98 196.56l1.6 1.6-1.6 1.6-1.6-1.6zM131.56 181.72l1.6 1.6-1.6 1.6-1.6-1.6zM108.6 207.4l1.6 1.6-1.6 1.6-1.6-1.6zM71.21 190.72l1.6 1.6-1.6 1.6-1.6-1.6zM136.12 178.27l1.6 1.6-1.6 1.6-1.6-1.6zM125.64 188.93l1.6 1.6-1.6 1.6-1.6-1.6zM108.95 186.56l1.6 1.6-1.6 1.6-1.6-1.6zM80.86 187.59l1.6 1.6-1.6 1.6-1.6-1.6zM75.02 196.27l1.6 1.6-1.6 1.6-1.6-1.6zM94.6 195.93l1.6 1.6-1.6 1.6-1.6-1.6zM62.32 205.28l1.6 1.6-1.6 1.6-1.6-1.6zM126.23 199.04l1.6 1.6-1.6 1.6-1.6-1.6zM119.96 183.45l1.6 1.6-1.6 1.6-1.6-1.6zM106.81 201.06l1.6 1.6-1.6 1.6-1.6-1.6zM131.41 188l1.6 1.6-1.6 1.6-1.6-1.6zM94.85 195.89l1.6 1.6-1.6 1.6-1.6-1.6zM118.43 192.63l1.6 1.6-1.6 1.6-1.6-1.6zM104.98 200.45l1.6 1.6-1.6 1.6-1.6-1.6zM125.33 193.51l1.6 1.6-1.6 1.6-1.6-1.6zM113.15 192.12l1.6 1.6-1.6 1.6-1.6-1.6zM110.14 182.45l1.6 1.6-1.6 1.6-1.6-1.6zM122.85 197.08l1.6 1.6-1.6 1.6-1.6-1.6zM140.65 178.37l1.6 1.6-1.6 1.6-1.6-1.6zM115.87 195.79l1.6 1.6-1.6 1.6-1.6-1.6zM104.25 196.74l1.6 1.6-1.6 1.6-1.6-1.6zM97.42 199.98l1.6 1.6-1.6 1.6-1.6-1.6zM107.22 199.98l1.6 1.6-1.6 1.6-1.6-1.6zM62.71 198.89l1.6 1.6-1.6 1.6-1.6-1.6zM124.9 195.79l1.6 1.6-1.6 1.6-1.6-1.6zM93.58 178.83l1.6 1.6-1.6 1.6-1.6-1.6zM91.13 201.76l1.6 1.6-1.6 1.6-1.6-1.6zM128.46 197.32l1.6 1.6-1.6 1.6-1.6-1.6zM113.5 196.86l1.6 1.6-1.6 1.6-1.6-1.6zM108.27 201.57l1.6 1.6-1.6 1.6-1.6-1.6zM124.87 183.19l1.6 1.6-1.6 1.6-1.6-1.6zM91.45 195.68l1.6 1.6-1.6 1.6-1.6-1.6zM54.55 199.87l1.6 1.6-1.6 1.6-1.6-1.6zM128.24 182.12l1.6 1.6-1.6 1.6-1.6-1.6zM134.49 192.05l1.6 1.6-1.6 1.6-1.6-1.6zM74.6 197.13l1.6 1.6-1.6 1.6-1.6-1.6zM104.32 176.25l1.6 1.6-1.6 1.6-1.6-1.6zM123.87 194.22l1.6 1.6-1.6 1.6-1.6-1.6zM124.99 194.26l1.6 1.6-1.6 1.6-1.6-1.6zM135.76 183.28l1.6 1.6-1.6 1.6-1.6-1.6zM81.25 192.87l1.6 1.6-1.6 1.6-1.6-1.6zM113.09 181.11l1.6 1.6-1.6 1.6-1.6-1.6zM126.97 188.63l1.6 1.6-1.6 1.6-1.6-1.6zM109.33 196.66l1.6 1.6-1.6 1.6-1.6-1.6zM113.53 197.15l1.6 1.6-1.6 1.6-1.6-1.6zM113.72 188.56l1.6 1.6-1.6 1.6-1.6-1.6zM112.85 188.11l1.6 1.6-1.6 1.6-1.6-1.6zM116.77 181.66l1.6 1.6-1.6 1.6-1.6-1.6zM122.47 194.7l1.6 1.6-1.6 1.6-1.6-1.6zM101.01 193.54l1.6 1.6-1.6 1.6-1.6-1.6zM104.79 187.62l1.6 1.6-1.6 1.6-1.6-1.6zM96.94 199.08l1.6 1.6-1.6 1.6-1.6-1.6zM114.94 194.97l1.6 1.6-1.6 1.6-1.6-1.6zM95.37 211.58l1.6 1.6-1.6 1.6-1.6-1.6zM83.93 199.46l1.6 1.6-1.6 1.6-1.6-1.6zM82.39 206.66l1.6 1.6-1.6 1.6-1.6-1.6zM77.97 191.27l1.6 1.6-1.6 1.6-1.6-1.6zM132.83 197.67l1.6 1.6-1.6 1.6-1.6-1.6zM76.27 188.56l1.6 1.6-1.6 1.6-1.6-1.6zM122.39 200.94l1.6 1.6-1.6 1.6-1.6-1.6zM76.46 205.75l1.6 1.6-1.6 1.6-1.6-1.6zM91.67 203.59l1.6 1.6-1.6 1.6-1.6-1.6zM81.35 209.2l1.6 1.6-1.6 1.6-1.6-1.6zM137.6 191.32l1.6 1.6-1.6 1.6-1.6-1.6zM111.75 203.18l1.6 1.6-1.6 1.6-1.6-1.6zM92.55 201.42l1.6 1.6-1.6 1.6-1.6-1.6zM111.51 191.17l1.6 1.6-1.6 1.6-1.6-1.6zM98.71 193.37l1.6 1.6-1.6 1.6-1.6-1.6zM128.64 190.64l1.6 1.6-1.6 1.6-1.6-1.6zM121.26 186.11l1.6 1.6-1.6 1.6-1.6-1.6zM104.46 181.32l1.6 1.6-1.6 1.6-1.6-1.6zM102.85 190.32l1.6 1.6-1.6 1.6-1.6-1.6zM106.45 186.25l1.6 1.6-1.6 1.6-1.6-1.6zM86.73 207.48l1.6 1.6-1.6 1.6-1.6-1.6zM137.32 189.39l1.6 1.6-1.6 1.6-1.6-1.6zM132.28 191.96l1.6 1.6-1.6 1.6-1.6-1.6zM142.16 188.76l1.6 1.6-1.6 1.6-1.6-1.6zM138.53 190.33l1.6 1.6-1.6 1.6-1.6-1.6zM145.19 179.78l1.6 1.6-1.6 1.6-1.6-1.6zM72.64 203.03l1.6 1.6-1.6 1.6-1.6-1.6zM121.97 191.12l1.6 1.6-1.6 1.6-1.6-1.6zM92.27 196.44l1.6 1.6-1.6 1.6-1.6-1.6zM135.8 187.66l1.6 1.6-1.6 1.6-1.6-1.6zM129.45 192.42l1.6 1.6-1.6 1.6-1.6-1.6zM116.81 198.77l1.6 1.6-1.6 1.6-1.6-1.6zM107.4 194.16l1.6 1.6-1.6 1.6-1.6-1.6zM117.32 192.17l1.6 1.6-1.6 1.6-1.6-1.6zM88.09 206.9l1.6 1.6-1.6 1.6-1.6-1.6zM141.47 191.54l1.6 1.6-1.6 1.6-1.6-1.6zM83.57 199.42l1.6 1.6-1.6 1.6-1.6-1.6zM122.38 201.24l1.6 1.6-1.6 1.6-1.6-1.6zM143.99 187.32l1.6 1.6-1.6 1.6-1.6-1.6zM87.22 203.66l1.6 1.6-1.6 1.6-1.6-1.6zM127.99 188.12l1.6 1.6-1.6 1.6-1.6-1.6zM124.4 189.97l1.6 1.6-1.6 1.6-1.6-1.6zM119.62 175.06l1.6 1.6-1.6 1.6-1.6-1.6zM132.61 184.34l1.6 1.6-1.6 1.6-1.6-1.6zM142.22 181.86l1.6 1.6-1.6 1.6-1.6-1.6zM130.06 195.12l1.6 1.6-1.6 1.6-1.6-1.6zM122.24 192.08l1.6 1.6-1.6 1.6-1.6-1.6zM79.69 188.34l1.6 1.6-1.6 1.6-1.6-1.6zM83.67 201.57l1.6 1.6-1.6 1.6-1.6-1.6zM135.12 188.66l1.6 1.6-1.6 1.6-1.6-1.6zM85.41 189.37l1.6 1.6-1.6 1.6-1.6-1.6zM125.89 193.74l1.6 1.6-1.6 1.6-1.6-1.6zM115.14 188.42l1.6 1.6-1.6 1.6-1.6-1.6zM100.64 196.94l1.6 1.6-1.6 1.6-1.6-1.6zM123.62 191.09l1.6 1.6-1.6 1.6-1.6-1.6zM131.47 193.36l1.6 1.6-1.6 1.6-1.6-1.6zM109.61 191.39l1.6 1.6-1.6 1.6-1.6-1.6zM118.32 187.93l1.6 1.6-1.6 1.6-1.6-1.6zM132.21 182.59l1.6 1.6-1.6 1.6-1.6-1.6zM93.48 191.24l1.6 1.6-1.6 1.6-1.6-1.6zM84.09 200.34l1.6 1.6-1.6 1.6-1.6-1.6zM114 204.76l1.6 1.6-1.6 1.6-1.6-1.6zM121.47 189.1l1.6 1.6-1.6 1.6-1.6-1.6zM102.4 194.55l1.6 1.6-1.6 1.6-1.6-1.6zM117.59 196.47l1.6 1.6-1.6 1.6-1.6-1.6zM76.19 206.34l1.6 1.6-1.6 1.6-1.6-1.6zM62.94 199.17l1.6 1.6-1.6 1.6-1.6-1.6zM84.51 204.22l1.6 1.6-1.6 1.6-1.6-1.6zM129.59 189.3l1.6 1.6-1.6 1.6-1.6-1.6zM105.22 191.89l1.6 1.6-1.6 1.6-1.6-1.6zM115.74 193.66l1.6 1.6-1.6 1.6-1.6-1.6zM135.36 189.29l1.6 1.6-1.6 1.6-1.6-1.6zM100.35 210.31l1.6 1.6-1.6 1.6-1.6-1.6zM93.8 207.22l1.6 1.6-1.6 1.6-1.6-1.6zM88.14 190.37l1.6 1.6-1.6 1.6-1.6-1.6zM112.95 189.26l1.6 1.6-1.6 1.6-1.6-1.6zM106.85 189.9l1.6 1.6-1.6 1.6-1.6-1.6zM102.63 188.13l1.6 1.6-1.6 1.6-1.6-1.6zM108.51 189.76l1.6 1.6-1.6 1.6-1.6-1.6zM113.73 190.87l1.6 1.6-1.6 1.6-1.6-1.6zM108.79 203.11l1.6 1.6-1.6 1.6-1.6-1.6zM100.51 187.4l1.6 1.6-1.6 1.6-1.6-1.6zM87.22 194.86l1.6 1.6-1.6 1.6-1.6-1.6zM118.59 193.36l1.6 1.6-1.6 1.6-1.6-1.6zM89.73 200.15l1.6 1.6-1.6 1.6-1.6-1.6zM99.24 197.75l1.6 1.6-1.6 1.6-1.6-1.6zM126.69 201.12l1.6 1.6-1.6 1.6-1.6-1.6zM70.09 203.67l1.6 1.6-1.6 1.6-1.6-1.6zM143.04 186.8l1.6 1.6-1.6 1.6-1.6-1.6zM107.14 191.01l1.6 1.6-1.6 1.6-1.6-1.6zM87.4 204.1l1.6 1.6-1.6 1.6-1.6-1.6zM100.46 189.97l1.6 1.6-1.6 1.6-1.6-1.6zM134.38 181.26l1.6 1.6-1.6 1.6-1.6-1.6zM112.77 203.02l1.6 1.6-1.6 1.6-1.6-1.6zM99.22 194.65l1.6 1.6-1.6 1.6-1.6-1.6zM112.5 195.58l1.6 1.6-1.6 1.6-1.6-1.6zM93.8 206.41l1.6 1.6-1.6 1.6-1.6-1.6zM128.42 195.81l1.6 1.6-1.6 1.6-1.6-1.6zM126.78 178.92l1.6 1.6-1.6 1.6-1.6-1.6zM141.88 206.02l1.6 1.6-1.6 1.6-1.6-1.6zM98.94 203.06l1.6 1.6-1.6 1.6-1.6-1.6zM117.1 191.97l1.6 1.6-1.6 1.6-1.6-1.6zM138.58 197.35l1.6 1.6-1.6 1.6-1.6-1.6zM103.25 192.13l1.6 1.6-1.6 1.6-1.6-1.6zM120.83 203.48l1.6 1.6-1.6 1.6-1.6-1.6zM121.09 194.92l1.6 1.6-1.6 1.6-1.6-1.6zM128 189.9l1.6 1.6-1.6 1.6-1.6-1.6zM105.56 198.22l1.6 1.6-1.6 1.6-1.6-1.6zM99.05 190.41l1.6 1.6-1.6 1.6-1.6-1.6zM112.58 192.48l1.6 1.6-1.6 1.6-1.6-1.6zM126.99 198.45l1.6 1.6-1.6 1.6-1.6-1.6zM118.69 186.05l1.6 1.6-1.6 1.6-1.6-1.6zM119.83 187.4l1.6 1.6-1.6 1.6-1.6-1.6zM74.52 194.93l1.6 1.6-1.6 1.6-1.6-1.6zM131.69 186.67l1.6 1.6-1.6 1.6-1.6-1.6zM108.59 191.49l1.6 1.6-1.6 1.6-1.6-1.6zM125.38 196l1.6 1.6-1.6 1.6-1.6-1.6zM97.75 189.93l1.6 1.6-1.6 1.6-1.6-1.6zM102.73 181.65l1.6 1.6-1.6 1.6-1.6-1.6zM104.54 199.81l1.6 1.6-1.6 1.6-1.6-1.6zM91.57 205.85l1.6 1.6-1.6 1.6-1.6-1.6zM132.15 177.86l1.6 1.6-1.6 1.6-1.6-1.6zM91.06 193.26l1.6 1.6-1.6 1.6-1.6-1.6zM101.21 198.34l1.6 1.6-1.6 1.6-1.6-1.6zM122.6 183.67l1.6 1.6-1.6 1.6-1.6-1.6zM140.8 197.43l1.6 1.6-1.6 1.6-1.6-1.6zM106.99 193.89l1.6 1.6-1.6 1.6-1.6-1.6zM120.13 198.01l1.6 1.6-1.6 1.6-1.6-1.6zM109.55 210.58l1.6 1.6-1.6 1.6-1.6-1.6zM138.02 207.84l1.6 1.6-1.6 1.6-1.6-1.6zM142.24 191.93l1.6 1.6-1.6 1.6-1.6-1.6zM130.39 185.03l1.6 1.6-1.6 1.6-1.6-1.6zM81.62 198.92l1.6 1.6-1.6 1.6-1.6-1.6zM76.45 191.49l1.6 1.6-1.6 1.6-1.6-1.6zM114.43 182.97l1.6 1.6-1.6 1.6-1.6-1.6zM110.77 188.75l1.6 1.6-1.6 1.6-1.6-1.6zM98.07 193.25l1.6 1.6-1.6 1.6-1.6-1.6zM118.89 194.58l1.6 1.6-1.6 1.6-1.6-1.6zM108.21 199.09l1.6 1.6-1.6 1.6-1.6-1.6zM110.43 195.03l1.6 1.6-1.6 1.6-1.6-1.6zM113.02 194.86l1.6 1.6-1.6 1.6-1.6-1.6zM96.65 201.92l1.6 1.6-1.6 1.6-1.6-1.6zM127.45 196.31l1.6 1.6-1.6 1.6-1.6-1.6zM100.36 212.85l1.6 1.6-1.6 1.6-1.6-1.6zM119.22 191.33l1.6 1.6-1.6 1.6-1.6-1.6zM75.83 193.87l1.6 1.6-1.6 1.6-1.6-1.6zM120.25 195.05l1.6 1.6-1.6 1.6-1.6-1.6zM99.87 189.51l1.6 1.6-1.6 1.6-1.6-1.6zM101.76 182.21l1.6 1.6-1.6 1.6-1.6-1.6zM89.11 189.69l1.6 1.6-1.6 1.6-1.6-1.6zM109.52 188.24l1.6 1.6-1.6 1.6-1.6-1.6zM136.12 193.97l1.6 1.6-1.6 1.6-1.6-1.6zM117.42 191.98l1.6 1.6-1.6 1.6-1.6-1.6zM117.16 179.31l1.6 1.6-1.6 1.6-1.6-1.6zM88.73 193.37l1.6 1.6-1.6 1.6-1.6-1.6zM101.5 194.68l1.6 1.6-1.6 1.6-1.6-1.6zM115.47 203.55l1.6 1.6-1.6 1.6-1.6-1.6zM131.09 196.16l1.6 1.6-1.6 1.6-1.6-1.6zM129.17 184.01l1.6 1.6-1.6 1.6-1.6-1.6zM133.38 194.9l1.6 1.6-1.6 1.6-1.6-1.6zM121.44 185.69l1.6 1.6-1.6 1.6-1.6-1.6zM106.19 196.41l1.6 1.6-1.6 1.6-1.6-1.6zM129.59 197.87l1.6 1.6-1.6 1.6-1.6-1.6zM126.17 195.08l1.6 1.6-1.6 1.6-1.6-1.6zM113.15 190.88l1.6 1.6-1.6 1.6-1.6-1.6zM126.55 197.5l1.6 1.6-1.6 1.6-1.6-1.6zM124.58 176.95l1.6 1.6-1.6 1.6-1.6-1.6zM105.78 200.36l1.6 1.6-1.6 1.6-1.6-1.6zM105.15 202.4l1.6 1.6-1.6 1.6-1.6-1.6zM115.27 202.29l1.6 1.6-1.6 1.6-1.6-1.6zM138.5 189.09l1.6 1.6-1.6 1.6-1.6-1.6zM99.98 186.92l1.6 1.6-1.6 1.6-1.6-1.6zM128.48 192.77l1.6 1.6-1.6 1.6-1.6-1.6zM123.73 187.29l1.6 1.6-1.6 1.6-1.6-1.6zM110.72 204.93l1.6 1.6-1.6 1.6-1.6-1.6zM127.93 180.37l1.6 1.6-1.6 1.6-1.6-1.6zM79.73 193.15l1.6 1.6-1.6 1.6-1.6-1.6zM109.21 195.18l1.6 1.6-1.6 1.6-1.6-1.6zM131.31 196.15l1.6 1.6-1.6 1.6-1.6-1.6zM144.88 191.84l1.6 1.6-1.6 1.6-1.6-1.6zM81.42 196.12l1.6 1.6-1.6 1.6-1.6-1.6zM104.23 200.62l1.6 1.6-1.6 1.6-1.6-1.6zM104.42 179.09l1.6 1.6-1.6 1.6-1.6-1.6zM102.07 204.68l1.6 1.6-1.6 1.6-1.6-1.6zM76.16 198.24l1.6 1.6-1.6 1.6-1.6-1.6zM105.59 200.1l1.6 1.6-1.6 1.6-1.6-1.6zM119.61 190.62l1.6 1.6-1.6 1.6-1.6-1.6zM93.32 187.88l1.6 1.6-1.6 1.6-1.6-1.6zM86.97 194.46l1.6 1.6-1.6 1.6-1.6-1.6zM91.24 205.14l1.6 1.6-1.6 1.6-1.6-1.6zM130.53 185.92l1.6 1.6-1.6 1.6-1.6-1.6zM94.7 197.14l1.6 1.6-1.6 1.6-1.6-1.6zM105.01 194.68l1.6 1.6-1.6 1.6-1.6-1.6zM121.23 199.13l1.6 1.6-1.6 1.6-1.6-1.6zM80.64 195.55l1.6 1.6-1.6 1.6-1.6-1.6zM93.5 194.31l1.6 1.6-1.6 1.6-1.6-1.6zM92.24 203.17l1.6 1.6-1.6 1.6-1.6-1.6zM122.18 188.58l1.6 1.6-1.6 1.6-1.6-1.6zM107.17 190.11l1.6 1.6-1.6 1.6-1.6-1.6zM87 196.9l1.6 1.6-1.6 1.6-1.6-1.6zM118.14 180.47l1.6 1.6-1.6 1.6-1.6-1.6zM84.2 200.53l1.6 1.6-1.6 1.6-1.6-1.6zM92.94 188.68l1.6 1.6-1.6 1.6-1.6-1.6zM67.19 199.93l1.6 1.6-1.6 1.6-1.6-1.6zM116.19 201.7l1.6 1.6-1.6 1.6-1.6-1.6zM101.4 188.2l1.6 1.6-1.6 1.6-1.6-1.6zM95.58 183.44l1.6 1.6-1.6 1.6-1.6-1.6zM127.52 199.45l1.6 1.6-1.6 1.6-1.6-1.6zM137.44 187.92l1.6 1.6-1.6 1.6-1.6-1.6zM90.04 201.07l1.6 1.6-1.6 1.6-1.6-1.6zM106.36 202.01l1.6 1.6-1.6 1.6-1.6-1.6zM95.21 181.93l1.6 1.6-1.6 1.6-1.6-1.6zM105.82 205.81l1.6 1.6-1.6 1.6-1.6-1.6zM86.34 199.09l1.6 1.6-1.6 1.6-1.6-1.6zM118.46 173.55l1.6 1.6-1.6 1.6-1.6-1.6zM115.57 197.09l1.6 1.6-1.6 1.6-1.6-1.6zM136.35 203.09l1.6 1.6-1.6 1.6-1.6-1.6zM106 197.93l1.6 1.6-1.6 1.6-1.6-1.6zM117.47 210.92l1.6 1.6-1.6 1.6-1.6-1.6zM111.91 198.11l1.6 1.6-1.6 1.6-1.6-1.6zM98.7 199.54l1.6 1.6-1.6 1.6-1.6-1.6zM123.31 185.55l1.6 1.6-1.6 1.6-1.6-1.6zM100.48 196.42l1.6 1.6-1.6 1.6-1.6-1.6zM75.61 192.95l1.6 1.6-1.6 1.6-1.6-1.6zM76.93 188.67l1.6 1.6-1.6 1.6-1.6-1.6zM117.97 190.15l1.6 1.6-1.6 1.6-1.6-1.6zM104.49 193.43l1.6 1.6-1.6 1.6-1.6-1.6zM113.64 188.56l1.6 1.6-1.6 1.6-1.6-1.6zM131.67 184.5l1.6 1.6-1.6 1.6-1.6-1.6zM142.6 206.71l1.6 1.6-1.6 1.6-1.6-1.6zM137.54 192.13l1.6 1.6-1.6 1.6-1.6-1.6zM126.66 200.05l1.6 1.6-1.6 1.6-1.6-1.6zM103.86 187.99l1.6 1.6-1.6 1.6-1.6-1.6zM114.96 197.06l1.6 1.6-1.6 1.6-1.6-1.6zM86.35 193.68l1.6 1.6-1.6 1.6-1.6-1.6zM69.84 197.23l1.6 1.6-1.6 1.6-1.6-1.6zM105.88 192.54l1.6 1.6-1.6 1.6-1.6-1.6zM125.89 190.55l1.6 1.6-1.6 1.6-1.6-1.6zM138.16 191.84l1.6 1.6-1.6 1.6-1.6-1.6zM89.53 197.31l1.6 1.6-1.6 1.6-1.6-1.6zM117.03 194.71l1.6 1.6-1.6 1.6-1.6-1.6zM106.81 188.08l1.6 1.6-1.6 1.6-1.6-1.6zM111.25 200.05l1.6 1.6-1.6 1.6-1.6-1.6zM133.13 193.37l1.6 1.6-1.6 1.6-1.6-1.6zM104.73 199l1.6 1.6-1.6 1.6-1.6-1.6zM116.92 201.2l1.6 1.6-1.6 1.6-1.6-1.6zM140.47 185.28l1.6 1.6-1.6 1.6-1.6-1.6zM118.51 186.97l1.6 1.6-1.6 1.6-1.6-1.6zM130.83 200.47l1.6 1.6-1.6 1.6-1.6-1.6zM96.84 208.39l1.6 1.6-1.6 1.6-1.6-1.6zM97.13 198.05l1.6 1.6-1.6 1.6-1.6-1.6zM81.89 210.69l1.6 1.6-1.6 1.6-1.6-1.6zM97.16 200.25l1.6 1.6-1.6 1.6-1.6-1.6zM124.73 181.34l1.6 1.6-1.6 1.6-1.6-1.6zM107.34 197.7l1.6 1.6-1.6 1.6-1.6-1.6zM133.13 188.18l1.6 1.6-1.6 1.6-1.6-1.6zM125.56 201.61l1.6 1.6-1.6 1.6-1.6-1.6zM132.4 183.6l1.6 1.6-1.6 1.6-1.6-1.6zM128.09 186.58l1.6 1.6-1.6 1.6-1.6-1.6zM87.61 187.51l1.6 1.6-1.6 1.6-1.6-1.6zM94.14 186.52l1.6 1.6-1.6 1.6-1.6-1.6zM121.35 184.12l1.6 1.6-1.6 1.6-1.6-1.6zM94 191.6l1.6 1.6-1.6 1.6-1.6-1.6zM137.12 189.81l1.6 1.6-1.6 1.6-1.6-1.6zM87.53 192l1.6 1.6-1.6 1.6-1.6-1.6zM72.31 201.24l1.6 1.6-1.6 1.6-1.6-1.6zM92.45 199.88l1.6 1.6-1.6 1.6-1.6-1.6zM108.18 185.21l1.6 1.6-1.6 1.6-1.6-1.6zM101.74 194.12l1.6 1.6-1.6 1.6-1.6-1.6zM84.32 179.04l1.6 1.6-1.6 1.6-1.6-1.6zM86.13 205.33l1.6 1.6-1.6 1.6-1.6-1.6zM104.92 200.29l1.6 1.6-1.6 1.6-1.6-1.6zM124.25 187.61l1.6 1.6-1.6 1.6-1.6-1.6zM107.56 201.75l1.6 1.6-1.6 1.6-1.6-1.6zM105.94 180.18l1.6 1.6-1.6 1.6-1.6-1.6zM73.8 202.03l1.6 1.6-1.6 1.6-1.6-1.6zM115.14 201.8l1.6 1.6-1.6 1.6-1.6-1.6zM108.03 197l1.6 1.6-1.6 1.6-1.6-1.6zM132.88 194.69l1.6 1.6-1.6 1.6-1.6-1.6zM118.36 207.93l1.6 1.6-1.6 1.6-1.6-1.6zM113.01 194.09l1.6 1.6-1.6 1.6-1.6-1.6zM105.07 190.51l1.6 1.6-1.6 1.6-1.6-1.6zM80.06 205l1.6 1.6-1.6 1.6-1.6-1.6zM77.12 188l1.6 1.6-1.6 1.6-1.6-1.6zM105.11 186.4l1.6 1.6-1.6 1.6-1.6-1.6zM138.48 181.78l1.6 1.6-1.6 1.6-1.6-1.6zM141.2 203.83l1.6 1.6-1.6 1.6-1.6-1.6zM108.96 193.92l1.6 1.6-1.6 1.6-1.6-1.6zM97.05 197.1l1.6 1.6-1.6 1.6-1.6-1.6zM74.22 211.54l1.6 1.6-1.6 1.6-1.6-1.6zM124.25 189.71l1.6 1.6-1.6 1.6-1.6-1.6zM126.88 192.36l1.6 1.6-1.6 1.6-1.6-1.6zM138.12 194.59l1.6 1.6-1.6 1.6-1.6-1.6zM123.86 174.77l1.6 1.6-1.6 1.6-1.6-1.6zM84.01 197.01l1.6 1.6-1.6 1.6-1.6-1.6zM121.65 197.66l1.6 1.6-1.6 1.6-1.6-1.6zM116.98 200.63l1.6 1.6-1.6 1.6-1.6-1.6zM119.58 178.01l1.6 1.6-1.6 1.6-1.6-1.6zM101.92 201.32l1.6 1.6-1.6 1.6-1.6-1.6zM131.84 179.75l1.6 1.6-1.6 1.6-1.6-1.6zM136.01 193.95l1.6 1.6-1.6 1.6-1.6-1.6zM79.3 202.91l1.6 1.6-1.6 1.6-1.6-1.6zM127.25 190.82l1.6 1.6-1.6 1.6-1.6-1.6zM91.04 212.05l1.6 1.6-1.6 1.6-1.6-1.6zM92.41 199.87l1.6 1.6-1.6 1.6-1.6-1.6zM107.27 204.01l1.6 1.6-1.6 1.6-1.6-1.6zM118.48 182.61l1.6 1.6-1.6 1.6-1.6-1.6zM110.96 190.48l1.6 1.6-1.6 1.6-1.6-1.6zM102.93 206.92l1.6 1.6-1.6 1.6-1.6-1.6zM111.9 194.69l1.6 1.6-1.6 1.6-1.6-1.6zM95.06 193.73l1.6 1.6-1.6 1.6-1.6-1.6zM84.79 202.23l1.6 1.6-1.6 1.6-1.6-1.6zM127.4 192.51l1.6 1.6-1.6 1.6-1.6-1.6zM93.34 193.1l1.6 1.6-1.6 1.6-1.6-1.6zM122.26 191.92l1.6 1.6-1.6 1.6-1.6-1.6zM83.2 189.13l1.6 1.6-1.6 1.6-1.6-1.6zM73.37 202.97l1.6 1.6-1.6 1.6-1.6-1.6zM114.79 179.29l1.6 1.6-1.6 1.6-1.6-1.6zM60.72 204.21l1.6 1.6-1.6 1.6-1.6-1.6zM107.14 191.03l1.6 1.6-1.6 1.6-1.6-1.6zM133.57 197.38l1.6 1.6-1.6 1.6-1.6-1.6zM112.62 194.08l1.6 1.6-1.6 1.6-1.6-1.6zM114.48 208.41l1.6 1.6-1.6 1.6-1.6-1.6zM107.2 189.71l1.6 1.6-1.6 1.6-1.6-1.6zM140.46 188.2l1.6 1.6-1.6 1.6-1.6-1.6zM123.46 185.91l1.6 1.6-1.6 1.6-1.6-1.6zM112.67 174.09l1.6 1.6-1.6 1.6-1.6-1.6zM126.48 191.55l1.6 1.6-1.6 1.6-1.6-1.6zM85.81 208.22l1.6 1.6-1.6 1.6-1.6-1.6zM117.72 188.73l1.6 1.6-1.6 1.6-1.6-1.6zM122.81 205.11l1.6 1.6-1.6 1.6-1.6-1.6zM123 190.53l1.6 1.6-1.6 1.6-1.6-1.6zM91.06 202.82l1.6 1.6-1.6 1.6-1.6-1.6zM108.59 198.03l1.6 1.6-1.6 1.6-1.6-1.6zM129.29 197.83l1.6 1.6-1.6 1.6-1.6-1.6zM126.47 193.05l1.6 1.6-1.6 1.6-1.6-1.6zM107.73 194.98l1.6 1.6-1.6 1.6-1.6-1.6zM131.81 194.13l1.6 1.6-1.6 1.6-1.6-1.6zM141.35 190.22l1.6 1.6-1.6 1.6-1.6-1.6zM114.54 183.34l1.6 1.6-1.6 1.6-1.6-1.6zM108.39 186.19l1.6 1.6-1.6 1.6-1.6-1.6zM75.78 195.81l1.6 1.6-1.6 1.6-1.6-1.6zM117.95 201.26l1.6 1.6-1.6 1.6-1.6-1.6zM101.82 193.38l1.6 1.6-1.6 1.6-1.6-1.6zM133.27 195.48l1.6 1.6-1.6 1.6-1.6-1.6zM108.22 195.04l1.6 1.6-1.6 1.6-1.6-1.6zM110.25 197.24l1.6 1.6-1.6 1.6-1.6-1.6zM92.28 210.48l1.6 1.6-1.6 1.6-1.6-1.6zM76.97 193.02l1.6 1.6-1.6 1.6-1.6-1.6zM126.45 190.74l1.6 1.6-1.6 1.6-1.6-1.6zM103.85 179.9l1.6 1.6-1.6 1.6-1.6-1.6zM110.19 199.41l1.6 1.6-1.6 1.6-1.6-1.6zM103.8 180.74l1.6 1.6-1.6 1.6-1.6-1.6zM135.47 188.63l1.6 1.6-1.6 1.6-1.6-1.6zM110.15 193.67l1.6 1.6-1.6 1.6-1.6-1.6zM91.3 187.21l1.6 1.6-1.6 1.6-1.6-1.6zM137.37 176.04l1.6 1.6-1.6 1.6-1.6-1.6zM82.33 198.96l1.6 1.6-1.6 1.6-1.6-1.6zM121.3 191.87l1.6 1.6-1.6 1.6-1.6-1.6zM96.13 200.37l1.6 1.6-1.6 1.6-1.6-1.6zM93.21 198.12l1.6 1.6-1.6 1.6-1.6-1.6zM82.98 202.65l1.6 1.6-1.6 1.6-1.6-1.6zM97.25 200.32l1.6 1.6-1.6 1.6-1.6-1.6zM139.46 191.52l1.6 1.6-1.6 1.6-1.6-1.6zM85.59 194.78l1.6 1.6-1.6 1.6-1.6-1.6zM67.49 196.94l1.6 1.6-1.6 1.6-1.6-1.6zM116.16 189.51l1.6 1.6-1.6 1.6-1.6-1.6zM117.34 201.1l1.6 1.6-1.6 1.6-1.6-1.6zM66.97 198.57l1.6 1.6-1.6 1.6-1.6-1.6zM138.42 190.78l1.6 1.6-1.6 1.6-1.6-1.6zM108.57 202.73l1.6 1.6-1.6 1.6-1.6-1.6zM125.65 198.6l1.6 1.6-1.6 1.6-1.6-1.6zM110.38 198.27l1.6 1.6-1.6 1.6-1.6-1.6zM115.94 194.76l1.6 1.6-1.6 1.6-1.6-1.6zM129.24 195.51l1.6 1.6-1.6 1.6-1.6-1.6zM120.23 196.43l1.6 1.6-1.6 1.6-1.6-1.6zM112.92 200.9l1.6 1.6-1.6 1.6-1.6-1.6zM104.96 181.88l1.6 1.6-1.6 1.6-1.6-1.6zM131.49 191.11l1.6 1.6-1.6 1.6-1.6-1.6zM99.63 195.82l1.6 1.6-1.6 1.6-1.6-1.6zM132.47 200.15l1.6 1.6-1.6 1.6-1.6-1.6zM81.34 202.1l1.6 1.6-1.6 1.6-1.6-1.6zM126.59 198.81l1.6 1.6-1.6 1.6-1.6-1.6zM111.28 194.07l1.6 1.6-1.6 1.6-1.6-1.6zM94.4 202.56l1.6 1.6-1.6 1.6-1.6-1.6zM105.23 203.5l1.6 1.6-1.6 1.6-1.6-1.6zM114.2 183.93l1.6 1.6-1.6 1.6-1.6-1.6zM142.37 208.35l1.6 1.6-1.6 1.6-1.6-1.6zM81.78 196.14l1.6 1.6-1.6 1.6-1.6-1.6zM137.22 183.07l1.6 1.6-1.6 1.6-1.6-1.6zM104.13 201.59l1.6 1.6-1.6 1.6-1.6-1.6zM106.19 180.45l1.6 1.6-1.6 1.6-1.6-1.6zM129.29 183.46l1.6 1.6-1.6 1.6-1.6-1.6zM112.74 183.73l1.6 1.6-1.6 1.6-1.6-1.6zM91.24 194.59l1.6 1.6-1.6 1.6-1.6-1.6zM135.76 183.89l1.6 1.6-1.6 1.6-1.6-1.6zM137.69 188.46l1.6 1.6-1.6 1.6-1.6-1.6zM124.5 190.83l1.6 1.6-1.6 1.6-1.6-1.6zM86.86 199.64l1.6 1.6-1.6 1.6-1.6-1.6zM111.46 199.83l1.6 1.6-1.6 1.6-1.6-1.6zM115.28 185.54l1.6 1.6-1.6 1.6-1.6-1.6zM116.39 207.26l1.6 1.6-1.6 1.6-1.6-1.6zM124.96 198.47l1.6 1.6-1.6 1.6-1.6-1.6zM100.33 195.05l1.6 1.6-1.6 1.6-1.6-1.6zM102.37 187.22l1.6 1.6-1.6 1.6-1.6-1.6zM132.56 189.36l1.6 1.6-1.6 1.6-1.6-1.6zM131.09 199.85l1.6 1.6-1.6 1.6-1.6-1.6zM105.59 193.71l1.6 1.6-1.6 1.6-1.6-1.6zM121.22 206.19l1.6 1.6-1.6 1.6-1.6-1.6zM126.65 183.38l1.6 1.6-1.6 1.6-1.6-1.6zM139.5 180.1l1.6 1.6-1.6 1.6-1.6-1.6zM106.66 177.37l1.6 1.6-1.6 1.6-1.6-1.6zM83.81 198.1l1.6 1.6-1.6 1.6-1.6-1.6zM70.77 197.65l1.6 1.6-1.6 1.6-1.6-1.6zM133.07 197.04l1.6 1.6-1.6 1.6-1.6-1.6zM92.36 204.27l1.6 1.6-1.6 1.6-1.6-1.6zM98.99 201.4l1.6 1.6-1.6 1.6-1.6-1.6zM110.07 191.9l1.6 1.6-1.6 1.6-1.6-1.6zM95.06 207.28l1.6 1.6-1.6 1.6-1.6-1.6zM141.24 187.22l1.6 1.6-1.6 1.6-1.6-1.6zM114.6 183.39l1.6 1.6-1.6 1.6-1.6-1.6zM122.31 191.13l1.6 1.6-1.6 1.6-1.6-1.6zM120.28 194.11l1.6 1.6-1.6 1.6-1.6-1.6zM74.73 198.21l1.6 1.6-1.6 1.6-1.6-1.6zM113.28 191.17l1.6 1.6-1.6 1.6-1.6-1.6zM78.66 201.69l1.6 1.6-1.6 1.6-1.6-1.6zM92.61 193.12l1.6 1.6-1.6 1.6-1.6-1.6zM143 149.15l1.6 1.6-1.6 1.6-1.6-1.6zM176.75 151.15l1.6 1.6-1.6 1.6-1.6-1.6zM180.5 156.9l1.6 1.6-1.6 1.6-1.6-1.6zM142 166.15l1.6 1.6-1.6 1.6-1.6-1.6zM141.25 169.4l1.6 1.6-1.6 1.6-1.6-1.6zM143 171.15l1.6 1.6-1.6 1.6-1.6-1.6zM113 170.4l1.6 1.6-1.6 1.6-1.6-1.6zM129 171.9l1.6 1.6-1.6 1.6-1.6-1.6zM132.75 171.9l1.6 1.6-1.6 1.6-1.6-1.6zM155 170.4l1.6 1.6-1.6 1.6-1.6-1.6zM160 168.4l1.6 1.6-1.6 1.6-1.6-1.6zM166.75 171.65l1.6 1.6-1.6 1.6-1.6-1.6zM143.25 174.65l1.6 1.6-1.6 1.6-1.6-1.6zM119.25 174.65l1.6 1.6-1.6 1.6-1.6-1.6zM180.5 186.65l1.6 1.6-1.6 1.6-1.6-1.6zM178.5 189.65l1.6 1.6-1.6 1.6-1.6-1.6zM173.75 189.15l1.6 1.6-1.6 1.6-1.6-1.6zM170 179.9l1.6 1.6-1.6 1.6-1.6-1.6zM163.75 179.15l1.6 1.6-1.6 1.6-1.6-1.6zM165 180.4l1.6 1.6-1.6 1.6-1.6-1.6zM161.25 179.15l1.6 1.6-1.6 1.6-1.6-1.6zM157.5 181.15l1.6 1.6-1.6 1.6-1.6-1.6zM169.5 199.15l1.6 1.6-1.6 1.6-1.6-1.6zM163 200.4l1.6 1.6-1.6 1.6-1.6-1.6zM163.5 202.9l1.6 1.6-1.6 1.6-1.6-1.6zM163 208.4l1.6 1.6-1.6 1.6-1.6-1.6zM157 194.4l1.6 1.6-1.6 1.6-1.6-1.6zM151.25 197.4l1.6 1.6-1.6 1.6-1.6-1.6zM28.25 211.15l1.6 1.6-1.6 1.6-1.6-1.6zM35.5 207.4l1.6 1.6-1.6 1.6-1.6-1.6zM41.25 199.9l1.6 1.6-1.6 1.6-1.6-1.6zM45.5 200.4l1.6 1.6-1.6 1.6-1.6-1.6zM49.25 203.9l1.6 1.6-1.6 1.6-1.6-1.6zM52 204.65l1.6 1.6-1.6 1.6-1.6-1.6zM55 199.15l1.6 1.6-1.6 1.6-1.6-1.6zM55.5 197.4l1.6 1.6-1.6 1.6-1.6-1.6zM62.5 193.15l1.6 1.6-1.6 1.6-1.6-1.6zM66.25 209.4l1.6 1.6-1.6 1.6-1.6-1.6zM72.5 189.15l1.6 1.6-1.6 1.6-1.6-1.6zM93.75 211.4l1.6 1.6-1.6 1.6-1.6-1.6zM113.75 215.9l1.6 1.6-1.6 1.6-1.6-1.6zM122.5 215.9l1.6 1.6-1.6 1.6-1.6-1.6zM136.5 223.15l1.6 1.6-1.6 1.6-1.6-1.6zM151.75 231.15l1.6 1.6-1.6 1.6-1.6-1.6zM156.5 219.4l1.6 1.6-1.6 1.6-1.6-1.6zM160 215.9l1.6 1.6-1.6 1.6-1.6-1.6zM148 184.4l1.6 1.6-1.6 1.6-1.6-1.6zM150 190.4l1.6 1.6-1.6 1.6-1.6-1.6zM153 186.4l1.6 1.6-1.6 1.6-1.6-1.6zM149 193.4l1.6 1.6-1.6 1.6-1.6-1.6zM155 182.4l1.6 1.6-1.6 1.6-1.6-1.6z"/>
<line class="dash" stroke-width="0.5" x1="22.2" y1="195.45" x2="181.2" y2="195.45"/>
<path class="ax" d="M18.65 147.7V268.8"/>
<path class="ax" d="M18.65 268.8H183.9"/>
<path class="ax" d="M18.65 265.44h-2.2M18.65 252.08h-2.2M18.65 238.72h-2.2M18.65 225.36h-2.2M18.65 212h-2.2M18.65 198.64h-2.2M18.65 185.28h-2.2M18.65 171.92h-2.2M18.65 158.56h-2.2M22.1 268.8v2.2M50.58 268.8v2.2M79.06 268.8v2.2M107.54 268.8v2.2M136.02 268.8v2.2M164.5 268.8v2.2"/>
<text class="tl" transform="translate(14.6 265.44) rotate(-90)">-80</text>
<text class="tl" transform="translate(14.6 252.08) rotate(-90)">-60</text>
<text class="tl" transform="translate(14.6 238.72) rotate(-90)">-40</text>
<text class="tl" transform="translate(14.6 225.36) rotate(-90)">-20</text>
<text class="tl" transform="translate(14.6 212) rotate(-90)">0</text>
<text class="tl" transform="translate(14.6 198.64) rotate(-90)">20</text>
<text class="tl" transform="translate(14.6 185.28) rotate(-90)">40</text>
<text class="tl" transform="translate(14.6 171.92) rotate(-90)">60</text>
<text class="tl" transform="translate(14.6 158.56) rotate(-90)">80</text>
<text class="tl" x="22.1" y="276.85">10</text>
<text class="tl" x="50.58" y="276.85">30</text>
<text class="tl" x="79.06" y="276.85">50</text>
<text class="tl" x="107.54" y="276.85">70</text>
<text class="tl" x="136.02" y="276.85">90</text>
<text class="tl" x="164.5" y="276.85">110</text>
<text class="tt" style="font-size:5.16px" transform="translate(9 207.15) rotate(-90)">Difference eGFR_White(BTP/Crea)-mGFR</text>
<text class="tt" x="101" y="281">Average of eGFR_White(BTP/Crea) and mGFR</text>
</g>
<g id="panel6">
<path class="grid" d="M209.6 164.5H374.4M209.6 178.8H374.4M209.6 236H374.4M209.6 250.3H374.4"/>
<rect class="band" x="212.9" y="193.6" width="158.9" height="30.9"/>
<path class="pts" d="M286.79 201.65l1.6 1.6-1.6 1.6-1.6-1.6zM300.54 214.11l1.6 1.6-1.6 1.6-1.6-1.6zM307.62 214.33l1.6 1.6-1.6 1.6-1.6-1.6zM296.26 202.88l1.6 1.6-1.6 1.6-1.6-1.6zM285.9 200.13l1.6 1.6-1.6 1.6-1.6-1.6zM247.88 193.41l1.6 1.6-1.6 1.6-1.6-1.6zM287.17 219.78l1.6 1.6-1.6 1.6-1.6-1.6zM252.32 202.5l1.6 1.6-1.6 1.6-1.6-1.6zM294.41 211.72l1.6 1.6-1.6 1.6-1.6-1.6zM282.42 206.99l1.6 1.6-1.6 1.6-1.6-1.6zM272.7 204.89l1.6 1.6-1.6 1.6-1.6-1.6zM309.83 216.21l1.6 1.6-1.6 1.6-1.6-1.6zM291.76 210.67l1.6 1.6-1.6 1.6-1.6-1.6zM250.94 201.23l1.6 1.6-1.6 1.6-1.6-1.6zM251.72 198.66l1.6 1.6-1.6 1.6-1.6-1.6zM305.57 211.34l1.6 1.6-1.6 1.6-1.6-1.6zM292.16 200.68l1.6 1.6-1.6 1.6-1.6-1.6zM311.63 204.95l1.6 1.6-1.6 1.6-1.6-1.6zM269.57 198.11l1.6 1.6-1.6 1.6-1.6-1.6zM280.78 208.26l1.6 1.6-1.6 1.6-1.6-1.6zM263.27 206.12l1.6 1.6-1.6 1.6-1.6-1.6zM300.07 211.66l1.6 1.6-1.6 1.6-1.6-1.6zM306.87 209.6l1.6 1.6-1.6 1.6-1.6-1.6zM274.53 202.96l1.6 1.6-1.6 1.6-1.6-1.6zM257.05 196.38l1.6 1.6-1.6 1.6-1.6-1.6zM291.58 202.72l1.6 1.6-1.6 1.6-1.6-1.6zM268.51 205.03l1.6 1.6-1.6 1.6-1.6-1.6zM278.83 206.5l1.6 1.6-1.6 1.6-1.6-1.6zM290.93 209.23l1.6 1.6-1.6 1.6-1.6-1.6zM251.73 202.67l1.6 1.6-1.6 1.6-1.6-1.6zM305.65 209.37l1.6 1.6-1.6 1.6-1.6-1.6zM292.16 210.98l1.6 1.6-1.6 1.6-1.6-1.6zM279.81 205.39l1.6 1.6-1.6 1.6-1.6-1.6zM297.71 203.79l1.6 1.6-1.6 1.6-1.6-1.6zM289.13 205.44l1.6 1.6-1.6 1.6-1.6-1.6zM283.68 217.77l1.6 1.6-1.6 1.6-1.6-1.6zM274.39 202l1.6 1.6-1.6 1.6-1.6-1.6zM308.13 207.1l1.6 1.6-1.6 1.6-1.6-1.6zM253.85 208.91l1.6 1.6-1.6 1.6-1.6-1.6zM310.01 201.42l1.6 1.6-1.6 1.6-1.6-1.6zM308.47 213.93l1.6 1.6-1.6 1.6-1.6-1.6zM312.16 213.26l1.6 1.6-1.6 1.6-1.6-1.6zM300.82 211.53l1.6 1.6-1.6 1.6-1.6-1.6zM281.94 211.27l1.6 1.6-1.6 1.6-1.6-1.6zM284.69 206.55l1.6 1.6-1.6 1.6-1.6-1.6zM253.27 194.86l1.6 1.6-1.6 1.6-1.6-1.6zM286.01 214.44l1.6 1.6-1.6 1.6-1.6-1.6zM258.41 194.54l1.6 1.6-1.6 1.6-1.6-1.6zM313.32 209.91l1.6 1.6-1.6 1.6-1.6-1.6zM279.85 200.97l1.6 1.6-1.6 1.6-1.6-1.6zM278.13 200.12l1.6 1.6-1.6 1.6-1.6-1.6zM270.14 211.11l1.6 1.6-1.6 1.6-1.6-1.6zM276.91 214.09l1.6 1.6-1.6 1.6-1.6-1.6zM279.31 205.57l1.6 1.6-1.6 1.6-1.6-1.6zM302.64 212.44l1.6 1.6-1.6 1.6-1.6-1.6zM248.42 199.35l1.6 1.6-1.6 1.6-1.6-1.6zM262.75 190.84l1.6 1.6-1.6 1.6-1.6-1.6zM256.06 192.01l1.6 1.6-1.6 1.6-1.6-1.6zM290.71 203.54l1.6 1.6-1.6 1.6-1.6-1.6zM307.19 205.7l1.6 1.6-1.6 1.6-1.6-1.6zM280 208.31l1.6 1.6-1.6 1.6-1.6-1.6zM290.66 220.11l1.6 1.6-1.6 1.6-1.6-1.6zM282.45 204.53l1.6 1.6-1.6 1.6-1.6-1.6zM298.62 203.64l1.6 1.6-1.6 1.6-1.6-1.6zM268.6 204.44l1.6 1.6-1.6 1.6-1.6-1.6zM278.1 216.54l1.6 1.6-1.6 1.6-1.6-1.6zM261.93 197l1.6 1.6-1.6 1.6-1.6-1.6zM261.45 201.96l1.6 1.6-1.6 1.6-1.6-1.6zM275.04 213.78l1.6 1.6-1.6 1.6-1.6-1.6zM288.74 203.69l1.6 1.6-1.6 1.6-1.6-1.6zM309.17 215.17l1.6 1.6-1.6 1.6-1.6-1.6zM271.33 201.12l1.6 1.6-1.6 1.6-1.6-1.6zM300.77 220.73l1.6 1.6-1.6 1.6-1.6-1.6zM279.11 211l1.6 1.6-1.6 1.6-1.6-1.6zM298.47 219.19l1.6 1.6-1.6 1.6-1.6-1.6zM276.4 201.4l1.6 1.6-1.6 1.6-1.6-1.6zM319.25 208.73l1.6 1.6-1.6 1.6-1.6-1.6zM285.99 214.63l1.6 1.6-1.6 1.6-1.6-1.6zM308.94 212.04l1.6 1.6-1.6 1.6-1.6-1.6zM291.69 207.99l1.6 1.6-1.6 1.6-1.6-1.6zM293.78 209.84l1.6 1.6-1.6 1.6-1.6-1.6zM284.08 204.2l1.6 1.6-1.6 1.6-1.6-1.6zM300.8 215.04l1.6 1.6-1.6 1.6-1.6-1.6zM285.95 210.05l1.6 1.6-1.6 1.6-1.6-1.6zM281.51 199.36l1.6 1.6-1.6 1.6-1.6-1.6zM293.93 201.6l1.6 1.6-1.6 1.6-1.6-1.6zM286.99 202.13l1.6 1.6-1.6 1.6-1.6-1.6zM280.34 204.91l1.6 1.6-1.6 1.6-1.6-1.6zM311.51 205.02l1.6 1.6-1.6 1.6-1.6-1.6zM306.16 208.89l1.6 1.6-1.6 1.6-1.6-1.6zM290.54 207.07l1.6 1.6-1.6 1.6-1.6-1.6zM308.1 215.26l1.6 1.6-1.6 1.6-1.6-1.6zM302.81 210.88l1.6 1.6-1.6 1.6-1.6-1.6zM273.38 204.08l1.6 1.6-1.6 1.6-1.6-1.6zM313.32 212.6l1.6 1.6-1.6 1.6-1.6-1.6zM294.7 196.41l1.6 1.6-1.6 1.6-1.6-1.6zM303.05 216.79l1.6 1.6-1.6 1.6-1.6-1.6zM294.03 202.95l1.6 1.6-1.6 1.6-1.6-1.6zM289.22 201.73l1.6 1.6-1.6 1.6-1.6-1.6zM297.56 209.01l1.6 1.6-1.6 1.6-1.6-1.6zM286.44 214.35l1.6 1.6-1.6 1.6-1.6-1.6zM276.39 208.35l1.6 1.6-1.6 1.6-1.6-1.6zM302.84 208.38l1.6 1.6-1.6 1.6-1.6-1.6zM291.5 202.53l1.6 1.6-1.6 1.6-1.6-1.6zM274.4 201.28l1.6 1.6-1.6 1.6-1.6-1.6zM302.28 209.13l1.6 1.6-1.6 1.6-1.6-1.6zM273.71 213.86l1.6 1.6-1.6 1.6-1.6-1.6zM284.95 208.3l1.6 1.6-1.6 1.6-1.6-1.6zM287.5 213.29l1.6 1.6-1.6 1.6-1.6-1.6zM304.58 206.42l1.6 1.6-1.6 1.6-1.6-1.6zM308.34 204.87l1.6 1.6-1.6 1.6-1.6-1.6zM275.06 198.92l1.6 1.6-1.6 1.6-1.6-1.6zM265.22 197.85l1.6 1.6-1.6 1.6-1.6-1.6zM267.37 206.47l1.6 1.6-1.6 1.6-1.6-1.6zM306.84 210.35l1.6 1.6-1.6 1.6-1.6-1.6zM261.99 200.4l1.6 1.6-1.6 1.6-1.6-1.6zM312.27 211.6l1.6 1.6-1.6 1.6-1.6-1.6zM290.15 207.76l1.6 1.6-1.6 1.6-1.6-1.6zM289.33 217.25l1.6 1.6-1.6 1.6-1.6-1.6zM303.1 204.49l1.6 1.6-1.6 1.6-1.6-1.6zM261.94 195.95l1.6 1.6-1.6 1.6-1.6-1.6zM270.66 200.01l1.6 1.6-1.6 1.6-1.6-1.6zM273.39 201.08l1.6 1.6-1.6 1.6-1.6-1.6zM303.31 213.1l1.6 1.6-1.6 1.6-1.6-1.6zM278.7 210.7l1.6 1.6-1.6 1.6-1.6-1.6zM295.71 212.64l1.6 1.6-1.6 1.6-1.6-1.6zM252.96 198.01l1.6 1.6-1.6 1.6-1.6-1.6zM293.51 203.65l1.6 1.6-1.6 1.6-1.6-1.6zM316.75 212.3l1.6 1.6-1.6 1.6-1.6-1.6zM286.58 221.13l1.6 1.6-1.6 1.6-1.6-1.6zM293.98 209.29l1.6 1.6-1.6 1.6-1.6-1.6zM309.31 221.57l1.6 1.6-1.6 1.6-1.6-1.6zM291.61 202.99l1.6 1.6-1.6 1.6-1.6-1.6zM313.62 211.38l1.6 1.6-1.6 1.6-1.6-1.6zM290.73 207.81l1.6 1.6-1.6 1.6-1.6-1.6zM295.87 206.78l1.6 1.6-1.6 1.6-1.6-1.6zM308.95 199.24l1.6 1.6-1.6 1.6-1.6-1.6zM260.95 206.93l1.6 1.6-1.6 1.6-1.6-1.6zM264.98 202.33l1.6 1.6-1.6 1.6-1.6-1.6zM303.82 205.45l1.6 1.6-1.6 1.6-1.6-1.6zM309.91 207.02l1.6 1.6-1.6 1.6-1.6-1.6zM265.35 205.44l1.6 1.6-1.6 1.6-1.6-1.6zM305.47 205.1l1.6 1.6-1.6 1.6-1.6-1.6zM294.5 217.03l1.6 1.6-1.6 1.6-1.6-1.6zM306.44 225.16l1.6 1.6-1.6 1.6-1.6-1.6zM278.54 199.33l1.6 1.6-1.6 1.6-1.6-1.6zM314.01 218.7l1.6 1.6-1.6 1.6-1.6-1.6zM270.6 201.34l1.6 1.6-1.6 1.6-1.6-1.6zM276.2 200.58l1.6 1.6-1.6 1.6-1.6-1.6zM303.22 217.18l1.6 1.6-1.6 1.6-1.6-1.6zM279.02 208.35l1.6 1.6-1.6 1.6-1.6-1.6zM299.59 216.01l1.6 1.6-1.6 1.6-1.6-1.6zM310.28 222.98l1.6 1.6-1.6 1.6-1.6-1.6zM284.88 202.33l1.6 1.6-1.6 1.6-1.6-1.6zM274.6 199.96l1.6 1.6-1.6 1.6-1.6-1.6zM302.52 223.48l1.6 1.6-1.6 1.6-1.6-1.6zM317.14 212.48l1.6 1.6-1.6 1.6-1.6-1.6zM302.25 206.1l1.6 1.6-1.6 1.6-1.6-1.6zM299.29 216.92l1.6 1.6-1.6 1.6-1.6-1.6zM289.06 201.52l1.6 1.6-1.6 1.6-1.6-1.6zM308.58 210.82l1.6 1.6-1.6 1.6-1.6-1.6zM282.38 197.44l1.6 1.6-1.6 1.6-1.6-1.6zM288.69 198.61l1.6 1.6-1.6 1.6-1.6-1.6zM306.58 215.47l1.6 1.6-1.6 1.6-1.6-1.6zM311.63 215.81l1.6 1.6-1.6 1.6-1.6-1.6zM279.87 214.17l1.6 1.6-1.6 1.6-1.6-1.6zM280.37 202.07l1.6 1.6-1.6 1.6-1.6-1.6zM282.43 200.39l1.6 1.6-1.6 1.6-1.6-1.6zM306.05 205.17l1.6 1.6-1.6 1.6-1.6-1.6zM244.7 197.71l1.6 1.6-1.6 1.6-1.6-1.6zM286.59 213.87l1.6 1.6-1.6 1.6-1.6-1.6zM293.56 208.42l1.6 1.6-1.6 1.6-1.6-1.6zM277.82 199.73l1.6 1.6-1.6 1.6-1.6-1.6zM279.28 205.24l1.6 1.6-1.6 1.6-1.6-1.6zM285.71 208.45l1.6 1.6-1.6 1.6-1.6-1.6zM289.87 211.74l1.6 1.6-1.6 1.6-1.6-1.6zM248.92 199.26l1.6 1.6-1.6 1.6-1.6-1.6zM245.6 200.11l1.6 1.6-1.6 1.6-1.6-1.6zM273.68 205.28l1.6 1.6-1.6 1.6-1.6-1.6zM281.38 196.12l1.6 1.6-1.6 1.6-1.6-1.6zM270.44 211.82l1.6 1.6-1.6 1.6-1.6-1.6zM277.67 207.67l1.6 1.6-1.6 1.6-1.6-1.6zM308.06 221.21l1.6 1.6-1.6 1.6-1.6-1.6zM282.26 213.29l1.6 1.6-1.6 1.6-1.6-1.6zM276.54 207.25l1.6 1.6-1.6 1.6-1.6-1.6zM297.97 213.27l1.6 1.6-1.6 1.6-1.6-1.6zM302.32 201.79l1.6 1.6-1.6 1.6-1.6-1.6zM304.74 200.62l1.6 1.6-1.6 1.6-1.6-1.6zM276.72 216.96l1.6 1.6-1.6 1.6-1.6-1.6zM266.77 193.78l1.6 1.6-1.6 1.6-1.6-1.6zM257.54 201.9l1.6 1.6-1.6 1.6-1.6-1.6zM274.18 209.63l1.6 1.6-1.6 1.6-1.6-1.6zM284.69 212.1l1.6 1.6-1.6 1.6-1.6-1.6zM259.92 200.42l1.6 1.6-1.6 1.6-1.6-1.6zM291.98 204.03l1.6 1.6-1.6 1.6-1.6-1.6zM280.11 198.88l1.6 1.6-1.6 1.6-1.6-1.6zM289.33 211.94l1.6 1.6-1.6 1.6-1.6-1.6zM253.7 200.94l1.6 1.6-1.6 1.6-1.6-1.6zM246.19 198.02l1.6 1.6-1.6 1.6-1.6-1.6zM254.31 206.12l1.6 1.6-1.6 1.6-1.6-1.6zM281.39 199.22l1.6 1.6-1.6 1.6-1.6-1.6zM266.42 201.26l1.6 1.6-1.6 1.6-1.6-1.6zM312.97 205.23l1.6 1.6-1.6 1.6-1.6-1.6zM248.47 193.77l1.6 1.6-1.6 1.6-1.6-1.6zM291.91 213.97l1.6 1.6-1.6 1.6-1.6-1.6zM299.42 223.11l1.6 1.6-1.6 1.6-1.6-1.6zM316.1 210.7l1.6 1.6-1.6 1.6-1.6-1.6zM300.02 212.57l1.6 1.6-1.6 1.6-1.6-1.6zM295.96 208.4l1.6 1.6-1.6 1.6-1.6-1.6zM307.15 210.82l1.6 1.6-1.6 1.6-1.6-1.6zM293.34 210.43l1.6 1.6-1.6 1.6-1.6-1.6zM294.72 210.75l1.6 1.6-1.6 1.6-1.6-1.6zM296.31 204.33l1.6 1.6-1.6 1.6-1.6-1.6zM307.35 206.47l1.6 1.6-1.6 1.6-1.6-1.6zM292.85 213.02l1.6 1.6-1.6 1.6-1.6-1.6zM294.46 201.27l1.6 1.6-1.6 1.6-1.6-1.6zM291.88 217.75l1.6 1.6-1.6 1.6-1.6-1.6zM290.57 200.99l1.6 1.6-1.6 1.6-1.6-1.6zM308.64 209.25l1.6 1.6-1.6 1.6-1.6-1.6zM303.54 211.81l1.6 1.6-1.6 1.6-1.6-1.6zM296.97 208.89l1.6 1.6-1.6 1.6-1.6-1.6zM297.12 206.41l1.6 1.6-1.6 1.6-1.6-1.6zM262.32 206.9l1.6 1.6-1.6 1.6-1.6-1.6zM301.01 205.07l1.6 1.6-1.6 1.6-1.6-1.6zM298.51 211.58l1.6 1.6-1.6 1.6-1.6-1.6zM307.83 209.75l1.6 1.6-1.6 1.6-1.6-1.6zM294.19 204.26l1.6 1.6-1.6 1.6-1.6-1.6zM300.06 205.69l1.6 1.6-1.6 1.6-1.6-1.6zM314.65 219.26l1.6 1.6-1.6 1.6-1.6-1.6zM267.74 199.96l1.6 1.6-1.6 1.6-1.6-1.6zM288.48 212.44l1.6 1.6-1.6 1.6-1.6-1.6zM293.06 209.29l1.6 1.6-1.6 1.6-1.6-1.6zM263.62 206.09l1.6 1.6-1.6 1.6-1.6-1.6zM290.79 207.96l1.6 1.6-1.6 1.6-1.6-1.6zM296.12 209.48l1.6 1.6-1.6 1.6-1.6-1.6zM291.98 212.64l1.6 1.6-1.6 1.6-1.6-1.6zM318.12 217.34l1.6 1.6-1.6 1.6-1.6-1.6zM283.71 202.58l1.6 1.6-1.6 1.6-1.6-1.6zM304.85 204.26l1.6 1.6-1.6 1.6-1.6-1.6zM293.07 207.83l1.6 1.6-1.6 1.6-1.6-1.6zM289.82 213.16l1.6 1.6-1.6 1.6-1.6-1.6zM302.42 219.84l1.6 1.6-1.6 1.6-1.6-1.6zM296.43 218.49l1.6 1.6-1.6 1.6-1.6-1.6zM289.1 203.34l1.6 1.6-1.6 1.6-1.6-1.6zM281.96 198.05l1.6 1.6-1.6 1.6-1.6-1.6zM302.64 218.59l1.6 1.6-1.6 1.6-1.6-1.6zM259.84 199.89l1.6 1.6-1.6 1.6-1.6-1.6zM289.07 217l1.6 1.6-1.6 1.6-1.6-1.6zM302.33 204.25l1.6 1.6-1.6 1.6-1.6-1.6zM307.76 207.14l1.6 1.6-1.6 1.6-1.6-1.6zM297.56 211.7l1.6 1.6-1.6 1.6-1.6-1.6zM278.87 207.76l1.6 1.6-1.6 1.6-1.6-1.6zM279.22 198.76l1.6 1.6-1.6 1.6-1.6-1.6zM278.74 196.34l1.6 1.6-1.6 1.6-1.6-1.6zM274.3 196.39l1.6 1.6-1.6 1.6-1.6-1.6zM301.96 206.99l1.6 1.6-1.6 1.6-1.6-1.6zM273.76 194.79l1.6 1.6-1.6 1.6-1.6-1.6zM310.48 204.26l1.6 1.6-1.6 1.6-1.6-1.6zM287.62 193.52l1.6 1.6-1.6 1.6-1.6-1.6zM248.46 204.39l1.6 1.6-1.6 1.6-1.6-1.6zM267.38 198.86l1.6 1.6-1.6 1.6-1.6-1.6zM289.51 204.74l1.6 1.6-1.6 1.6-1.6-1.6zM285.79 217.45l1.6 1.6-1.6 1.6-1.6-1.6zM293.75 216.25l1.6 1.6-1.6 1.6-1.6-1.6zM259.2 203.08l1.6 1.6-1.6 1.6-1.6-1.6zM292.24 215.46l1.6 1.6-1.6 1.6-1.6-1.6zM277.29 197.71l1.6 1.6-1.6 1.6-1.6-1.6zM279.29 199.04l1.6 1.6-1.6 1.6-1.6-1.6zM290.93 208.53l1.6 1.6-1.6 1.6-1.6-1.6zM300.08 212.19l1.6 1.6-1.6 1.6-1.6-1.6zM305.54 204.82l1.6 1.6-1.6 1.6-1.6-1.6zM286.03 198.87l1.6 1.6-1.6 1.6-1.6-1.6zM288.2 216.01l1.6 1.6-1.6 1.6-1.6-1.6zM284.98 220.56l1.6 1.6-1.6 1.6-1.6-1.6zM283.75 211.17l1.6 1.6-1.6 1.6-1.6-1.6zM293.06 208.97l1.6 1.6-1.6 1.6-1.6-1.6zM293.04 208.63l1.6 1.6-1.6 1.6-1.6-1.6zM275.98 208.89l1.6 1.6-1.6 1.6-1.6-1.6zM273.41 198.77l1.6 1.6-1.6 1.6-1.6-1.6zM307.66 216.26l1.6 1.6-1.6 1.6-1.6-1.6zM308.29 212.68l1.6 1.6-1.6 1.6-1.6-1.6zM284.59 207.56l1.6 1.6-1.6 1.6-1.6-1.6zM278.44 207.51l1.6 1.6-1.6 1.6-1.6-1.6zM284.06 210.5l1.6 1.6-1.6 1.6-1.6-1.6zM305.34 210.25l1.6 1.6-1.6 1.6-1.6-1.6zM284.22 194.88l1.6 1.6-1.6 1.6-1.6-1.6zM312.09 208.76l1.6 1.6-1.6 1.6-1.6-1.6zM310.5 211.5l1.6 1.6-1.6 1.6-1.6-1.6zM286.83 209.17l1.6 1.6-1.6 1.6-1.6-1.6zM281.82 211.16l1.6 1.6-1.6 1.6-1.6-1.6zM305.69 218.6l1.6 1.6-1.6 1.6-1.6-1.6zM284.92 200.81l1.6 1.6-1.6 1.6-1.6-1.6zM263.93 209.16l1.6 1.6-1.6 1.6-1.6-1.6zM286.75 204.49l1.6 1.6-1.6 1.6-1.6-1.6zM269.56 201.4l1.6 1.6-1.6 1.6-1.6-1.6zM316.39 215.19l1.6 1.6-1.6 1.6-1.6-1.6zM283.29 209.68l1.6 1.6-1.6 1.6-1.6-1.6zM271.18 191.99l1.6 1.6-1.6 1.6-1.6-1.6zM290.56 206.29l1.6 1.6-1.6 1.6-1.6-1.6zM272.25 197.39l1.6 1.6-1.6 1.6-1.6-1.6zM312.06 213.41l1.6 1.6-1.6 1.6-1.6-1.6zM266.27 212.85l1.6 1.6-1.6 1.6-1.6-1.6zM256.41 197.43l1.6 1.6-1.6 1.6-1.6-1.6zM269.1 202.95l1.6 1.6-1.6 1.6-1.6-1.6zM303.91 214.59l1.6 1.6-1.6 1.6-1.6-1.6zM300.01 214.81l1.6 1.6-1.6 1.6-1.6-1.6zM261.21 211.75l1.6 1.6-1.6 1.6-1.6-1.6zM305.28 219.41l1.6 1.6-1.6 1.6-1.6-1.6zM294.76 223.21l1.6 1.6-1.6 1.6-1.6-1.6zM272.53 204.27l1.6 1.6-1.6 1.6-1.6-1.6zM304.78 204l1.6 1.6-1.6 1.6-1.6-1.6zM257.01 202.37l1.6 1.6-1.6 1.6-1.6-1.6zM298.48 208.37l1.6 1.6-1.6 1.6-1.6-1.6zM308.35 204.94l1.6 1.6-1.6 1.6-1.6-1.6zM310.76 205.98l1.6 1.6-1.6 1.6-1.6-1.6zM281.62 200.96l1.6 1.6-1.6 1.6-1.6-1.6zM297.66 206.9l1.6 1.6-1.6 1.6-1.6-1.6zM296.94 208.59l1.6 1.6-1.6 1.6-1.6-1.6zM249.42 199.87l1.6 1.6-1.6 1.6-1.6-1.6zM302.53 209.52l1.6 1.6-1.6 1.6-1.6-1.6zM258.15 196.12l1.6 1.6-1.6 1.6-1.6-1.6zM287.77 216.35l1.6 1.6-1.6 1.6-1.6-1.6zM292.54 208.73l1.6 1.6-1.6 1.6-1.6-1.6zM308.4 215.49l1.6 1.6-1.6 1.6-1.6-1.6zM244.63 203.68l1.6 1.6-1.6 1.6-1.6-1.6zM306.63 220l1.6 1.6-1.6 1.6-1.6-1.6zM300.03 206.78l1.6 1.6-1.6 1.6-1.6-1.6zM304.25 207.19l1.6 1.6-1.6 1.6-1.6-1.6zM281.39 199.16l1.6 1.6-1.6 1.6-1.6-1.6zM278.11 209.17l1.6 1.6-1.6 1.6-1.6-1.6zM265.69 203.9l1.6 1.6-1.6 1.6-1.6-1.6zM274.32 203.35l1.6 1.6-1.6 1.6-1.6-1.6zM298.42 209.35l1.6 1.6-1.6 1.6-1.6-1.6zM317.19 203.8l1.6 1.6-1.6 1.6-1.6-1.6zM297.88 207.93l1.6 1.6-1.6 1.6-1.6-1.6zM292.65 203.21l1.6 1.6-1.6 1.6-1.6-1.6zM306.06 200.22l1.6 1.6-1.6 1.6-1.6-1.6zM292.16 205.77l1.6 1.6-1.6 1.6-1.6-1.6zM266.38 211.9l1.6 1.6-1.6 1.6-1.6-1.6zM289.94 209.48l1.6 1.6-1.6 1.6-1.6-1.6zM293.09 211.53l1.6 1.6-1.6 1.6-1.6-1.6zM256.14 198.97l1.6 1.6-1.6 1.6-1.6-1.6zM275.15 198.37l1.6 1.6-1.6 1.6-1.6-1.6zM251.93 198.56l1.6 1.6-1.6 1.6-1.6-1.6zM272.23 206.41l1.6 1.6-1.6 1.6-1.6-1.6zM286.79 198.47l1.6 1.6-1.6 1.6-1.6-1.6zM317.35 210.25l1.6 1.6-1.6 1.6-1.6-1.6zM294.41 204.21l1.6 1.6-1.6 1.6-1.6-1.6zM266.72 209.97l1.6 1.6-1.6 1.6-1.6-1.6zM259.25 200.48l1.6 1.6-1.6 1.6-1.6-1.6zM265.54 210.58l1.6 1.6-1.6 1.6-1.6-1.6zM300.27 210.47l1.6 1.6-1.6 1.6-1.6-1.6zM293.36 200.89l1.6 1.6-1.6 1.6-1.6-1.6zM301.13 208.1l1.6 1.6-1.6 1.6-1.6-1.6zM306.25 210.79l1.6 1.6-1.6 1.6-1.6-1.6zM295.96 211.24l1.6 1.6-1.6 1.6-1.6-1.6zM303.17 208.2l1.6 1.6-1.6 1.6-1.6-1.6zM279.71 198.24l1.6 1.6-1.6 1.6-1.6-1.6zM291.47 205.65l1.6 1.6-1.6 1.6-1.6-1.6zM312.72 209.45l1.6 1.6-1.6 1.6-1.6-1.6zM296.39 207.88l1.6 1.6-1.6 1.6-1.6-1.6zM291.12 209.92l1.6 1.6-1.6 1.6-1.6-1.6zM257.21 208.68l1.6 1.6-1.6 1.6-1.6-1.6zM264.83 196.9l1.6 1.6-1.6 1.6-1.6-1.6zM314.09 219.59l1.6 1.6-1.6 1.6-1.6-1.6zM265.1 198.89l1.6 1.6-1.6 1.6-1.6-1.6zM289.98 205.42l1.6 1.6-1.6 1.6-1.6-1.6zM294.8 205.92l1.6 1.6-1.6 1.6-1.6-1.6zM292.65 200.63l1.6 1.6-1.6 1.6-1.6-1.6zM302.33 209.48l1.6 1.6-1.6 1.6-1.6-1.6zM300.45 210.45l1.6 1.6-1.6 1.6-1.6-1.6zM283.2 206.31l1.6 1.6-1.6 1.6-1.6-1.6zM282.17 198.33l1.6 1.6-1.6 1.6-1.6-1.6zM306.98 209.41l1.6 1.6-1.6 1.6-1.6-1.6zM310.57 209.98l1.6 1.6-1.6 1.6-1.6-1.6zM293.79 207.49l1.6 1.6-1.6 1.6-1.6-1.6zM292.43 206.14l1.6 1.6-1.6 1.6-1.6-1.6zM306.28 216.29l1.6 1.6-1.6 1.6-1.6-1.6zM302.52 205.51l1.6 1.6-1.6 1.6-1.6-1.6zM296.49 199.17l1.6 1.6-1.6 1.6-1.6-1.6zM307.7 213.71l1.6 1.6-1.6 1.6-1.6-1.6zM307.43 197.79l1.6 1.6-1.6 1.6-1.6-1.6zM311.23 210.39l1.6 1.6-1.6 1.6-1.6-1.6zM310.45 209.15l1.6 1.6-1.6 1.6-1.6-1.6zM268.35 200.89l1.6 1.6-1.6 1.6-1.6-1.6zM265.33 197.02l1.6 1.6-1.6 1.6-1.6-1.6zM310.98 207.44l1.6 1.6-1.6 1.6-1.6-1.6zM280.01 208.72l1.6 1.6-1.6 1.6-1.6-1.6zM304.01 204.99l1.6 1.6-1.6 1.6-1.6-1.6zM266.27 198.17l1.6 1.6-1.6 1.6-1.6-1.6zM311.58 214.07l1.6 1.6-1.6 1.6-1.6-1.6zM300.98 210.38l1.6 1.6-1.6 1.6-1.6-1.6zM291.89 207.69l1.6 1.6-1.6 1.6-1.6-1.6zM293.61 216.73l1.6 1.6-1.6 1.6-1.6-1.6zM286.74 210.96l1.6 1.6-1.6 1.6-1.6-1.6zM292.11 198.91l1.6 1.6-1.6 1.6-1.6-1.6zM314.86 207.76l1.6 1.6-1.6 1.6-1.6-1.6zM247.56 203.89l1.6 1.6-1.6 1.6-1.6-1.6zM300.74 207.94l1.6 1.6-1.6 1.6-1.6-1.6zM277.72 198.74l1.6 1.6-1.6 1.6-1.6-1.6zM295.02 200.83l1.6 1.6-1.6 1.6-1.6-1.6zM285.41 207.51l1.6 1.6-1.6 1.6-1.6-1.6zM271.32 207.2l1.6 1.6-1.6 1.6-1.6-1.6zM283.59 205.95l1.6 1.6-1.6 1.6-1.6-1.6zM297.41 208.23l1.6 1.6-1.6 1.6-1.6-1.6zM313.42 223.23l1.6 1.6-1.6 1.6-1.6-1.6zM298.55 212.83l1.6 1.6-1.6 1.6-1.6-1.6zM287.76 201.4l1.6 1.6-1.6 1.6-1.6-1.6zM299.35 212.1l1.6 1.6-1.6 1.6-1.6-1.6zM309.8 211.59l1.6 1.6-1.6 1.6-1.6-1.6zM286.4 207.28l1.6 1.6-1.6 1.6-1.6-1.6zM303.21 205.89l1.6 1.6-1.6 1.6-1.6-1.6zM294.06 215.12l1.6 1.6-1.6 1.6-1.6-1.6zM283.26 206.53l1.6 1.6-1.6 1.6-1.6-1.6zM297.24 205.51l1.6 1.6-1.6 1.6-1.6-1.6zM286.69 205.74l1.6 1.6-1.6 1.6-1.6-1.6zM286.46 203.35l1.6 1.6-1.6 1.6-1.6-1.6zM294.75 213.19l1.6 1.6-1.6 1.6-1.6-1.6zM294.59 201.08l1.6 1.6-1.6 1.6-1.6-1.6zM308 207.03l1.6 1.6-1.6 1.6-1.6-1.6zM297.68 195.87l1.6 1.6-1.6 1.6-1.6-1.6zM284.42 209.87l1.6 1.6-1.6 1.6-1.6-1.6zM309.11 210.72l1.6 1.6-1.6 1.6-1.6-1.6zM281.1 204.58l1.6 1.6-1.6 1.6-1.6-1.6zM291.28 195.64l1.6 1.6-1.6 1.6-1.6-1.6zM264.43 196.15l1.6 1.6-1.6 1.6-1.6-1.6zM307.43 211.11l1.6 1.6-1.6 1.6-1.6-1.6zM314.34 226.95l1.6 1.6-1.6 1.6-1.6-1.6zM297.98 208.59l1.6 1.6-1.6 1.6-1.6-1.6zM297.85 213.25l1.6 1.6-1.6 1.6-1.6-1.6zM288.55 211.5l1.6 1.6-1.6 1.6-1.6-1.6zM312.37 209.47l1.6 1.6-1.6 1.6-1.6-1.6zM304.81 209.01l1.6 1.6-1.6 1.6-1.6-1.6zM275.2 198.1l1.6 1.6-1.6 1.6-1.6-1.6zM299.16 208.31l1.6 1.6-1.6 1.6-1.6-1.6zM279.17 204.67l1.6 1.6-1.6 1.6-1.6-1.6zM280.06 205.24l1.6 1.6-1.6 1.6-1.6-1.6zM298.82 212.3l1.6 1.6-1.6 1.6-1.6-1.6zM304 207.06l1.6 1.6-1.6 1.6-1.6-1.6zM259.11 206.06l1.6 1.6-1.6 1.6-1.6-1.6zM292.05 219.04l1.6 1.6-1.6 1.6-1.6-1.6zM273.4 191.88l1.6 1.6-1.6 1.6-1.6-1.6zM257.86 196.07l1.6 1.6-1.6 1.6-1.6-1.6zM268.7 204.76l1.6 1.6-1.6 1.6-1.6-1.6zM296.84 205.29l1.6 1.6-1.6 1.6-1.6-1.6zM280.08 203.85l1.6 1.6-1.6 1.6-1.6-1.6zM291.78 203.74l1.6 1.6-1.6 1.6-1.6-1.6zM311.15 216.7l1.6 1.6-1.6 1.6-1.6-1.6zM301.64 208.75l1.6 1.6-1.6 1.6-1.6-1.6zM293.02 203.6l1.6 1.6-1.6 1.6-1.6-1.6zM300.95 210.9l1.6 1.6-1.6 1.6-1.6-1.6zM294.57 213.47l1.6 1.6-1.6 1.6-1.6-1.6zM289.26 204.76l1.6 1.6-1.6 1.6-1.6-1.6zM285.69 202.56l1.6 1.6-1.6 1.6-1.6-1.6zM284.01 201.39l1.6 1.6-1.6 1.6-1.6-1.6zM300.41 210.63l1.6 1.6-1.6 1.6-1.6-1.6zM301.06 204.7l1.6 1.6-1.6 1.6-1.6-1.6zM311.9 218.25l1.6 1.6-1.6 1.6-1.6-1.6zM285.32 213.58l1.6 1.6-1.6 1.6-1.6-1.6zM284.33 222.17l1.6 1.6-1.6 1.6-1.6-1.6zM279.22 211.77l1.6 1.6-1.6 1.6-1.6-1.6zM267.88 210.2l1.6 1.6-1.6 1.6-1.6-1.6zM271.89 205.48l1.6 1.6-1.6 1.6-1.6-1.6zM283.38 197.05l1.6 1.6-1.6 1.6-1.6-1.6zM279.66 206.28l1.6 1.6-1.6 1.6-1.6-1.6zM284.85 220.67l1.6 1.6-1.6 1.6-1.6-1.6zM276.04 200.67l1.6 1.6-1.6 1.6-1.6-1.6zM303.13 200.71l1.6 1.6-1.6 1.6-1.6-1.6zM266.28 209.23l1.6 1.6-1.6 1.6-1.6-1.6zM248.01 200.29l1.6 1.6-1.6 1.6-1.6-1.6zM271.87 203.79l1.6 1.6-1.6 1.6-1.6-1.6zM305.45 225.59l1.6 1.6-1.6 1.6-1.6-1.6zM303.14 212.14l1.6 1.6-1.6 1.6-1.6-1.6zM271.13 214.87l1.6 1.6-1.6 1.6-1.6-1.6zM287.98 206.09l1.6 1.6-1.6 1.6-1.6-1.6zM288.88 213.86l1.6 1.6-1.6 1.6-1.6-1.6zM288.56 204.37l1.6 1.6-1.6 1.6-1.6-1.6zM278.29 201.78l1.6 1.6-1.6 1.6-1.6-1.6zM273.42 208.13l1.6 1.6-1.6 1.6-1.6-1.6zM286.92 214.92l1.6 1.6-1.6 1.6-1.6-1.6zM316.75 168.4l1.6 1.6-1.6 1.6-1.6-1.6zM338.75 183.4l1.6 1.6-1.6 1.6-1.6-1.6zM340.75 191.9l1.6 1.6-1.6 1.6-1.6-1.6zM287 187.65l1.6 1.6-1.6 1.6-1.6-1.6zM274.5 190.4l1.6 1.6-1.6 1.6-1.6-1.6zM308 189.65l1.6 1.6-1.6 1.6-1.6-1.6zM311.75 189.65l1.6 1.6-1.6 1.6-1.6-1.6zM301.25 191.15l1.6 1.6-1.6 1.6-1.6-1.6zM311.25 193.4l1.6 1.6-1.6 1.6-1.6-1.6zM325 195.65l1.6 1.6-1.6 1.6-1.6-1.6zM326.25 196.65l1.6 1.6-1.6 1.6-1.6-1.6zM221.25 205.9l1.6 1.6-1.6 1.6-1.6-1.6zM226.75 203.65l1.6 1.6-1.6 1.6-1.6-1.6zM230.75 197.4l1.6 1.6-1.6 1.6-1.6-1.6zM235.5 198.15l1.6 1.6-1.6 1.6-1.6-1.6zM240 201.15l1.6 1.6-1.6 1.6-1.6-1.6zM242.5 202.9l1.6 1.6-1.6 1.6-1.6-1.6zM243.75 195.9l1.6 1.6-1.6 1.6-1.6-1.6zM249.25 194.15l1.6 1.6-1.6 1.6-1.6-1.6zM255.5 194.4l1.6 1.6-1.6 1.6-1.6-1.6zM330 203.4l1.6 1.6-1.6 1.6-1.6-1.6zM332.5 206.65l1.6 1.6-1.6 1.6-1.6-1.6zM337.5 208.4l1.6 1.6-1.6 1.6-1.6-1.6zM328 206.65l1.6 1.6-1.6 1.6-1.6-1.6zM277.5 218.9l1.6 1.6-1.6 1.6-1.6-1.6zM299.25 225.9l1.6 1.6-1.6 1.6-1.6-1.6zM304.25 229.65l1.6 1.6-1.6 1.6-1.6-1.6zM303.75 223.9l1.6 1.6-1.6 1.6-1.6-1.6zM308.75 223.15l1.6 1.6-1.6 1.6-1.6-1.6zM319.25 225.65l1.6 1.6-1.6 1.6-1.6-1.6zM320 221.4l1.6 1.6-1.6 1.6-1.6-1.6zM324.25 220.15l1.6 1.6-1.6 1.6-1.6-1.6zM329.25 218.9l1.6 1.6-1.6 1.6-1.6-1.6zM319 238.4l1.6 1.6-1.6 1.6-1.6-1.6zM332.5 227.15l1.6 1.6-1.6 1.6-1.6-1.6zM336.75 226.9l1.6 1.6-1.6 1.6-1.6-1.6zM339.5 224.4l1.6 1.6-1.6 1.6-1.6-1.6zM342.5 222.9l1.6 1.6-1.6 1.6-1.6-1.6zM339.25 230.9l1.6 1.6-1.6 1.6-1.6-1.6zM335 239.4l1.6 1.6-1.6 1.6-1.6-1.6zM335.5 247.65l1.6 1.6-1.6 1.6-1.6-1.6zM342 218.9l1.6 1.6-1.6 1.6-1.6-1.6zM346.25 218.15l1.6 1.6-1.6 1.6-1.6-1.6zM322 208.4l1.6 1.6-1.6 1.6-1.6-1.6zM324 212.4l1.6 1.6-1.6 1.6-1.6-1.6zM323 216.4l1.6 1.6-1.6 1.6-1.6-1.6zM321 204.4l1.6 1.6-1.6 1.6-1.6-1.6z"/>
<line class="dash" stroke-width="0.5" x1="212.9" y1="209.35" x2="371.8" y2="209.35"/>
<path class="ax" d="M209.6 146.5V268.2"/>
<path class="ax" d="M209.6 268.2H374.4"/>
<path class="ax" d="M209.6 264.6h-2.2M209.6 250.3h-2.2M209.6 236h-2.2M209.6 221.7h-2.2M209.6 207.4h-2.2M209.6 193.1h-2.2M209.6 178.8h-2.2M209.6 164.5h-2.2M209.6 150.2h-2.2M213.3 268.2v2.2M244.9 268.2v2.2M276.5 268.2v2.2M308.1 268.2v2.2M339.7 268.2v2.2M371.3 268.2v2.2"/>
<text class="tl" transform="translate(204.8 264.6) rotate(-90)">-80</text>
<text class="tl" transform="translate(204.8 250.3) rotate(-90)">-60</text>
<text class="tl" transform="translate(204.8 236) rotate(-90)">-40</text>
<text class="tl" transform="translate(204.8 221.7) rotate(-90)">-20</text>
<text class="tl" transform="translate(204.8 207.4) rotate(-90)">0</text>
<text class="tl" transform="translate(204.8 193.1) rotate(-90)">20</text>
<text class="tl" transform="translate(204.8 178.8) rotate(-90)">40</text>
<text class="tl" transform="translate(204.8 164.5) rotate(-90)">60</text>
<text class="tl" transform="translate(204.8 150.2) rotate(-90)">80</text>
<text class="tl" x="213.3" y="275.5">10</text>
<text class="tl" x="244.9" y="275.5">30</text>
<text class="tl" x="276.5" y="275.5">50</text>
<text class="tl" x="308.1" y="275.5">70</text>
<text class="tl" x="339.7" y="275.5">90</text>
<text class="tl" x="371.3" y="275.5">110</text>
<text class="tt" transform="translate(199.5 207.3) rotate(-90)">Difference eGFR_Inker(BTP)-mGFR</text>
<text class="tt" x="292" y="280">Average of eGFR_Inker(BTP) and mGFR</text>
</g>
<g id="panel7">
<path class="grid" d="M402.65 166.55H567.6M402.65 180.8H567.6M402.65 223.55H567.6M402.65 237.8H567.6M402.65 252.05H567.6"/>
<rect class="band" x="406.2" y="191.35" width="159.1" height="25.35"/>
<path class="pts" d="M469.73 203.65l1.6 1.6-1.6 1.6-1.6-1.6zM498.91 199.67l1.6 1.6-1.6 1.6-1.6-1.6zM515.44 214.87l1.6 1.6-1.6 1.6-1.6-1.6zM459.93 208.53l1.6 1.6-1.6 1.6-1.6-1.6zM480.92 213.7l1.6 1.6-1.6 1.6-1.6-1.6zM514.44 210.33l1.6 1.6-1.6 1.6-1.6-1.6zM487.83 205.3l1.6 1.6-1.6 1.6-1.6-1.6zM472.6 201.96l1.6 1.6-1.6 1.6-1.6-1.6zM471.77 201.35l1.6 1.6-1.6 1.6-1.6-1.6zM505.5 197.64l1.6 1.6-1.6 1.6-1.6-1.6zM527.92 199.43l1.6 1.6-1.6 1.6-1.6-1.6zM482.85 202.85l1.6 1.6-1.6 1.6-1.6-1.6zM499.41 206.32l1.6 1.6-1.6 1.6-1.6-1.6zM526.01 200.95l1.6 1.6-1.6 1.6-1.6-1.6zM494.96 205.42l1.6 1.6-1.6 1.6-1.6-1.6zM488.28 203.75l1.6 1.6-1.6 1.6-1.6-1.6zM507.9 195.16l1.6 1.6-1.6 1.6-1.6-1.6zM494.46 200.19l1.6 1.6-1.6 1.6-1.6-1.6zM507.42 195.25l1.6 1.6-1.6 1.6-1.6-1.6zM499.97 211.79l1.6 1.6-1.6 1.6-1.6-1.6zM469.81 201.9l1.6 1.6-1.6 1.6-1.6-1.6zM503.37 200.73l1.6 1.6-1.6 1.6-1.6-1.6zM533.12 207.16l1.6 1.6-1.6 1.6-1.6-1.6zM516.36 198.55l1.6 1.6-1.6 1.6-1.6-1.6zM495.85 202.37l1.6 1.6-1.6 1.6-1.6-1.6zM514.53 196.55l1.6 1.6-1.6 1.6-1.6-1.6zM483.21 200.89l1.6 1.6-1.6 1.6-1.6-1.6zM440.05 208.57l1.6 1.6-1.6 1.6-1.6-1.6zM486.05 201.93l1.6 1.6-1.6 1.6-1.6-1.6zM515.73 198.11l1.6 1.6-1.6 1.6-1.6-1.6zM507.16 196.97l1.6 1.6-1.6 1.6-1.6-1.6zM488.2 206.37l1.6 1.6-1.6 1.6-1.6-1.6zM466.99 213.25l1.6 1.6-1.6 1.6-1.6-1.6zM507.54 201.66l1.6 1.6-1.6 1.6-1.6-1.6zM518.03 194.55l1.6 1.6-1.6 1.6-1.6-1.6zM511.36 207.57l1.6 1.6-1.6 1.6-1.6-1.6zM460.45 208.61l1.6 1.6-1.6 1.6-1.6-1.6zM444.65 202.24l1.6 1.6-1.6 1.6-1.6-1.6zM446.22 202.97l1.6 1.6-1.6 1.6-1.6-1.6zM479.91 204.94l1.6 1.6-1.6 1.6-1.6-1.6zM479.96 207.78l1.6 1.6-1.6 1.6-1.6-1.6zM444.93 207.46l1.6 1.6-1.6 1.6-1.6-1.6zM470.77 201.55l1.6 1.6-1.6 1.6-1.6-1.6zM450.39 200.45l1.6 1.6-1.6 1.6-1.6-1.6zM467.21 205.89l1.6 1.6-1.6 1.6-1.6-1.6zM501.26 211.46l1.6 1.6-1.6 1.6-1.6-1.6zM514.88 199.19l1.6 1.6-1.6 1.6-1.6-1.6zM492.78 199.57l1.6 1.6-1.6 1.6-1.6-1.6zM505.27 205.78l1.6 1.6-1.6 1.6-1.6-1.6zM459.64 206.31l1.6 1.6-1.6 1.6-1.6-1.6zM453.9 202.39l1.6 1.6-1.6 1.6-1.6-1.6zM488.39 202.68l1.6 1.6-1.6 1.6-1.6-1.6zM468.74 202.45l1.6 1.6-1.6 1.6-1.6-1.6zM483.35 188.77l1.6 1.6-1.6 1.6-1.6-1.6zM469.15 208.3l1.6 1.6-1.6 1.6-1.6-1.6zM504.78 207.41l1.6 1.6-1.6 1.6-1.6-1.6zM473.17 203.26l1.6 1.6-1.6 1.6-1.6-1.6zM499.7 202.73l1.6 1.6-1.6 1.6-1.6-1.6zM465.77 208.22l1.6 1.6-1.6 1.6-1.6-1.6zM455.74 201.65l1.6 1.6-1.6 1.6-1.6-1.6zM522.99 200.69l1.6 1.6-1.6 1.6-1.6-1.6zM507.51 200.82l1.6 1.6-1.6 1.6-1.6-1.6zM506.69 203.56l1.6 1.6-1.6 1.6-1.6-1.6zM496.02 189.85l1.6 1.6-1.6 1.6-1.6-1.6zM517.45 197.55l1.6 1.6-1.6 1.6-1.6-1.6zM433.25 203.7l1.6 1.6-1.6 1.6-1.6-1.6zM461.63 201.86l1.6 1.6-1.6 1.6-1.6-1.6zM484.05 208.19l1.6 1.6-1.6 1.6-1.6-1.6zM469.96 204.19l1.6 1.6-1.6 1.6-1.6-1.6zM512.8 196.47l1.6 1.6-1.6 1.6-1.6-1.6zM455.72 209.46l1.6 1.6-1.6 1.6-1.6-1.6zM509.3 208.99l1.6 1.6-1.6 1.6-1.6-1.6zM484.44 199.01l1.6 1.6-1.6 1.6-1.6-1.6zM497.49 197.64l1.6 1.6-1.6 1.6-1.6-1.6zM482.51 194.9l1.6 1.6-1.6 1.6-1.6-1.6zM467.52 201.66l1.6 1.6-1.6 1.6-1.6-1.6zM525.93 203.39l1.6 1.6-1.6 1.6-1.6-1.6zM508.23 202.9l1.6 1.6-1.6 1.6-1.6-1.6zM442.39 203.75l1.6 1.6-1.6 1.6-1.6-1.6zM504.52 195.55l1.6 1.6-1.6 1.6-1.6-1.6zM484.34 208.16l1.6 1.6-1.6 1.6-1.6-1.6zM477.06 207.34l1.6 1.6-1.6 1.6-1.6-1.6zM495.46 199.45l1.6 1.6-1.6 1.6-1.6-1.6zM488.99 209.33l1.6 1.6-1.6 1.6-1.6-1.6zM455.48 199.5l1.6 1.6-1.6 1.6-1.6-1.6zM493.28 215.41l1.6 1.6-1.6 1.6-1.6-1.6zM486.27 202.71l1.6 1.6-1.6 1.6-1.6-1.6zM496.93 208.8l1.6 1.6-1.6 1.6-1.6-1.6zM463.72 196.38l1.6 1.6-1.6 1.6-1.6-1.6zM498.86 200.8l1.6 1.6-1.6 1.6-1.6-1.6zM509.28 207.62l1.6 1.6-1.6 1.6-1.6-1.6zM520.96 201.86l1.6 1.6-1.6 1.6-1.6-1.6zM476.76 203.93l1.6 1.6-1.6 1.6-1.6-1.6zM525.33 198.86l1.6 1.6-1.6 1.6-1.6-1.6zM527.56 200.99l1.6 1.6-1.6 1.6-1.6-1.6zM512.11 197.34l1.6 1.6-1.6 1.6-1.6-1.6zM494.78 209.27l1.6 1.6-1.6 1.6-1.6-1.6zM463.65 209.26l1.6 1.6-1.6 1.6-1.6-1.6zM476.89 204.23l1.6 1.6-1.6 1.6-1.6-1.6zM464.74 211.3l1.6 1.6-1.6 1.6-1.6-1.6zM476.98 209.42l1.6 1.6-1.6 1.6-1.6-1.6zM499.05 200.82l1.6 1.6-1.6 1.6-1.6-1.6zM482.65 199.44l1.6 1.6-1.6 1.6-1.6-1.6zM506.41 192.03l1.6 1.6-1.6 1.6-1.6-1.6zM482.68 192.41l1.6 1.6-1.6 1.6-1.6-1.6zM506.85 197.57l1.6 1.6-1.6 1.6-1.6-1.6zM481.74 208.55l1.6 1.6-1.6 1.6-1.6-1.6zM469.78 198.7l1.6 1.6-1.6 1.6-1.6-1.6zM498.28 211.17l1.6 1.6-1.6 1.6-1.6-1.6zM514.39 192.28l1.6 1.6-1.6 1.6-1.6-1.6zM512.84 203.87l1.6 1.6-1.6 1.6-1.6-1.6zM524.77 201.82l1.6 1.6-1.6 1.6-1.6-1.6zM504.14 200.25l1.6 1.6-1.6 1.6-1.6-1.6zM486 203.21l1.6 1.6-1.6 1.6-1.6-1.6zM485.43 194.21l1.6 1.6-1.6 1.6-1.6-1.6zM489.82 198.43l1.6 1.6-1.6 1.6-1.6-1.6zM449.67 202.89l1.6 1.6-1.6 1.6-1.6-1.6zM455.49 208.13l1.6 1.6-1.6 1.6-1.6-1.6zM498.35 205.56l1.6 1.6-1.6 1.6-1.6-1.6zM486.25 194.15l1.6 1.6-1.6 1.6-1.6-1.6zM506.7 200.38l1.6 1.6-1.6 1.6-1.6-1.6zM454.82 209.16l1.6 1.6-1.6 1.6-1.6-1.6zM479.06 206.14l1.6 1.6-1.6 1.6-1.6-1.6zM517.97 203.58l1.6 1.6-1.6 1.6-1.6-1.6zM484.7 201.56l1.6 1.6-1.6 1.6-1.6-1.6zM492.95 200.25l1.6 1.6-1.6 1.6-1.6-1.6zM464.58 207.47l1.6 1.6-1.6 1.6-1.6-1.6zM497.17 195.76l1.6 1.6-1.6 1.6-1.6-1.6zM482.14 209.16l1.6 1.6-1.6 1.6-1.6-1.6zM528.17 195.07l1.6 1.6-1.6 1.6-1.6-1.6zM455.86 206.81l1.6 1.6-1.6 1.6-1.6-1.6zM499.96 204.86l1.6 1.6-1.6 1.6-1.6-1.6zM486.65 201.22l1.6 1.6-1.6 1.6-1.6-1.6zM516.99 202.2l1.6 1.6-1.6 1.6-1.6-1.6zM481.1 194.35l1.6 1.6-1.6 1.6-1.6-1.6zM514.79 207.13l1.6 1.6-1.6 1.6-1.6-1.6zM502.72 195.98l1.6 1.6-1.6 1.6-1.6-1.6zM481.25 215.67l1.6 1.6-1.6 1.6-1.6-1.6zM503.55 198.98l1.6 1.6-1.6 1.6-1.6-1.6zM487.03 200.3l1.6 1.6-1.6 1.6-1.6-1.6zM503.62 196.53l1.6 1.6-1.6 1.6-1.6-1.6zM478.43 209.08l1.6 1.6-1.6 1.6-1.6-1.6zM534.92 192.92l1.6 1.6-1.6 1.6-1.6-1.6zM475.21 203.07l1.6 1.6-1.6 1.6-1.6-1.6zM505.66 197.07l1.6 1.6-1.6 1.6-1.6-1.6zM471.83 207.52l1.6 1.6-1.6 1.6-1.6-1.6zM469.7 203.18l1.6 1.6-1.6 1.6-1.6-1.6zM503.17 208.43l1.6 1.6-1.6 1.6-1.6-1.6zM467.04 217.47l1.6 1.6-1.6 1.6-1.6-1.6zM530.64 194.53l1.6 1.6-1.6 1.6-1.6-1.6zM467.84 213.43l1.6 1.6-1.6 1.6-1.6-1.6zM442.39 207.53l1.6 1.6-1.6 1.6-1.6-1.6zM478.71 203.56l1.6 1.6-1.6 1.6-1.6-1.6zM459.8 204.45l1.6 1.6-1.6 1.6-1.6-1.6zM498.01 201.14l1.6 1.6-1.6 1.6-1.6-1.6zM519.81 198.35l1.6 1.6-1.6 1.6-1.6-1.6zM511.26 201.07l1.6 1.6-1.6 1.6-1.6-1.6zM460.57 203.3l1.6 1.6-1.6 1.6-1.6-1.6zM515.92 200.83l1.6 1.6-1.6 1.6-1.6-1.6zM446.39 209.07l1.6 1.6-1.6 1.6-1.6-1.6zM513.75 205.6l1.6 1.6-1.6 1.6-1.6-1.6zM497.63 205.86l1.6 1.6-1.6 1.6-1.6-1.6zM461.68 201.56l1.6 1.6-1.6 1.6-1.6-1.6zM486 199.22l1.6 1.6-1.6 1.6-1.6-1.6zM504.88 199.06l1.6 1.6-1.6 1.6-1.6-1.6zM512.98 205.75l1.6 1.6-1.6 1.6-1.6-1.6zM517.29 202.16l1.6 1.6-1.6 1.6-1.6-1.6zM471.24 212.24l1.6 1.6-1.6 1.6-1.6-1.6zM485.99 194.61l1.6 1.6-1.6 1.6-1.6-1.6zM508.8 202.62l1.6 1.6-1.6 1.6-1.6-1.6zM485.5 205.3l1.6 1.6-1.6 1.6-1.6-1.6zM474.71 208.15l1.6 1.6-1.6 1.6-1.6-1.6zM450.88 207.6l1.6 1.6-1.6 1.6-1.6-1.6zM489.13 192.4l1.6 1.6-1.6 1.6-1.6-1.6zM521.01 194.42l1.6 1.6-1.6 1.6-1.6-1.6zM480.87 202.75l1.6 1.6-1.6 1.6-1.6-1.6zM454.69 199.33l1.6 1.6-1.6 1.6-1.6-1.6zM491.1 204.62l1.6 1.6-1.6 1.6-1.6-1.6zM469.27 212.99l1.6 1.6-1.6 1.6-1.6-1.6zM482.14 211.41l1.6 1.6-1.6 1.6-1.6-1.6zM470.35 215.38l1.6 1.6-1.6 1.6-1.6-1.6zM487.28 201.61l1.6 1.6-1.6 1.6-1.6-1.6zM500.44 197.6l1.6 1.6-1.6 1.6-1.6-1.6zM496.65 201.47l1.6 1.6-1.6 1.6-1.6-1.6zM500.87 195.44l1.6 1.6-1.6 1.6-1.6-1.6zM437.42 207.41l1.6 1.6-1.6 1.6-1.6-1.6zM460.89 206.14l1.6 1.6-1.6 1.6-1.6-1.6zM507.77 202.97l1.6 1.6-1.6 1.6-1.6-1.6zM479.92 204.23l1.6 1.6-1.6 1.6-1.6-1.6zM491.71 191.24l1.6 1.6-1.6 1.6-1.6-1.6zM477.3 204.3l1.6 1.6-1.6 1.6-1.6-1.6zM489.53 204.44l1.6 1.6-1.6 1.6-1.6-1.6zM499.1 207.56l1.6 1.6-1.6 1.6-1.6-1.6zM440.03 210.15l1.6 1.6-1.6 1.6-1.6-1.6zM469.71 204.45l1.6 1.6-1.6 1.6-1.6-1.6zM473.16 207.19l1.6 1.6-1.6 1.6-1.6-1.6zM496.17 200.49l1.6 1.6-1.6 1.6-1.6-1.6zM513.1 206.12l1.6 1.6-1.6 1.6-1.6-1.6zM434.19 211.54l1.6 1.6-1.6 1.6-1.6-1.6zM516.12 200.29l1.6 1.6-1.6 1.6-1.6-1.6zM462.87 212.16l1.6 1.6-1.6 1.6-1.6-1.6zM507.64 209.3l1.6 1.6-1.6 1.6-1.6-1.6zM482.98 205.12l1.6 1.6-1.6 1.6-1.6-1.6zM442.89 204.99l1.6 1.6-1.6 1.6-1.6-1.6zM461.97 204.5l1.6 1.6-1.6 1.6-1.6-1.6zM507.54 203.64l1.6 1.6-1.6 1.6-1.6-1.6zM470.17 197.08l1.6 1.6-1.6 1.6-1.6-1.6zM510.4 202.27l1.6 1.6-1.6 1.6-1.6-1.6zM492.93 197.62l1.6 1.6-1.6 1.6-1.6-1.6zM486.2 209.74l1.6 1.6-1.6 1.6-1.6-1.6zM516.79 196.46l1.6 1.6-1.6 1.6-1.6-1.6zM463.63 211.14l1.6 1.6-1.6 1.6-1.6-1.6zM511.44 201.81l1.6 1.6-1.6 1.6-1.6-1.6zM527.43 200.5l1.6 1.6-1.6 1.6-1.6-1.6zM454.65 203.38l1.6 1.6-1.6 1.6-1.6-1.6zM504.1 208.38l1.6 1.6-1.6 1.6-1.6-1.6zM517.17 203.66l1.6 1.6-1.6 1.6-1.6-1.6zM511.66 214.47l1.6 1.6-1.6 1.6-1.6-1.6zM433.45 206.59l1.6 1.6-1.6 1.6-1.6-1.6zM496.67 196.1l1.6 1.6-1.6 1.6-1.6-1.6zM445.8 208.23l1.6 1.6-1.6 1.6-1.6-1.6zM519.84 202.82l1.6 1.6-1.6 1.6-1.6-1.6zM459.4 198.97l1.6 1.6-1.6 1.6-1.6-1.6zM510.59 214.61l1.6 1.6-1.6 1.6-1.6-1.6zM444.2 207.51l1.6 1.6-1.6 1.6-1.6-1.6zM472.91 202.52l1.6 1.6-1.6 1.6-1.6-1.6zM451.84 207.45l1.6 1.6-1.6 1.6-1.6-1.6zM452.04 209.43l1.6 1.6-1.6 1.6-1.6-1.6zM454.91 201.27l1.6 1.6-1.6 1.6-1.6-1.6zM464.76 213.44l1.6 1.6-1.6 1.6-1.6-1.6zM514.6 194.66l1.6 1.6-1.6 1.6-1.6-1.6zM536.1 192.56l1.6 1.6-1.6 1.6-1.6-1.6zM498.66 205.26l1.6 1.6-1.6 1.6-1.6-1.6zM497.71 213.75l1.6 1.6-1.6 1.6-1.6-1.6zM496.99 205.65l1.6 1.6-1.6 1.6-1.6-1.6zM464.76 198.14l1.6 1.6-1.6 1.6-1.6-1.6zM525.61 187.25l1.6 1.6-1.6 1.6-1.6-1.6zM478.67 195.87l1.6 1.6-1.6 1.6-1.6-1.6zM520.17 196.74l1.6 1.6-1.6 1.6-1.6-1.6zM463.25 206.59l1.6 1.6-1.6 1.6-1.6-1.6zM494.04 195.23l1.6 1.6-1.6 1.6-1.6-1.6zM513.91 212.3l1.6 1.6-1.6 1.6-1.6-1.6zM504.95 192.8l1.6 1.6-1.6 1.6-1.6-1.6zM505.48 195.85l1.6 1.6-1.6 1.6-1.6-1.6zM483.52 202.03l1.6 1.6-1.6 1.6-1.6-1.6zM499.7 193.24l1.6 1.6-1.6 1.6-1.6-1.6zM485.23 200.8l1.6 1.6-1.6 1.6-1.6-1.6zM485.06 199.47l1.6 1.6-1.6 1.6-1.6-1.6zM477.57 204.01l1.6 1.6-1.6 1.6-1.6-1.6zM464.87 200.61l1.6 1.6-1.6 1.6-1.6-1.6zM471.95 201.23l1.6 1.6-1.6 1.6-1.6-1.6zM503.48 202.74l1.6 1.6-1.6 1.6-1.6-1.6zM496.6 203.25l1.6 1.6-1.6 1.6-1.6-1.6zM520.02 197.71l1.6 1.6-1.6 1.6-1.6-1.6zM449.95 209.69l1.6 1.6-1.6 1.6-1.6-1.6zM500.46 199.98l1.6 1.6-1.6 1.6-1.6-1.6zM507.05 204.3l1.6 1.6-1.6 1.6-1.6-1.6zM460.53 210.76l1.6 1.6-1.6 1.6-1.6-1.6zM469.14 213.81l1.6 1.6-1.6 1.6-1.6-1.6zM461.53 207.13l1.6 1.6-1.6 1.6-1.6-1.6zM456.53 207.82l1.6 1.6-1.6 1.6-1.6-1.6zM445.83 207.63l1.6 1.6-1.6 1.6-1.6-1.6zM484.86 203.87l1.6 1.6-1.6 1.6-1.6-1.6zM533.53 209.46l1.6 1.6-1.6 1.6-1.6-1.6zM451.61 204.66l1.6 1.6-1.6 1.6-1.6-1.6zM486.69 216.71l1.6 1.6-1.6 1.6-1.6-1.6zM505.43 206.62l1.6 1.6-1.6 1.6-1.6-1.6zM509.39 198.83l1.6 1.6-1.6 1.6-1.6-1.6zM466.2 208.68l1.6 1.6-1.6 1.6-1.6-1.6zM477.5 196.6l1.6 1.6-1.6 1.6-1.6-1.6zM468.56 202.05l1.6 1.6-1.6 1.6-1.6-1.6zM493.47 192.47l1.6 1.6-1.6 1.6-1.6-1.6zM481.23 199.07l1.6 1.6-1.6 1.6-1.6-1.6zM454.86 204.78l1.6 1.6-1.6 1.6-1.6-1.6zM473.42 215.53l1.6 1.6-1.6 1.6-1.6-1.6zM484.14 190.44l1.6 1.6-1.6 1.6-1.6-1.6zM482.98 207.61l1.6 1.6-1.6 1.6-1.6-1.6zM502 209.67l1.6 1.6-1.6 1.6-1.6-1.6zM501.26 200.72l1.6 1.6-1.6 1.6-1.6-1.6zM451.85 200.3l1.6 1.6-1.6 1.6-1.6-1.6zM492.8 210.02l1.6 1.6-1.6 1.6-1.6-1.6zM477.3 199.56l1.6 1.6-1.6 1.6-1.6-1.6zM512.99 204.76l1.6 1.6-1.6 1.6-1.6-1.6zM526 208.47l1.6 1.6-1.6 1.6-1.6-1.6zM456.42 205.26l1.6 1.6-1.6 1.6-1.6-1.6zM480.99 198.37l1.6 1.6-1.6 1.6-1.6-1.6zM434.76 206.3l1.6 1.6-1.6 1.6-1.6-1.6zM480.08 213.91l1.6 1.6-1.6 1.6-1.6-1.6zM449.3 207.95l1.6 1.6-1.6 1.6-1.6-1.6zM488.89 205.93l1.6 1.6-1.6 1.6-1.6-1.6zM516.03 189.02l1.6 1.6-1.6 1.6-1.6-1.6zM531.4 205.11l1.6 1.6-1.6 1.6-1.6-1.6zM486.16 197.41l1.6 1.6-1.6 1.6-1.6-1.6zM522.26 198.67l1.6 1.6-1.6 1.6-1.6-1.6zM517.06 214.84l1.6 1.6-1.6 1.6-1.6-1.6zM491.63 202.29l1.6 1.6-1.6 1.6-1.6-1.6zM519.4 204.12l1.6 1.6-1.6 1.6-1.6-1.6zM484.79 200.49l1.6 1.6-1.6 1.6-1.6-1.6zM489.14 210.62l1.6 1.6-1.6 1.6-1.6-1.6zM449.08 198.42l1.6 1.6-1.6 1.6-1.6-1.6zM510.66 201.78l1.6 1.6-1.6 1.6-1.6-1.6zM470.67 201.75l1.6 1.6-1.6 1.6-1.6-1.6zM492.39 195.41l1.6 1.6-1.6 1.6-1.6-1.6zM519.74 194.77l1.6 1.6-1.6 1.6-1.6-1.6zM462.76 202.49l1.6 1.6-1.6 1.6-1.6-1.6zM499.58 210.84l1.6 1.6-1.6 1.6-1.6-1.6zM440.23 199.48l1.6 1.6-1.6 1.6-1.6-1.6zM497.22 190.51l1.6 1.6-1.6 1.6-1.6-1.6zM472.13 206.2l1.6 1.6-1.6 1.6-1.6-1.6zM517.73 197.57l1.6 1.6-1.6 1.6-1.6-1.6zM522.3 192.98l1.6 1.6-1.6 1.6-1.6-1.6zM506.76 196.23l1.6 1.6-1.6 1.6-1.6-1.6zM494.9 191.28l1.6 1.6-1.6 1.6-1.6-1.6zM475.52 200.55l1.6 1.6-1.6 1.6-1.6-1.6zM467.49 205.43l1.6 1.6-1.6 1.6-1.6-1.6zM428.14 207.61l1.6 1.6-1.6 1.6-1.6-1.6zM463.76 211.45l1.6 1.6-1.6 1.6-1.6-1.6zM480.19 201.7l1.6 1.6-1.6 1.6-1.6-1.6zM526.79 199.97l1.6 1.6-1.6 1.6-1.6-1.6zM492.98 211.14l1.6 1.6-1.6 1.6-1.6-1.6zM510.71 200.14l1.6 1.6-1.6 1.6-1.6-1.6zM446.93 201.29l1.6 1.6-1.6 1.6-1.6-1.6zM438 212.05l1.6 1.6-1.6 1.6-1.6-1.6zM496.17 197.01l1.6 1.6-1.6 1.6-1.6-1.6zM484.14 197.2l1.6 1.6-1.6 1.6-1.6-1.6zM473.53 218.89l1.6 1.6-1.6 1.6-1.6-1.6zM514.03 211.66l1.6 1.6-1.6 1.6-1.6-1.6zM505.77 200.8l1.6 1.6-1.6 1.6-1.6-1.6zM466.13 207.73l1.6 1.6-1.6 1.6-1.6-1.6zM491.2 205.98l1.6 1.6-1.6 1.6-1.6-1.6zM435.37 204.79l1.6 1.6-1.6 1.6-1.6-1.6zM509.27 191.53l1.6 1.6-1.6 1.6-1.6-1.6zM511.91 207.59l1.6 1.6-1.6 1.6-1.6-1.6zM464.58 210.62l1.6 1.6-1.6 1.6-1.6-1.6zM444.94 210.27l1.6 1.6-1.6 1.6-1.6-1.6zM502.96 199.73l1.6 1.6-1.6 1.6-1.6-1.6zM494.32 199.23l1.6 1.6-1.6 1.6-1.6-1.6zM501.49 209.2l1.6 1.6-1.6 1.6-1.6-1.6zM513.14 198.4l1.6 1.6-1.6 1.6-1.6-1.6zM534.02 190.36l1.6 1.6-1.6 1.6-1.6-1.6zM490.78 198.39l1.6 1.6-1.6 1.6-1.6-1.6zM472.18 202.18l1.6 1.6-1.6 1.6-1.6-1.6zM516.82 201.5l1.6 1.6-1.6 1.6-1.6-1.6zM437.71 206.38l1.6 1.6-1.6 1.6-1.6-1.6zM497.06 208.95l1.6 1.6-1.6 1.6-1.6-1.6zM467.62 201.9l1.6 1.6-1.6 1.6-1.6-1.6zM442.88 207.67l1.6 1.6-1.6 1.6-1.6-1.6zM513.71 202.29l1.6 1.6-1.6 1.6-1.6-1.6zM484.03 189.27l1.6 1.6-1.6 1.6-1.6-1.6zM479.26 204.32l1.6 1.6-1.6 1.6-1.6-1.6zM527.17 213.8l1.6 1.6-1.6 1.6-1.6-1.6zM496.9 208.87l1.6 1.6-1.6 1.6-1.6-1.6zM451.85 210.92l1.6 1.6-1.6 1.6-1.6-1.6zM490.74 210.09l1.6 1.6-1.6 1.6-1.6-1.6zM507.29 205.64l1.6 1.6-1.6 1.6-1.6-1.6zM465.08 208.5l1.6 1.6-1.6 1.6-1.6-1.6zM527.02 188.81l1.6 1.6-1.6 1.6-1.6-1.6zM446.13 205.57l1.6 1.6-1.6 1.6-1.6-1.6zM451.62 214.32l1.6 1.6-1.6 1.6-1.6-1.6zM502.68 206.27l1.6 1.6-1.6 1.6-1.6-1.6zM509.39 210.62l1.6 1.6-1.6 1.6-1.6-1.6zM514.36 203.92l1.6 1.6-1.6 1.6-1.6-1.6zM453.67 212.46l1.6 1.6-1.6 1.6-1.6-1.6zM461.13 198.71l1.6 1.6-1.6 1.6-1.6-1.6zM468.56 201.02l1.6 1.6-1.6 1.6-1.6-1.6zM501.49 197.77l1.6 1.6-1.6 1.6-1.6-1.6zM516.86 198.77l1.6 1.6-1.6 1.6-1.6-1.6zM485.33 209.1l1.6 1.6-1.6 1.6-1.6-1.6zM522.32 201.03l1.6 1.6-1.6 1.6-1.6-1.6zM485.21 191.2l1.6 1.6-1.6 1.6-1.6-1.6zM442.05 206.44l1.6 1.6-1.6 1.6-1.6-1.6zM507.66 201.06l1.6 1.6-1.6 1.6-1.6-1.6zM502.57 203.14l1.6 1.6-1.6 1.6-1.6-1.6zM468.6 207.59l1.6 1.6-1.6 1.6-1.6-1.6zM490.85 197.26l1.6 1.6-1.6 1.6-1.6-1.6zM457.33 209.73l1.6 1.6-1.6 1.6-1.6-1.6zM509.98 198.47l1.6 1.6-1.6 1.6-1.6-1.6zM491.67 207.41l1.6 1.6-1.6 1.6-1.6-1.6zM458.19 198.63l1.6 1.6-1.6 1.6-1.6-1.6zM514.35 197.63l1.6 1.6-1.6 1.6-1.6-1.6zM477.33 208.97l1.6 1.6-1.6 1.6-1.6-1.6zM516.02 186.28l1.6 1.6-1.6 1.6-1.6-1.6zM511.2 201.64l1.6 1.6-1.6 1.6-1.6-1.6zM522.87 199.12l1.6 1.6-1.6 1.6-1.6-1.6zM502.18 207.3l1.6 1.6-1.6 1.6-1.6-1.6zM511.21 203.75l1.6 1.6-1.6 1.6-1.6-1.6zM460.74 207.45l1.6 1.6-1.6 1.6-1.6-1.6zM505.79 204.72l1.6 1.6-1.6 1.6-1.6-1.6zM462.87 198.78l1.6 1.6-1.6 1.6-1.6-1.6zM498.22 200.93l1.6 1.6-1.6 1.6-1.6-1.6zM492.83 195.55l1.6 1.6-1.6 1.6-1.6-1.6zM456.34 202.98l1.6 1.6-1.6 1.6-1.6-1.6zM510.11 192.41l1.6 1.6-1.6 1.6-1.6-1.6zM460.81 203.99l1.6 1.6-1.6 1.6-1.6-1.6zM486.1 205.28l1.6 1.6-1.6 1.6-1.6-1.6zM499.66 203.05l1.6 1.6-1.6 1.6-1.6-1.6zM502.66 200.59l1.6 1.6-1.6 1.6-1.6-1.6zM467.33 200.69l1.6 1.6-1.6 1.6-1.6-1.6zM467.62 193.4l1.6 1.6-1.6 1.6-1.6-1.6zM503.32 201.66l1.6 1.6-1.6 1.6-1.6-1.6zM495.85 194.27l1.6 1.6-1.6 1.6-1.6-1.6zM456.35 205.94l1.6 1.6-1.6 1.6-1.6-1.6zM441.87 210.46l1.6 1.6-1.6 1.6-1.6-1.6zM491.14 208.55l1.6 1.6-1.6 1.6-1.6-1.6zM478.4 209.52l1.6 1.6-1.6 1.6-1.6-1.6zM471.21 211.4l1.6 1.6-1.6 1.6-1.6-1.6zM519.29 203.74l1.6 1.6-1.6 1.6-1.6-1.6zM481.77 210.18l1.6 1.6-1.6 1.6-1.6-1.6zM501.31 205.77l1.6 1.6-1.6 1.6-1.6-1.6zM518.94 194.67l1.6 1.6-1.6 1.6-1.6-1.6zM497.98 198.9l1.6 1.6-1.6 1.6-1.6-1.6zM520.49 195.39l1.6 1.6-1.6 1.6-1.6-1.6zM459.5 208.05l1.6 1.6-1.6 1.6-1.6-1.6zM466.74 204.64l1.6 1.6-1.6 1.6-1.6-1.6zM473.79 206.5l1.6 1.6-1.6 1.6-1.6-1.6zM508.59 207.19l1.6 1.6-1.6 1.6-1.6-1.6zM498.23 206.58l1.6 1.6-1.6 1.6-1.6-1.6zM512.73 208.67l1.6 1.6-1.6 1.6-1.6-1.6zM505.96 212.52l1.6 1.6-1.6 1.6-1.6-1.6zM482.34 207.82l1.6 1.6-1.6 1.6-1.6-1.6zM520.25 201.65l1.6 1.6-1.6 1.6-1.6-1.6zM470.23 204.05l1.6 1.6-1.6 1.6-1.6-1.6zM496.91 199.62l1.6 1.6-1.6 1.6-1.6-1.6zM496.65 208.73l1.6 1.6-1.6 1.6-1.6-1.6zM462.2 206.21l1.6 1.6-1.6 1.6-1.6-1.6zM510.99 204.32l1.6 1.6-1.6 1.6-1.6-1.6zM494.74 204.65l1.6 1.6-1.6 1.6-1.6-1.6zM460.88 210.63l1.6 1.6-1.6 1.6-1.6-1.6zM519.49 206.59l1.6 1.6-1.6 1.6-1.6-1.6zM503.53 204.55l1.6 1.6-1.6 1.6-1.6-1.6zM518.82 196.38l1.6 1.6-1.6 1.6-1.6-1.6zM430.58 208.95l1.6 1.6-1.6 1.6-1.6-1.6zM501.87 197.16l1.6 1.6-1.6 1.6-1.6-1.6zM462.99 200.16l1.6 1.6-1.6 1.6-1.6-1.6zM490.02 208.53l1.6 1.6-1.6 1.6-1.6-1.6zM526.25 200.26l1.6 1.6-1.6 1.6-1.6-1.6zM501.68 202.81l1.6 1.6-1.6 1.6-1.6-1.6zM457.82 205.82l1.6 1.6-1.6 1.6-1.6-1.6zM498.14 199.29l1.6 1.6-1.6 1.6-1.6-1.6zM513.4 208.24l1.6 1.6-1.6 1.6-1.6-1.6zM498.95 204.77l1.6 1.6-1.6 1.6-1.6-1.6zM499.57 201.54l1.6 1.6-1.6 1.6-1.6-1.6zM445.34 216.46l1.6 1.6-1.6 1.6-1.6-1.6zM499.32 209.65l1.6 1.6-1.6 1.6-1.6-1.6zM475.46 207.32l1.6 1.6-1.6 1.6-1.6-1.6zM513.03 193.73l1.6 1.6-1.6 1.6-1.6-1.6zM510.94 188.66l1.6 1.6-1.6 1.6-1.6-1.6zM508.6 195.32l1.6 1.6-1.6 1.6-1.6-1.6zM491.94 192.57l1.6 1.6-1.6 1.6-1.6-1.6zM515.92 203.08l1.6 1.6-1.6 1.6-1.6-1.6zM471.05 211.83l1.6 1.6-1.6 1.6-1.6-1.6zM525.91 206.71l1.6 1.6-1.6 1.6-1.6-1.6zM474.06 205.47l1.6 1.6-1.6 1.6-1.6-1.6zM457.78 201.82l1.6 1.6-1.6 1.6-1.6-1.6zM518.88 191.96l1.6 1.6-1.6 1.6-1.6-1.6zM464.05 206.72l1.6 1.6-1.6 1.6-1.6-1.6zM453.54 215.12l1.6 1.6-1.6 1.6-1.6-1.6zM502.62 203.15l1.6 1.6-1.6 1.6-1.6-1.6zM513.14 207.85l1.6 1.6-1.6 1.6-1.6-1.6zM481.66 203.25l1.6 1.6-1.6 1.6-1.6-1.6zM503.75 202.65l1.6 1.6-1.6 1.6-1.6-1.6zM530.03 196.29l1.6 1.6-1.6 1.6-1.6-1.6zM493.8 205.78l1.6 1.6-1.6 1.6-1.6-1.6zM471.68 213.13l1.6 1.6-1.6 1.6-1.6-1.6zM528.01 191.2l1.6 1.6-1.6 1.6-1.6-1.6zM458.89 204.15l1.6 1.6-1.6 1.6-1.6-1.6zM459.24 206.82l1.6 1.6-1.6 1.6-1.6-1.6zM475.29 203.15l1.6 1.6-1.6 1.6-1.6-1.6zM506.71 193.5l1.6 1.6-1.6 1.6-1.6-1.6zM478.46 200.67l1.6 1.6-1.6 1.6-1.6-1.6zM490.88 198.56l1.6 1.6-1.6 1.6-1.6-1.6zM498.16 202.45l1.6 1.6-1.6 1.6-1.6-1.6zM500.19 199.4l1.6 1.6-1.6 1.6-1.6-1.6zM490.48 206.66l1.6 1.6-1.6 1.6-1.6-1.6zM483.68 201.39l1.6 1.6-1.6 1.6-1.6-1.6zM482.48 193.14l1.6 1.6-1.6 1.6-1.6-1.6zM467.42 201.08l1.6 1.6-1.6 1.6-1.6-1.6zM465.95 202.74l1.6 1.6-1.6 1.6-1.6-1.6zM498.61 199.29l1.6 1.6-1.6 1.6-1.6-1.6zM483.43 204.97l1.6 1.6-1.6 1.6-1.6-1.6zM482.81 196.92l1.6 1.6-1.6 1.6-1.6-1.6zM515.56 195.94l1.6 1.6-1.6 1.6-1.6-1.6zM512.1 196.58l1.6 1.6-1.6 1.6-1.6-1.6zM493.39 193.59l1.6 1.6-1.6 1.6-1.6-1.6zM499.58 213.56l1.6 1.6-1.6 1.6-1.6-1.6zM529.11 198.6l1.6 1.6-1.6 1.6-1.6-1.6zM476.15 212.03l1.6 1.6-1.6 1.6-1.6-1.6zM503.9 207.76l1.6 1.6-1.6 1.6-1.6-1.6zM483.6 201.8l1.6 1.6-1.6 1.6-1.6-1.6zM470.33 210.36l1.6 1.6-1.6 1.6-1.6-1.6zM508.75 179.9l1.6 1.6-1.6 1.6-1.6-1.6zM518.75 182.9l1.6 1.6-1.6 1.6-1.6-1.6zM496.25 185.4l1.6 1.6-1.6 1.6-1.6-1.6zM468.75 188.4l1.6 1.6-1.6 1.6-1.6-1.6zM499.5 187.9l1.6 1.6-1.6 1.6-1.6-1.6zM505 187.9l1.6 1.6-1.6 1.6-1.6-1.6zM511.75 186.65l1.6 1.6-1.6 1.6-1.6-1.6zM516.25 187.4l1.6 1.6-1.6 1.6-1.6-1.6zM525 189.15l1.6 1.6-1.6 1.6-1.6-1.6zM528.25 188.65l1.6 1.6-1.6 1.6-1.6-1.6zM456.25 192.4l1.6 1.6-1.6 1.6-1.6-1.6zM476.25 190.4l1.6 1.6-1.6 1.6-1.6-1.6zM439.25 199.9l1.6 1.6-1.6 1.6-1.6-1.6zM447.5 197.4l1.6 1.6-1.6 1.6-1.6-1.6zM414.25 209.9l1.6 1.6-1.6 1.6-1.6-1.6zM418.25 203.4l1.6 1.6-1.6 1.6-1.6-1.6zM422 205.9l1.6 1.6-1.6 1.6-1.6-1.6zM428.75 206.65l1.6 1.6-1.6 1.6-1.6-1.6zM433.25 203.4l1.6 1.6-1.6 1.6-1.6-1.6zM537 195.9l1.6 1.6-1.6 1.6-1.6-1.6zM538.5 198.4l1.6 1.6-1.6 1.6-1.6-1.6zM539.5 205.9l1.6 1.6-1.6 1.6-1.6-1.6zM558 200.4l1.6 1.6-1.6 1.6-1.6-1.6zM559 204.65l1.6 1.6-1.6 1.6-1.6-1.6zM555 205.9l1.6 1.6-1.6 1.6-1.6-1.6zM550 209.9l1.6 1.6-1.6 1.6-1.6-1.6zM408.75 212.65l1.6 1.6-1.6 1.6-1.6-1.6zM443 218.15l1.6 1.6-1.6 1.6-1.6-1.6zM462.5 214.4l1.6 1.6-1.6 1.6-1.6-1.6zM466.25 215.9l1.6 1.6-1.6 1.6-1.6-1.6zM471.25 216.9l1.6 1.6-1.6 1.6-1.6-1.6zM474.5 215.15l1.6 1.6-1.6 1.6-1.6-1.6zM487.5 215.65l1.6 1.6-1.6 1.6-1.6-1.6zM497.5 214.65l1.6 1.6-1.6 1.6-1.6-1.6zM492.5 227.65l1.6 1.6-1.6 1.6-1.6-1.6zM505 214.65l1.6 1.6-1.6 1.6-1.6-1.6zM515 214.65l1.6 1.6-1.6 1.6-1.6-1.6zM526.25 215.15l1.6 1.6-1.6 1.6-1.6-1.6zM533.75 226.4l1.6 1.6-1.6 1.6-1.6-1.6zM546.25 216.4l1.6 1.6-1.6 1.6-1.6-1.6zM547.5 232.4l1.6 1.6-1.6 1.6-1.6-1.6zM552 220.15l1.6 1.6-1.6 1.6-1.6-1.6zM553.25 214.4l1.6 1.6-1.6 1.6-1.6-1.6zM557.5 215.15l1.6 1.6-1.6 1.6-1.6-1.6zM542.5 212.65l1.6 1.6-1.6 1.6-1.6-1.6z"/>
<line class="dash" stroke-width="0.85" x1="406.2" y1="204.5" x2="565.3" y2="204.5"/>
<path class="ax" d="M402.65 148V269.45"/>
<path class="ax" d="M402.65 269.45H567.6"/>
<path class="ax" d="M402.65 266.3h-2.2M402.65 252.05h-2.2M402.65 237.8h-2.2M402.65 223.55h-2.2M402.65 209.3h-2.2M402.65 195.05h-2.2M402.65 180.8h-2.2M402.65 166.55h-2.2M402.65 152.3h-2.2M406.5 269.45v2.2M438.16 269.45v2.2M469.82 269.45v2.2M501.48 269.45v2.2M533.14 269.45v2.2M564.8 269.45v2.2"/>
<text class="tl" transform="translate(398.3 266.3) rotate(-90)">-80</text>
<text class="tl" transform="translate(398.3 252.05) rotate(-90)">-60</text>
<text class="tl" transform="translate(398.3 237.8) rotate(-90)">-40</text>
<text class="tl" transform="translate(398.3 223.55) rotate(-90)">-20</text>
<text class="tl" transform="translate(398.3 209.3) rotate(-90)">0</text>
<text class="tl" transform="translate(398.3 195.05) rotate(-90)">20</text>
<text class="tl" transform="translate(398.3 180.8) rotate(-90)">40</text>
<text class="tl" transform="translate(398.3 166.55) rotate(-90)">60</text>
<text class="tl" transform="translate(398.3 152.3) rotate(-90)">80</text>
<text class="tl" x="406.5" y="277.8">10</text>
<text class="tl" x="438.16" y="277.8">30</text>
<text class="tl" x="469.82" y="277.8">50</text>
<text class="tl" x="501.48" y="277.8">70</text>
<text class="tl" x="533.14" y="277.8">90</text>
<text class="tl" x="564.8" y="277.8">110</text>
<text class="tt" style="font-size:5.23px" transform="translate(393 207.75) rotate(-90)">Difference CKD-Epi(Crea/Cys)-mGFR</text>
<text class="tt" x="485.3" y="281.7">Average of CKD-Epi(Crea/Cys) and mGFR</text>
</g>
<text class="lab" x="0.5" y="10.25">3a)</text>
<text class="lab" x="383.4" y="10.5">3b)</text>
</svg>
</body>
</html>
